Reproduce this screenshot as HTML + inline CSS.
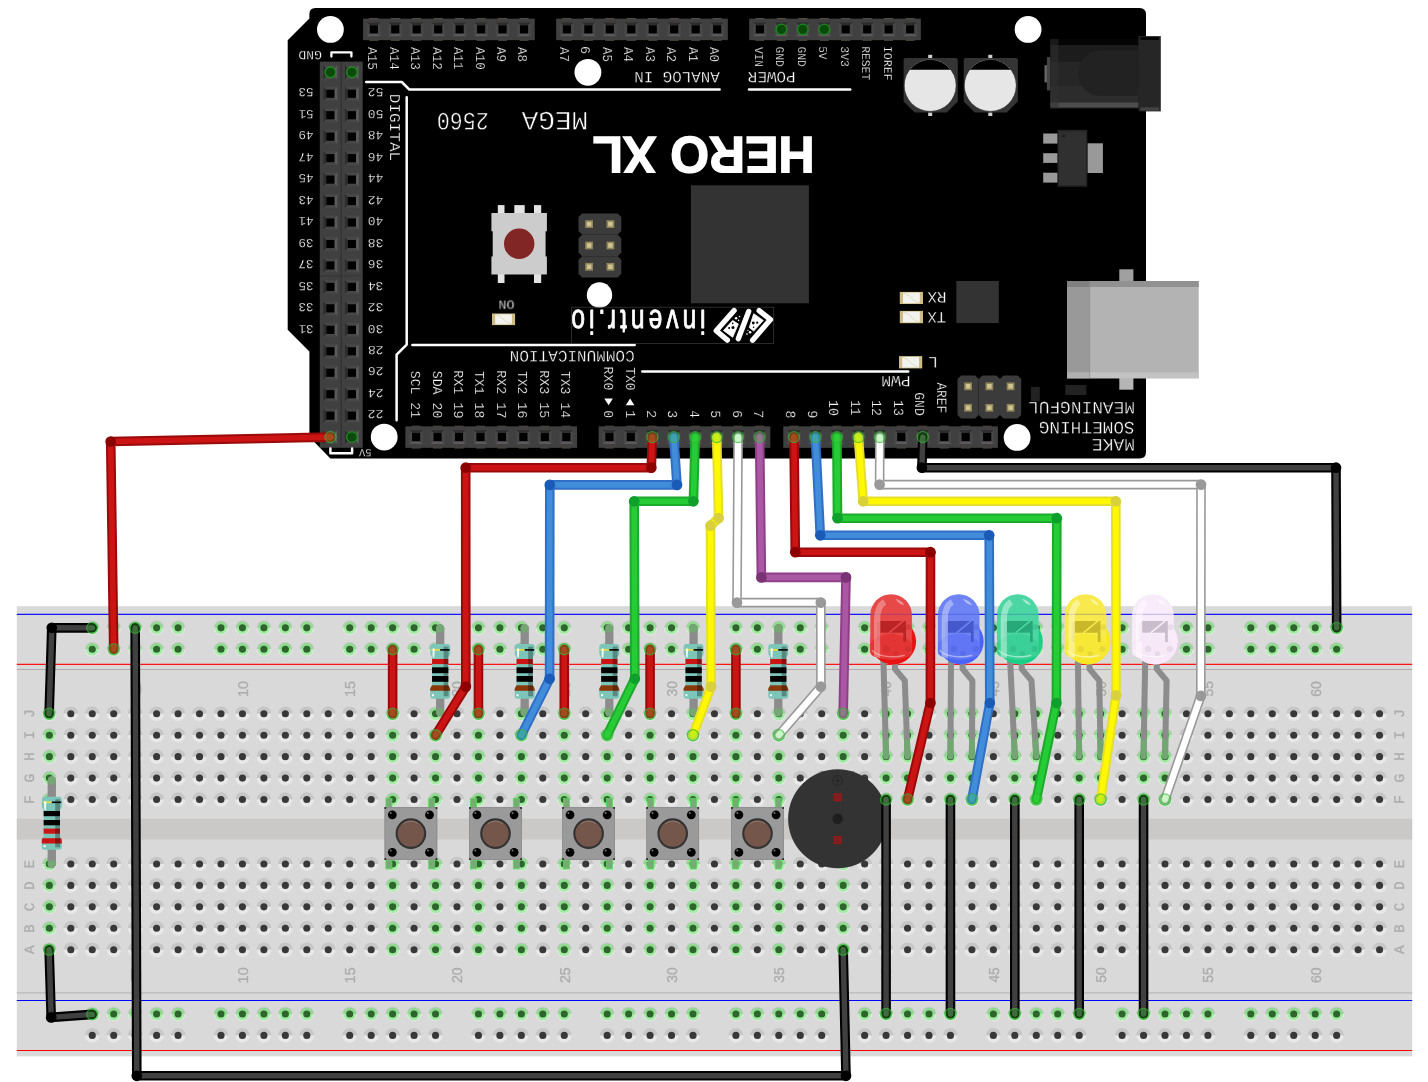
<!DOCTYPE html>
<html><head><meta charset="utf-8"><title>HERO XL breadboard wiring</title>
<style>html,body{margin:0;padding:0;background:#fff}svg{display:block;will-change:transform}text{text-rendering:geometricPrecision}</style></head>
<body><svg width="1428" height="1082" viewBox="0 0 1428 1082">
<rect x="16.8" y="606.2" width="1395.4" height="450.2" fill="#d9d9d9"/>
<rect x="16.8" y="818.7" width="1395.4" height="20.8" fill="#cbc9c7"/>
<line x1="16.8" x2="1412.2" y1="614.35" y2="614.35" stroke="#1414ff" stroke-width="1.3"/>
<line x1="16.8" x2="1412.2" y1="664.3" y2="664.3" stroke="#ff1616" stroke-width="1.3"/>
<line x1="16.8" x2="1412.2" y1="669.45" y2="669.45" stroke="#b0aeac" stroke-width="1.1"/>
<line x1="16.8" x2="1412.2" y1="992.85" y2="992.85" stroke="#bab8b8" stroke-width="1.3"/>
<line x1="16.8" x2="1412.2" y1="1000.5" y2="1000.5" stroke="#0000ff" stroke-width="1"/>
<line x1="16.8" x2="1412.2" y1="1050.5" y2="1050.5" stroke="#ff0000" stroke-width="1"/>
<defs>
<g id="h"><path d="M-7.3,0A7.3,7.3 0 0 1 7.3,0Z" fill="#c6c6c6"/><path d="M-7.3,0A7.3,7.3 0 0 0 7.3,0Z" fill="#e8e8e8"/><circle r="3.55" fill="#383838"/></g>
<g id="g"><path d="M-7.3,0A7.3,7.3 0 0 1 7.3,0Z" fill="#c6c6c6"/><path d="M-7.3,0A7.3,7.3 0 0 0 7.3,0Z" fill="#e8e8e8"/><path d="M-6.3,0A6.3,6.3 0 0 1 6.3,0Z" fill="#8edb8e"/><path d="M-6.3,0A6.3,6.3 0 0 0 6.3,0Z" fill="#a4eca4"/><circle r="3.55" fill="#2d652d"/></g>
</defs>
<use href="#g" x="92.26" y="627.85"/>
<use href="#g" x="92.26" y="649.3"/>
<use href="#g" x="92.26" y="1013.95"/>
<use href="#h" x="92.26" y="1035.4"/>
<use href="#g" x="113.72" y="627.85"/>
<use href="#g" x="113.72" y="649.3"/>
<use href="#g" x="113.72" y="1013.95"/>
<use href="#h" x="113.72" y="1035.4"/>
<use href="#g" x="135.17" y="627.85"/>
<use href="#g" x="135.17" y="649.3"/>
<use href="#g" x="135.17" y="1013.95"/>
<use href="#h" x="135.17" y="1035.4"/>
<use href="#g" x="156.62" y="627.85"/>
<use href="#g" x="156.62" y="649.3"/>
<use href="#g" x="156.62" y="1013.95"/>
<use href="#h" x="156.62" y="1035.4"/>
<use href="#g" x="178.08" y="627.85"/>
<use href="#g" x="178.08" y="649.3"/>
<use href="#g" x="178.08" y="1013.95"/>
<use href="#h" x="178.08" y="1035.4"/>
<use href="#g" x="220.99" y="627.85"/>
<use href="#g" x="220.99" y="649.3"/>
<use href="#g" x="220.99" y="1013.95"/>
<use href="#h" x="220.99" y="1035.4"/>
<use href="#g" x="242.44" y="627.85"/>
<use href="#g" x="242.44" y="649.3"/>
<use href="#g" x="242.44" y="1013.95"/>
<use href="#h" x="242.44" y="1035.4"/>
<use href="#g" x="263.9" y="627.85"/>
<use href="#g" x="263.9" y="649.3"/>
<use href="#g" x="263.9" y="1013.95"/>
<use href="#h" x="263.9" y="1035.4"/>
<use href="#g" x="285.36" y="627.85"/>
<use href="#g" x="285.36" y="649.3"/>
<use href="#g" x="285.36" y="1013.95"/>
<use href="#h" x="285.36" y="1035.4"/>
<use href="#g" x="306.81" y="627.85"/>
<use href="#g" x="306.81" y="649.3"/>
<use href="#g" x="306.81" y="1013.95"/>
<use href="#h" x="306.81" y="1035.4"/>
<use href="#g" x="349.72" y="627.85"/>
<use href="#g" x="349.72" y="649.3"/>
<use href="#g" x="349.72" y="1013.95"/>
<use href="#h" x="349.72" y="1035.4"/>
<use href="#g" x="371.18" y="627.85"/>
<use href="#g" x="371.18" y="649.3"/>
<use href="#g" x="371.18" y="1013.95"/>
<use href="#h" x="371.18" y="1035.4"/>
<use href="#g" x="392.63" y="627.85"/>
<use href="#g" x="392.63" y="649.3"/>
<use href="#g" x="392.63" y="1013.95"/>
<use href="#h" x="392.63" y="1035.4"/>
<use href="#g" x="414.08" y="627.85"/>
<use href="#g" x="414.08" y="649.3"/>
<use href="#g" x="414.08" y="1013.95"/>
<use href="#h" x="414.08" y="1035.4"/>
<use href="#g" x="435.54" y="627.85"/>
<use href="#g" x="435.54" y="649.3"/>
<use href="#g" x="435.54" y="1013.95"/>
<use href="#h" x="435.54" y="1035.4"/>
<use href="#g" x="478.45" y="627.85"/>
<use href="#g" x="478.45" y="649.3"/>
<use href="#g" x="478.45" y="1013.95"/>
<use href="#h" x="478.45" y="1035.4"/>
<use href="#g" x="499.9" y="627.85"/>
<use href="#g" x="499.9" y="649.3"/>
<use href="#g" x="499.9" y="1013.95"/>
<use href="#h" x="499.9" y="1035.4"/>
<use href="#g" x="521.36" y="627.85"/>
<use href="#g" x="521.36" y="649.3"/>
<use href="#g" x="521.36" y="1013.95"/>
<use href="#h" x="521.36" y="1035.4"/>
<use href="#g" x="542.81" y="627.85"/>
<use href="#g" x="542.81" y="649.3"/>
<use href="#g" x="542.81" y="1013.95"/>
<use href="#h" x="542.81" y="1035.4"/>
<use href="#g" x="564.27" y="627.85"/>
<use href="#g" x="564.27" y="649.3"/>
<use href="#g" x="564.27" y="1013.95"/>
<use href="#h" x="564.27" y="1035.4"/>
<use href="#g" x="607.18" y="627.85"/>
<use href="#g" x="607.18" y="649.3"/>
<use href="#g" x="607.18" y="1013.95"/>
<use href="#h" x="607.18" y="1035.4"/>
<use href="#g" x="628.63" y="627.85"/>
<use href="#g" x="628.63" y="649.3"/>
<use href="#g" x="628.63" y="1013.95"/>
<use href="#h" x="628.63" y="1035.4"/>
<use href="#g" x="650.09" y="627.85"/>
<use href="#g" x="650.09" y="649.3"/>
<use href="#g" x="650.09" y="1013.95"/>
<use href="#h" x="650.09" y="1035.4"/>
<use href="#g" x="671.54" y="627.85"/>
<use href="#g" x="671.54" y="649.3"/>
<use href="#g" x="671.54" y="1013.95"/>
<use href="#h" x="671.54" y="1035.4"/>
<use href="#g" x="693" y="627.85"/>
<use href="#g" x="693" y="649.3"/>
<use href="#g" x="693" y="1013.95"/>
<use href="#h" x="693" y="1035.4"/>
<use href="#g" x="735.91" y="627.85"/>
<use href="#g" x="735.91" y="649.3"/>
<use href="#g" x="735.91" y="1013.95"/>
<use href="#h" x="735.91" y="1035.4"/>
<use href="#g" x="757.37" y="627.85"/>
<use href="#g" x="757.37" y="649.3"/>
<use href="#g" x="757.37" y="1013.95"/>
<use href="#h" x="757.37" y="1035.4"/>
<use href="#g" x="778.82" y="627.85"/>
<use href="#g" x="778.82" y="649.3"/>
<use href="#g" x="778.82" y="1013.95"/>
<use href="#h" x="778.82" y="1035.4"/>
<use href="#g" x="800.27" y="627.85"/>
<use href="#g" x="800.27" y="649.3"/>
<use href="#g" x="800.27" y="1013.95"/>
<use href="#h" x="800.27" y="1035.4"/>
<use href="#g" x="821.73" y="627.85"/>
<use href="#g" x="821.73" y="649.3"/>
<use href="#g" x="821.73" y="1013.95"/>
<use href="#h" x="821.73" y="1035.4"/>
<use href="#g" x="864.64" y="627.85"/>
<use href="#g" x="864.64" y="649.3"/>
<use href="#g" x="864.64" y="1013.95"/>
<use href="#h" x="864.64" y="1035.4"/>
<use href="#g" x="886.09" y="627.85"/>
<use href="#g" x="886.09" y="649.3"/>
<use href="#g" x="886.09" y="1013.95"/>
<use href="#h" x="886.09" y="1035.4"/>
<use href="#g" x="907.55" y="627.85"/>
<use href="#g" x="907.55" y="649.3"/>
<use href="#g" x="907.55" y="1013.95"/>
<use href="#h" x="907.55" y="1035.4"/>
<use href="#g" x="929" y="627.85"/>
<use href="#g" x="929" y="649.3"/>
<use href="#g" x="929" y="1013.95"/>
<use href="#h" x="929" y="1035.4"/>
<use href="#g" x="950.46" y="627.85"/>
<use href="#g" x="950.46" y="649.3"/>
<use href="#g" x="950.46" y="1013.95"/>
<use href="#h" x="950.46" y="1035.4"/>
<use href="#g" x="993.37" y="627.85"/>
<use href="#g" x="993.37" y="649.3"/>
<use href="#g" x="993.37" y="1013.95"/>
<use href="#h" x="993.37" y="1035.4"/>
<use href="#g" x="1014.82" y="627.85"/>
<use href="#g" x="1014.82" y="649.3"/>
<use href="#g" x="1014.82" y="1013.95"/>
<use href="#h" x="1014.82" y="1035.4"/>
<use href="#g" x="1036.28" y="627.85"/>
<use href="#g" x="1036.28" y="649.3"/>
<use href="#g" x="1036.28" y="1013.95"/>
<use href="#h" x="1036.28" y="1035.4"/>
<use href="#g" x="1057.73" y="627.85"/>
<use href="#g" x="1057.73" y="649.3"/>
<use href="#g" x="1057.73" y="1013.95"/>
<use href="#h" x="1057.73" y="1035.4"/>
<use href="#g" x="1079.19" y="627.85"/>
<use href="#g" x="1079.19" y="649.3"/>
<use href="#g" x="1079.19" y="1013.95"/>
<use href="#h" x="1079.19" y="1035.4"/>
<use href="#g" x="1122.1" y="627.85"/>
<use href="#g" x="1122.1" y="649.3"/>
<use href="#g" x="1122.1" y="1013.95"/>
<use href="#h" x="1122.1" y="1035.4"/>
<use href="#g" x="1143.55" y="627.85"/>
<use href="#g" x="1143.55" y="649.3"/>
<use href="#g" x="1143.55" y="1013.95"/>
<use href="#h" x="1143.55" y="1035.4"/>
<use href="#g" x="1165.01" y="627.85"/>
<use href="#g" x="1165.01" y="649.3"/>
<use href="#g" x="1165.01" y="1013.95"/>
<use href="#h" x="1165.01" y="1035.4"/>
<use href="#g" x="1186.46" y="627.85"/>
<use href="#g" x="1186.46" y="649.3"/>
<use href="#g" x="1186.46" y="1013.95"/>
<use href="#h" x="1186.46" y="1035.4"/>
<use href="#g" x="1207.92" y="627.85"/>
<use href="#g" x="1207.92" y="649.3"/>
<use href="#g" x="1207.92" y="1013.95"/>
<use href="#h" x="1207.92" y="1035.4"/>
<use href="#g" x="1250.83" y="627.85"/>
<use href="#g" x="1250.83" y="649.3"/>
<use href="#g" x="1250.83" y="1013.95"/>
<use href="#h" x="1250.83" y="1035.4"/>
<use href="#g" x="1272.28" y="627.85"/>
<use href="#g" x="1272.28" y="649.3"/>
<use href="#g" x="1272.28" y="1013.95"/>
<use href="#h" x="1272.28" y="1035.4"/>
<use href="#g" x="1293.74" y="627.85"/>
<use href="#g" x="1293.74" y="649.3"/>
<use href="#g" x="1293.74" y="1013.95"/>
<use href="#h" x="1293.74" y="1035.4"/>
<use href="#g" x="1315.19" y="627.85"/>
<use href="#g" x="1315.19" y="649.3"/>
<use href="#g" x="1315.19" y="1013.95"/>
<use href="#h" x="1315.19" y="1035.4"/>
<use href="#g" x="1336.65" y="627.85"/>
<use href="#g" x="1336.65" y="649.3"/>
<use href="#g" x="1336.65" y="1013.95"/>
<use href="#h" x="1336.65" y="1035.4"/>
<use href="#g" x="49.35" y="713.75"/>
<use href="#g" x="49.35" y="735.2"/>
<use href="#g" x="49.35" y="756.65"/>
<use href="#g" x="49.35" y="778.1"/>
<use href="#g" x="49.35" y="799.55"/>
<use href="#g" x="49.35" y="863.95"/>
<use href="#g" x="49.35" y="885.4"/>
<use href="#g" x="49.35" y="906.85"/>
<use href="#g" x="49.35" y="928.3"/>
<use href="#g" x="49.35" y="949.75"/>
<use href="#h" x="70.81" y="713.75"/>
<use href="#h" x="70.81" y="735.2"/>
<use href="#h" x="70.81" y="756.65"/>
<use href="#h" x="70.81" y="778.1"/>
<use href="#h" x="70.81" y="799.55"/>
<use href="#h" x="70.81" y="863.95"/>
<use href="#h" x="70.81" y="885.4"/>
<use href="#h" x="70.81" y="906.85"/>
<use href="#h" x="70.81" y="928.3"/>
<use href="#h" x="70.81" y="949.75"/>
<use href="#h" x="92.26" y="713.75"/>
<use href="#h" x="92.26" y="735.2"/>
<use href="#h" x="92.26" y="756.65"/>
<use href="#h" x="92.26" y="778.1"/>
<use href="#h" x="92.26" y="799.55"/>
<use href="#h" x="92.26" y="863.95"/>
<use href="#h" x="92.26" y="885.4"/>
<use href="#h" x="92.26" y="906.85"/>
<use href="#h" x="92.26" y="928.3"/>
<use href="#h" x="92.26" y="949.75"/>
<use href="#h" x="113.72" y="713.75"/>
<use href="#h" x="113.72" y="735.2"/>
<use href="#h" x="113.72" y="756.65"/>
<use href="#h" x="113.72" y="778.1"/>
<use href="#h" x="113.72" y="799.55"/>
<use href="#h" x="113.72" y="863.95"/>
<use href="#h" x="113.72" y="885.4"/>
<use href="#h" x="113.72" y="906.85"/>
<use href="#h" x="113.72" y="928.3"/>
<use href="#h" x="113.72" y="949.75"/>
<use href="#h" x="135.17" y="713.75"/>
<use href="#h" x="135.17" y="735.2"/>
<use href="#h" x="135.17" y="756.65"/>
<use href="#h" x="135.17" y="778.1"/>
<use href="#h" x="135.17" y="799.55"/>
<use href="#h" x="135.17" y="863.95"/>
<use href="#h" x="135.17" y="885.4"/>
<use href="#h" x="135.17" y="906.85"/>
<use href="#h" x="135.17" y="928.3"/>
<use href="#h" x="135.17" y="949.75"/>
<use href="#h" x="156.62" y="713.75"/>
<use href="#h" x="156.62" y="735.2"/>
<use href="#h" x="156.62" y="756.65"/>
<use href="#h" x="156.62" y="778.1"/>
<use href="#h" x="156.62" y="799.55"/>
<use href="#h" x="156.62" y="863.95"/>
<use href="#h" x="156.62" y="885.4"/>
<use href="#h" x="156.62" y="906.85"/>
<use href="#h" x="156.62" y="928.3"/>
<use href="#h" x="156.62" y="949.75"/>
<use href="#h" x="178.08" y="713.75"/>
<use href="#h" x="178.08" y="735.2"/>
<use href="#h" x="178.08" y="756.65"/>
<use href="#h" x="178.08" y="778.1"/>
<use href="#h" x="178.08" y="799.55"/>
<use href="#h" x="178.08" y="863.95"/>
<use href="#h" x="178.08" y="885.4"/>
<use href="#h" x="178.08" y="906.85"/>
<use href="#h" x="178.08" y="928.3"/>
<use href="#h" x="178.08" y="949.75"/>
<use href="#h" x="199.53" y="713.75"/>
<use href="#h" x="199.53" y="735.2"/>
<use href="#h" x="199.53" y="756.65"/>
<use href="#h" x="199.53" y="778.1"/>
<use href="#h" x="199.53" y="799.55"/>
<use href="#h" x="199.53" y="863.95"/>
<use href="#h" x="199.53" y="885.4"/>
<use href="#h" x="199.53" y="906.85"/>
<use href="#h" x="199.53" y="928.3"/>
<use href="#h" x="199.53" y="949.75"/>
<use href="#h" x="220.99" y="713.75"/>
<use href="#h" x="220.99" y="735.2"/>
<use href="#h" x="220.99" y="756.65"/>
<use href="#h" x="220.99" y="778.1"/>
<use href="#h" x="220.99" y="799.55"/>
<use href="#h" x="220.99" y="863.95"/>
<use href="#h" x="220.99" y="885.4"/>
<use href="#h" x="220.99" y="906.85"/>
<use href="#h" x="220.99" y="928.3"/>
<use href="#h" x="220.99" y="949.75"/>
<use href="#h" x="242.44" y="713.75"/>
<use href="#h" x="242.44" y="735.2"/>
<use href="#h" x="242.44" y="756.65"/>
<use href="#h" x="242.44" y="778.1"/>
<use href="#h" x="242.44" y="799.55"/>
<use href="#h" x="242.44" y="863.95"/>
<use href="#h" x="242.44" y="885.4"/>
<use href="#h" x="242.44" y="906.85"/>
<use href="#h" x="242.44" y="928.3"/>
<use href="#h" x="242.44" y="949.75"/>
<use href="#h" x="263.9" y="713.75"/>
<use href="#h" x="263.9" y="735.2"/>
<use href="#h" x="263.9" y="756.65"/>
<use href="#h" x="263.9" y="778.1"/>
<use href="#h" x="263.9" y="799.55"/>
<use href="#h" x="263.9" y="863.95"/>
<use href="#h" x="263.9" y="885.4"/>
<use href="#h" x="263.9" y="906.85"/>
<use href="#h" x="263.9" y="928.3"/>
<use href="#h" x="263.9" y="949.75"/>
<use href="#h" x="285.36" y="713.75"/>
<use href="#h" x="285.36" y="735.2"/>
<use href="#h" x="285.36" y="756.65"/>
<use href="#h" x="285.36" y="778.1"/>
<use href="#h" x="285.36" y="799.55"/>
<use href="#h" x="285.36" y="863.95"/>
<use href="#h" x="285.36" y="885.4"/>
<use href="#h" x="285.36" y="906.85"/>
<use href="#h" x="285.36" y="928.3"/>
<use href="#h" x="285.36" y="949.75"/>
<use href="#h" x="306.81" y="713.75"/>
<use href="#h" x="306.81" y="735.2"/>
<use href="#h" x="306.81" y="756.65"/>
<use href="#h" x="306.81" y="778.1"/>
<use href="#h" x="306.81" y="799.55"/>
<use href="#h" x="306.81" y="863.95"/>
<use href="#h" x="306.81" y="885.4"/>
<use href="#h" x="306.81" y="906.85"/>
<use href="#h" x="306.81" y="928.3"/>
<use href="#h" x="306.81" y="949.75"/>
<use href="#h" x="328.26" y="713.75"/>
<use href="#h" x="328.26" y="735.2"/>
<use href="#h" x="328.26" y="756.65"/>
<use href="#h" x="328.26" y="778.1"/>
<use href="#h" x="328.26" y="799.55"/>
<use href="#h" x="328.26" y="863.95"/>
<use href="#h" x="328.26" y="885.4"/>
<use href="#h" x="328.26" y="906.85"/>
<use href="#h" x="328.26" y="928.3"/>
<use href="#h" x="328.26" y="949.75"/>
<use href="#h" x="349.72" y="713.75"/>
<use href="#h" x="349.72" y="735.2"/>
<use href="#h" x="349.72" y="756.65"/>
<use href="#h" x="349.72" y="778.1"/>
<use href="#h" x="349.72" y="799.55"/>
<use href="#h" x="349.72" y="863.95"/>
<use href="#h" x="349.72" y="885.4"/>
<use href="#h" x="349.72" y="906.85"/>
<use href="#h" x="349.72" y="928.3"/>
<use href="#h" x="349.72" y="949.75"/>
<use href="#h" x="371.18" y="713.75"/>
<use href="#h" x="371.18" y="735.2"/>
<use href="#h" x="371.18" y="756.65"/>
<use href="#h" x="371.18" y="778.1"/>
<use href="#h" x="371.18" y="799.55"/>
<use href="#h" x="371.18" y="863.95"/>
<use href="#h" x="371.18" y="885.4"/>
<use href="#h" x="371.18" y="906.85"/>
<use href="#h" x="371.18" y="928.3"/>
<use href="#h" x="371.18" y="949.75"/>
<use href="#g" x="392.63" y="713.75"/>
<use href="#g" x="392.63" y="735.2"/>
<use href="#g" x="392.63" y="756.65"/>
<use href="#g" x="392.63" y="778.1"/>
<use href="#g" x="392.63" y="799.55"/>
<use href="#g" x="392.63" y="863.95"/>
<use href="#g" x="392.63" y="885.4"/>
<use href="#g" x="392.63" y="906.85"/>
<use href="#g" x="392.63" y="928.3"/>
<use href="#g" x="392.63" y="949.75"/>
<use href="#h" x="414.08" y="713.75"/>
<use href="#h" x="414.08" y="735.2"/>
<use href="#h" x="414.08" y="756.65"/>
<use href="#h" x="414.08" y="778.1"/>
<use href="#h" x="414.08" y="799.55"/>
<use href="#h" x="414.08" y="863.95"/>
<use href="#h" x="414.08" y="885.4"/>
<use href="#h" x="414.08" y="906.85"/>
<use href="#h" x="414.08" y="928.3"/>
<use href="#h" x="414.08" y="949.75"/>
<use href="#g" x="435.54" y="713.75"/>
<use href="#g" x="435.54" y="735.2"/>
<use href="#g" x="435.54" y="756.65"/>
<use href="#g" x="435.54" y="778.1"/>
<use href="#g" x="435.54" y="799.55"/>
<use href="#g" x="435.54" y="863.95"/>
<use href="#g" x="435.54" y="885.4"/>
<use href="#g" x="435.54" y="906.85"/>
<use href="#g" x="435.54" y="928.3"/>
<use href="#g" x="435.54" y="949.75"/>
<use href="#h" x="457" y="713.75"/>
<use href="#h" x="457" y="735.2"/>
<use href="#h" x="457" y="756.65"/>
<use href="#h" x="457" y="778.1"/>
<use href="#h" x="457" y="799.55"/>
<use href="#h" x="457" y="863.95"/>
<use href="#h" x="457" y="885.4"/>
<use href="#h" x="457" y="906.85"/>
<use href="#h" x="457" y="928.3"/>
<use href="#h" x="457" y="949.75"/>
<use href="#g" x="478.45" y="713.75"/>
<use href="#g" x="478.45" y="735.2"/>
<use href="#g" x="478.45" y="756.65"/>
<use href="#g" x="478.45" y="778.1"/>
<use href="#g" x="478.45" y="799.55"/>
<use href="#g" x="478.45" y="863.95"/>
<use href="#g" x="478.45" y="885.4"/>
<use href="#g" x="478.45" y="906.85"/>
<use href="#g" x="478.45" y="928.3"/>
<use href="#g" x="478.45" y="949.75"/>
<use href="#h" x="499.9" y="713.75"/>
<use href="#h" x="499.9" y="735.2"/>
<use href="#h" x="499.9" y="756.65"/>
<use href="#h" x="499.9" y="778.1"/>
<use href="#h" x="499.9" y="799.55"/>
<use href="#h" x="499.9" y="863.95"/>
<use href="#h" x="499.9" y="885.4"/>
<use href="#h" x="499.9" y="906.85"/>
<use href="#h" x="499.9" y="928.3"/>
<use href="#h" x="499.9" y="949.75"/>
<use href="#g" x="521.36" y="713.75"/>
<use href="#g" x="521.36" y="735.2"/>
<use href="#g" x="521.36" y="756.65"/>
<use href="#g" x="521.36" y="778.1"/>
<use href="#g" x="521.36" y="799.55"/>
<use href="#g" x="521.36" y="863.95"/>
<use href="#g" x="521.36" y="885.4"/>
<use href="#g" x="521.36" y="906.85"/>
<use href="#g" x="521.36" y="928.3"/>
<use href="#g" x="521.36" y="949.75"/>
<use href="#h" x="542.81" y="713.75"/>
<use href="#h" x="542.81" y="735.2"/>
<use href="#h" x="542.81" y="756.65"/>
<use href="#h" x="542.81" y="778.1"/>
<use href="#h" x="542.81" y="799.55"/>
<use href="#h" x="542.81" y="863.95"/>
<use href="#h" x="542.81" y="885.4"/>
<use href="#h" x="542.81" y="906.85"/>
<use href="#h" x="542.81" y="928.3"/>
<use href="#h" x="542.81" y="949.75"/>
<use href="#g" x="564.27" y="713.75"/>
<use href="#g" x="564.27" y="735.2"/>
<use href="#g" x="564.27" y="756.65"/>
<use href="#g" x="564.27" y="778.1"/>
<use href="#g" x="564.27" y="799.55"/>
<use href="#g" x="564.27" y="863.95"/>
<use href="#g" x="564.27" y="885.4"/>
<use href="#g" x="564.27" y="906.85"/>
<use href="#g" x="564.27" y="928.3"/>
<use href="#g" x="564.27" y="949.75"/>
<use href="#h" x="585.73" y="713.75"/>
<use href="#h" x="585.73" y="735.2"/>
<use href="#h" x="585.73" y="756.65"/>
<use href="#h" x="585.73" y="778.1"/>
<use href="#h" x="585.73" y="799.55"/>
<use href="#h" x="585.73" y="863.95"/>
<use href="#h" x="585.73" y="885.4"/>
<use href="#h" x="585.73" y="906.85"/>
<use href="#h" x="585.73" y="928.3"/>
<use href="#h" x="585.73" y="949.75"/>
<use href="#g" x="607.18" y="713.75"/>
<use href="#g" x="607.18" y="735.2"/>
<use href="#g" x="607.18" y="756.65"/>
<use href="#g" x="607.18" y="778.1"/>
<use href="#g" x="607.18" y="799.55"/>
<use href="#g" x="607.18" y="863.95"/>
<use href="#g" x="607.18" y="885.4"/>
<use href="#g" x="607.18" y="906.85"/>
<use href="#g" x="607.18" y="928.3"/>
<use href="#g" x="607.18" y="949.75"/>
<use href="#h" x="628.63" y="713.75"/>
<use href="#h" x="628.63" y="735.2"/>
<use href="#h" x="628.63" y="756.65"/>
<use href="#h" x="628.63" y="778.1"/>
<use href="#h" x="628.63" y="799.55"/>
<use href="#h" x="628.63" y="863.95"/>
<use href="#h" x="628.63" y="885.4"/>
<use href="#h" x="628.63" y="906.85"/>
<use href="#h" x="628.63" y="928.3"/>
<use href="#h" x="628.63" y="949.75"/>
<use href="#g" x="650.09" y="713.75"/>
<use href="#g" x="650.09" y="735.2"/>
<use href="#g" x="650.09" y="756.65"/>
<use href="#g" x="650.09" y="778.1"/>
<use href="#g" x="650.09" y="799.55"/>
<use href="#g" x="650.09" y="863.95"/>
<use href="#g" x="650.09" y="885.4"/>
<use href="#g" x="650.09" y="906.85"/>
<use href="#g" x="650.09" y="928.3"/>
<use href="#g" x="650.09" y="949.75"/>
<use href="#h" x="671.54" y="713.75"/>
<use href="#h" x="671.54" y="735.2"/>
<use href="#h" x="671.54" y="756.65"/>
<use href="#h" x="671.54" y="778.1"/>
<use href="#h" x="671.54" y="799.55"/>
<use href="#h" x="671.54" y="863.95"/>
<use href="#h" x="671.54" y="885.4"/>
<use href="#h" x="671.54" y="906.85"/>
<use href="#h" x="671.54" y="928.3"/>
<use href="#h" x="671.54" y="949.75"/>
<use href="#g" x="693" y="713.75"/>
<use href="#g" x="693" y="735.2"/>
<use href="#g" x="693" y="756.65"/>
<use href="#g" x="693" y="778.1"/>
<use href="#g" x="693" y="799.55"/>
<use href="#g" x="693" y="863.95"/>
<use href="#g" x="693" y="885.4"/>
<use href="#g" x="693" y="906.85"/>
<use href="#g" x="693" y="928.3"/>
<use href="#g" x="693" y="949.75"/>
<use href="#h" x="714.45" y="713.75"/>
<use href="#h" x="714.45" y="735.2"/>
<use href="#h" x="714.45" y="756.65"/>
<use href="#h" x="714.45" y="778.1"/>
<use href="#h" x="714.45" y="799.55"/>
<use href="#h" x="714.45" y="863.95"/>
<use href="#h" x="714.45" y="885.4"/>
<use href="#h" x="714.45" y="906.85"/>
<use href="#h" x="714.45" y="928.3"/>
<use href="#h" x="714.45" y="949.75"/>
<use href="#g" x="735.91" y="713.75"/>
<use href="#g" x="735.91" y="735.2"/>
<use href="#g" x="735.91" y="756.65"/>
<use href="#g" x="735.91" y="778.1"/>
<use href="#g" x="735.91" y="799.55"/>
<use href="#g" x="735.91" y="863.95"/>
<use href="#g" x="735.91" y="885.4"/>
<use href="#g" x="735.91" y="906.85"/>
<use href="#g" x="735.91" y="928.3"/>
<use href="#g" x="735.91" y="949.75"/>
<use href="#h" x="757.37" y="713.75"/>
<use href="#h" x="757.37" y="735.2"/>
<use href="#h" x="757.37" y="756.65"/>
<use href="#h" x="757.37" y="778.1"/>
<use href="#h" x="757.37" y="799.55"/>
<use href="#h" x="757.37" y="863.95"/>
<use href="#h" x="757.37" y="885.4"/>
<use href="#h" x="757.37" y="906.85"/>
<use href="#h" x="757.37" y="928.3"/>
<use href="#h" x="757.37" y="949.75"/>
<use href="#g" x="778.82" y="713.75"/>
<use href="#g" x="778.82" y="735.2"/>
<use href="#g" x="778.82" y="756.65"/>
<use href="#g" x="778.82" y="778.1"/>
<use href="#g" x="778.82" y="799.55"/>
<use href="#g" x="778.82" y="863.95"/>
<use href="#g" x="778.82" y="885.4"/>
<use href="#g" x="778.82" y="906.85"/>
<use href="#g" x="778.82" y="928.3"/>
<use href="#g" x="778.82" y="949.75"/>
<use href="#h" x="800.27" y="713.75"/>
<use href="#h" x="800.27" y="735.2"/>
<use href="#h" x="800.27" y="756.65"/>
<use href="#h" x="800.27" y="778.1"/>
<use href="#h" x="800.27" y="799.55"/>
<use href="#h" x="800.27" y="863.95"/>
<use href="#h" x="800.27" y="885.4"/>
<use href="#h" x="800.27" y="906.85"/>
<use href="#h" x="800.27" y="928.3"/>
<use href="#h" x="800.27" y="949.75"/>
<use href="#h" x="821.73" y="713.75"/>
<use href="#h" x="821.73" y="735.2"/>
<use href="#h" x="821.73" y="756.65"/>
<use href="#h" x="821.73" y="778.1"/>
<use href="#h" x="821.73" y="799.55"/>
<use href="#h" x="821.73" y="863.95"/>
<use href="#h" x="821.73" y="885.4"/>
<use href="#h" x="821.73" y="906.85"/>
<use href="#h" x="821.73" y="928.3"/>
<use href="#h" x="821.73" y="949.75"/>
<use href="#g" x="843.18" y="713.75"/>
<use href="#g" x="843.18" y="735.2"/>
<use href="#g" x="843.18" y="756.65"/>
<use href="#g" x="843.18" y="778.1"/>
<use href="#g" x="843.18" y="799.55"/>
<use href="#g" x="843.18" y="863.95"/>
<use href="#g" x="843.18" y="885.4"/>
<use href="#g" x="843.18" y="906.85"/>
<use href="#g" x="843.18" y="928.3"/>
<use href="#g" x="843.18" y="949.75"/>
<use href="#h" x="864.64" y="713.75"/>
<use href="#h" x="864.64" y="735.2"/>
<use href="#h" x="864.64" y="756.65"/>
<use href="#h" x="864.64" y="778.1"/>
<use href="#h" x="864.64" y="799.55"/>
<use href="#h" x="864.64" y="863.95"/>
<use href="#h" x="864.64" y="885.4"/>
<use href="#h" x="864.64" y="906.85"/>
<use href="#h" x="864.64" y="928.3"/>
<use href="#h" x="864.64" y="949.75"/>
<use href="#g" x="886.09" y="713.75"/>
<use href="#g" x="886.09" y="735.2"/>
<use href="#g" x="886.09" y="756.65"/>
<use href="#g" x="886.09" y="778.1"/>
<use href="#g" x="886.09" y="799.55"/>
<use href="#h" x="886.09" y="863.95"/>
<use href="#h" x="886.09" y="885.4"/>
<use href="#h" x="886.09" y="906.85"/>
<use href="#h" x="886.09" y="928.3"/>
<use href="#h" x="886.09" y="949.75"/>
<use href="#g" x="907.55" y="713.75"/>
<use href="#g" x="907.55" y="735.2"/>
<use href="#g" x="907.55" y="756.65"/>
<use href="#g" x="907.55" y="778.1"/>
<use href="#g" x="907.55" y="799.55"/>
<use href="#h" x="907.55" y="863.95"/>
<use href="#h" x="907.55" y="885.4"/>
<use href="#h" x="907.55" y="906.85"/>
<use href="#h" x="907.55" y="928.3"/>
<use href="#h" x="907.55" y="949.75"/>
<use href="#h" x="929" y="713.75"/>
<use href="#h" x="929" y="735.2"/>
<use href="#h" x="929" y="756.65"/>
<use href="#h" x="929" y="778.1"/>
<use href="#h" x="929" y="799.55"/>
<use href="#h" x="929" y="863.95"/>
<use href="#h" x="929" y="885.4"/>
<use href="#h" x="929" y="906.85"/>
<use href="#h" x="929" y="928.3"/>
<use href="#h" x="929" y="949.75"/>
<use href="#g" x="950.46" y="713.75"/>
<use href="#g" x="950.46" y="735.2"/>
<use href="#g" x="950.46" y="756.65"/>
<use href="#g" x="950.46" y="778.1"/>
<use href="#g" x="950.46" y="799.55"/>
<use href="#h" x="950.46" y="863.95"/>
<use href="#h" x="950.46" y="885.4"/>
<use href="#h" x="950.46" y="906.85"/>
<use href="#h" x="950.46" y="928.3"/>
<use href="#h" x="950.46" y="949.75"/>
<use href="#g" x="971.91" y="713.75"/>
<use href="#g" x="971.91" y="735.2"/>
<use href="#g" x="971.91" y="756.65"/>
<use href="#g" x="971.91" y="778.1"/>
<use href="#g" x="971.91" y="799.55"/>
<use href="#h" x="971.91" y="863.95"/>
<use href="#h" x="971.91" y="885.4"/>
<use href="#h" x="971.91" y="906.85"/>
<use href="#h" x="971.91" y="928.3"/>
<use href="#h" x="971.91" y="949.75"/>
<use href="#h" x="993.37" y="713.75"/>
<use href="#h" x="993.37" y="735.2"/>
<use href="#h" x="993.37" y="756.65"/>
<use href="#h" x="993.37" y="778.1"/>
<use href="#h" x="993.37" y="799.55"/>
<use href="#h" x="993.37" y="863.95"/>
<use href="#h" x="993.37" y="885.4"/>
<use href="#h" x="993.37" y="906.85"/>
<use href="#h" x="993.37" y="928.3"/>
<use href="#h" x="993.37" y="949.75"/>
<use href="#g" x="1014.82" y="713.75"/>
<use href="#g" x="1014.82" y="735.2"/>
<use href="#g" x="1014.82" y="756.65"/>
<use href="#g" x="1014.82" y="778.1"/>
<use href="#g" x="1014.82" y="799.55"/>
<use href="#h" x="1014.82" y="863.95"/>
<use href="#h" x="1014.82" y="885.4"/>
<use href="#h" x="1014.82" y="906.85"/>
<use href="#h" x="1014.82" y="928.3"/>
<use href="#h" x="1014.82" y="949.75"/>
<use href="#g" x="1036.28" y="713.75"/>
<use href="#g" x="1036.28" y="735.2"/>
<use href="#g" x="1036.28" y="756.65"/>
<use href="#g" x="1036.28" y="778.1"/>
<use href="#g" x="1036.28" y="799.55"/>
<use href="#h" x="1036.28" y="863.95"/>
<use href="#h" x="1036.28" y="885.4"/>
<use href="#h" x="1036.28" y="906.85"/>
<use href="#h" x="1036.28" y="928.3"/>
<use href="#h" x="1036.28" y="949.75"/>
<use href="#h" x="1057.73" y="713.75"/>
<use href="#h" x="1057.73" y="735.2"/>
<use href="#h" x="1057.73" y="756.65"/>
<use href="#h" x="1057.73" y="778.1"/>
<use href="#h" x="1057.73" y="799.55"/>
<use href="#h" x="1057.73" y="863.95"/>
<use href="#h" x="1057.73" y="885.4"/>
<use href="#h" x="1057.73" y="906.85"/>
<use href="#h" x="1057.73" y="928.3"/>
<use href="#h" x="1057.73" y="949.75"/>
<use href="#g" x="1079.19" y="713.75"/>
<use href="#g" x="1079.19" y="735.2"/>
<use href="#g" x="1079.19" y="756.65"/>
<use href="#g" x="1079.19" y="778.1"/>
<use href="#g" x="1079.19" y="799.55"/>
<use href="#h" x="1079.19" y="863.95"/>
<use href="#h" x="1079.19" y="885.4"/>
<use href="#h" x="1079.19" y="906.85"/>
<use href="#h" x="1079.19" y="928.3"/>
<use href="#h" x="1079.19" y="949.75"/>
<use href="#g" x="1100.64" y="713.75"/>
<use href="#g" x="1100.64" y="735.2"/>
<use href="#g" x="1100.64" y="756.65"/>
<use href="#g" x="1100.64" y="778.1"/>
<use href="#g" x="1100.64" y="799.55"/>
<use href="#h" x="1100.64" y="863.95"/>
<use href="#h" x="1100.64" y="885.4"/>
<use href="#h" x="1100.64" y="906.85"/>
<use href="#h" x="1100.64" y="928.3"/>
<use href="#h" x="1100.64" y="949.75"/>
<use href="#h" x="1122.1" y="713.75"/>
<use href="#h" x="1122.1" y="735.2"/>
<use href="#h" x="1122.1" y="756.65"/>
<use href="#h" x="1122.1" y="778.1"/>
<use href="#h" x="1122.1" y="799.55"/>
<use href="#h" x="1122.1" y="863.95"/>
<use href="#h" x="1122.1" y="885.4"/>
<use href="#h" x="1122.1" y="906.85"/>
<use href="#h" x="1122.1" y="928.3"/>
<use href="#h" x="1122.1" y="949.75"/>
<use href="#g" x="1143.55" y="713.75"/>
<use href="#g" x="1143.55" y="735.2"/>
<use href="#g" x="1143.55" y="756.65"/>
<use href="#g" x="1143.55" y="778.1"/>
<use href="#g" x="1143.55" y="799.55"/>
<use href="#h" x="1143.55" y="863.95"/>
<use href="#h" x="1143.55" y="885.4"/>
<use href="#h" x="1143.55" y="906.85"/>
<use href="#h" x="1143.55" y="928.3"/>
<use href="#h" x="1143.55" y="949.75"/>
<use href="#g" x="1165.01" y="713.75"/>
<use href="#g" x="1165.01" y="735.2"/>
<use href="#g" x="1165.01" y="756.65"/>
<use href="#g" x="1165.01" y="778.1"/>
<use href="#g" x="1165.01" y="799.55"/>
<use href="#h" x="1165.01" y="863.95"/>
<use href="#h" x="1165.01" y="885.4"/>
<use href="#h" x="1165.01" y="906.85"/>
<use href="#h" x="1165.01" y="928.3"/>
<use href="#h" x="1165.01" y="949.75"/>
<use href="#h" x="1186.46" y="713.75"/>
<use href="#h" x="1186.46" y="735.2"/>
<use href="#h" x="1186.46" y="756.65"/>
<use href="#h" x="1186.46" y="778.1"/>
<use href="#h" x="1186.46" y="799.55"/>
<use href="#h" x="1186.46" y="863.95"/>
<use href="#h" x="1186.46" y="885.4"/>
<use href="#h" x="1186.46" y="906.85"/>
<use href="#h" x="1186.46" y="928.3"/>
<use href="#h" x="1186.46" y="949.75"/>
<use href="#h" x="1207.92" y="713.75"/>
<use href="#h" x="1207.92" y="735.2"/>
<use href="#h" x="1207.92" y="756.65"/>
<use href="#h" x="1207.92" y="778.1"/>
<use href="#h" x="1207.92" y="799.55"/>
<use href="#h" x="1207.92" y="863.95"/>
<use href="#h" x="1207.92" y="885.4"/>
<use href="#h" x="1207.92" y="906.85"/>
<use href="#h" x="1207.92" y="928.3"/>
<use href="#h" x="1207.92" y="949.75"/>
<use href="#h" x="1229.37" y="713.75"/>
<use href="#h" x="1229.37" y="735.2"/>
<use href="#h" x="1229.37" y="756.65"/>
<use href="#h" x="1229.37" y="778.1"/>
<use href="#h" x="1229.37" y="799.55"/>
<use href="#h" x="1229.37" y="863.95"/>
<use href="#h" x="1229.37" y="885.4"/>
<use href="#h" x="1229.37" y="906.85"/>
<use href="#h" x="1229.37" y="928.3"/>
<use href="#h" x="1229.37" y="949.75"/>
<use href="#h" x="1250.83" y="713.75"/>
<use href="#h" x="1250.83" y="735.2"/>
<use href="#h" x="1250.83" y="756.65"/>
<use href="#h" x="1250.83" y="778.1"/>
<use href="#h" x="1250.83" y="799.55"/>
<use href="#h" x="1250.83" y="863.95"/>
<use href="#h" x="1250.83" y="885.4"/>
<use href="#h" x="1250.83" y="906.85"/>
<use href="#h" x="1250.83" y="928.3"/>
<use href="#h" x="1250.83" y="949.75"/>
<use href="#h" x="1272.28" y="713.75"/>
<use href="#h" x="1272.28" y="735.2"/>
<use href="#h" x="1272.28" y="756.65"/>
<use href="#h" x="1272.28" y="778.1"/>
<use href="#h" x="1272.28" y="799.55"/>
<use href="#h" x="1272.28" y="863.95"/>
<use href="#h" x="1272.28" y="885.4"/>
<use href="#h" x="1272.28" y="906.85"/>
<use href="#h" x="1272.28" y="928.3"/>
<use href="#h" x="1272.28" y="949.75"/>
<use href="#h" x="1293.74" y="713.75"/>
<use href="#h" x="1293.74" y="735.2"/>
<use href="#h" x="1293.74" y="756.65"/>
<use href="#h" x="1293.74" y="778.1"/>
<use href="#h" x="1293.74" y="799.55"/>
<use href="#h" x="1293.74" y="863.95"/>
<use href="#h" x="1293.74" y="885.4"/>
<use href="#h" x="1293.74" y="906.85"/>
<use href="#h" x="1293.74" y="928.3"/>
<use href="#h" x="1293.74" y="949.75"/>
<use href="#h" x="1315.19" y="713.75"/>
<use href="#h" x="1315.19" y="735.2"/>
<use href="#h" x="1315.19" y="756.65"/>
<use href="#h" x="1315.19" y="778.1"/>
<use href="#h" x="1315.19" y="799.55"/>
<use href="#h" x="1315.19" y="863.95"/>
<use href="#h" x="1315.19" y="885.4"/>
<use href="#h" x="1315.19" y="906.85"/>
<use href="#h" x="1315.19" y="928.3"/>
<use href="#h" x="1315.19" y="949.75"/>
<use href="#h" x="1336.65" y="713.75"/>
<use href="#h" x="1336.65" y="735.2"/>
<use href="#h" x="1336.65" y="756.65"/>
<use href="#h" x="1336.65" y="778.1"/>
<use href="#h" x="1336.65" y="799.55"/>
<use href="#h" x="1336.65" y="863.95"/>
<use href="#h" x="1336.65" y="885.4"/>
<use href="#h" x="1336.65" y="906.85"/>
<use href="#h" x="1336.65" y="928.3"/>
<use href="#h" x="1336.65" y="949.75"/>
<use href="#h" x="1358.1" y="713.75"/>
<use href="#h" x="1358.1" y="735.2"/>
<use href="#h" x="1358.1" y="756.65"/>
<use href="#h" x="1358.1" y="778.1"/>
<use href="#h" x="1358.1" y="799.55"/>
<use href="#h" x="1358.1" y="863.95"/>
<use href="#h" x="1358.1" y="885.4"/>
<use href="#h" x="1358.1" y="906.85"/>
<use href="#h" x="1358.1" y="928.3"/>
<use href="#h" x="1358.1" y="949.75"/>
<use href="#h" x="1379.56" y="713.75"/>
<use href="#h" x="1379.56" y="735.2"/>
<use href="#h" x="1379.56" y="756.65"/>
<use href="#h" x="1379.56" y="778.1"/>
<use href="#h" x="1379.56" y="799.55"/>
<use href="#h" x="1379.56" y="863.95"/>
<use href="#h" x="1379.56" y="885.4"/>
<use href="#h" x="1379.56" y="906.85"/>
<use href="#h" x="1379.56" y="928.3"/>
<use href="#h" x="1379.56" y="949.75"/>
<text transform="translate(140.57,697.21) rotate(-90) scale(2.0918,1)" font-family='"Liberation Sans", sans-serif' font-size="14.49" fill="#adadad" stroke="#adadad" stroke-width="0.35">5</text>
<text transform="translate(140.57,983.51) rotate(-90) scale(2.0918,1)" font-family='"Liberation Sans", sans-serif' font-size="14.49" fill="#adadad" stroke="#adadad" stroke-width="0.35">5</text>
<text transform="translate(247.84,697.08) rotate(-90) scale(1.0080,1)" font-family='"Liberation Sans", sans-serif' font-size="14.29" fill="#adadad" stroke="#adadad" stroke-width="0.35">10</text>
<text transform="translate(247.84,983.38) rotate(-90) scale(1.0080,1)" font-family='"Liberation Sans", sans-serif' font-size="14.29" fill="#adadad" stroke="#adadad" stroke-width="0.35">10</text>
<text transform="translate(355.12,697.09) rotate(-90) scale(0.9986,1)" font-family='"Liberation Sans", sans-serif' font-size="14.49" fill="#adadad" stroke="#adadad" stroke-width="0.35">15</text>
<text transform="translate(355.12,983.39) rotate(-90) scale(0.9986,1)" font-family='"Liberation Sans", sans-serif' font-size="14.49" fill="#adadad" stroke="#adadad" stroke-width="0.35">15</text>
<text transform="translate(462.39,696.7) rotate(-90) scale(0.9834,1)" font-family='"Liberation Sans", sans-serif' font-size="14.29" fill="#adadad" stroke="#adadad" stroke-width="0.35">20</text>
<text transform="translate(462.39,983) rotate(-90) scale(0.9834,1)" font-family='"Liberation Sans", sans-serif' font-size="14.29" fill="#adadad" stroke="#adadad" stroke-width="0.35">20</text>
<text transform="translate(569.67,696.71) rotate(-90) scale(0.9882,1)" font-family='"Liberation Sans", sans-serif' font-size="14.29" fill="#adadad" stroke="#adadad" stroke-width="0.35">25</text>
<text transform="translate(569.67,983.01) rotate(-90) scale(0.9882,1)" font-family='"Liberation Sans", sans-serif' font-size="14.29" fill="#adadad" stroke="#adadad" stroke-width="0.35">25</text>
<text transform="translate(676.94,696.48) rotate(-90) scale(0.9692,1)" font-family='"Liberation Sans", sans-serif' font-size="14.29" fill="#adadad" stroke="#adadad" stroke-width="0.35">30</text>
<text transform="translate(676.94,982.78) rotate(-90) scale(0.9692,1)" font-family='"Liberation Sans", sans-serif' font-size="14.29" fill="#adadad" stroke="#adadad" stroke-width="0.35">30</text>
<text transform="translate(784.22,696.49) rotate(-90) scale(0.9739,1)" font-family='"Liberation Sans", sans-serif' font-size="14.29" fill="#adadad" stroke="#adadad" stroke-width="0.35">35</text>
<text transform="translate(784.22,982.79) rotate(-90) scale(0.9739,1)" font-family='"Liberation Sans", sans-serif' font-size="14.29" fill="#adadad" stroke="#adadad" stroke-width="0.35">35</text>
<text transform="translate(891.49,696.27) rotate(-90) scale(0.9555,1)" font-family='"Liberation Sans", sans-serif' font-size="14.29" fill="#adadad" stroke="#adadad" stroke-width="0.35">40</text>
<text transform="translate(891.49,982.57) rotate(-90) scale(0.9555,1)" font-family='"Liberation Sans", sans-serif' font-size="14.29" fill="#adadad" stroke="#adadad" stroke-width="0.35">40</text>
<text transform="translate(998.77,696.27) rotate(-90) scale(0.9463,1)" font-family='"Liberation Sans", sans-serif' font-size="14.49" fill="#adadad" stroke="#adadad" stroke-width="0.35">45</text>
<text transform="translate(998.77,982.57) rotate(-90) scale(0.9463,1)" font-family='"Liberation Sans", sans-serif' font-size="14.49" fill="#adadad" stroke="#adadad" stroke-width="0.35">45</text>
<text transform="translate(1106.04,696.56) rotate(-90) scale(0.9739,1)" font-family='"Liberation Sans", sans-serif' font-size="14.29" fill="#adadad" stroke="#adadad" stroke-width="0.35">50</text>
<text transform="translate(1106.04,982.86) rotate(-90) scale(0.9739,1)" font-family='"Liberation Sans", sans-serif' font-size="14.29" fill="#adadad" stroke="#adadad" stroke-width="0.35">50</text>
<text transform="translate(1213.32,696.56) rotate(-90) scale(0.9647,1)" font-family='"Liberation Sans", sans-serif' font-size="14.49" fill="#adadad" stroke="#adadad" stroke-width="0.35">55</text>
<text transform="translate(1213.32,982.86) rotate(-90) scale(0.9647,1)" font-family='"Liberation Sans", sans-serif' font-size="14.49" fill="#adadad" stroke="#adadad" stroke-width="0.35">55</text>
<text transform="translate(1320.59,696.7) rotate(-90) scale(0.9834,1)" font-family='"Liberation Sans", sans-serif' font-size="14.29" fill="#adadad" stroke="#adadad" stroke-width="0.35">60</text>
<text transform="translate(1320.59,983) rotate(-90) scale(0.9834,1)" font-family='"Liberation Sans", sans-serif' font-size="14.29" fill="#adadad" stroke="#adadad" stroke-width="0.35">60</text>
<text transform="translate(33.5,717.85) rotate(-90) scale(1.0004,1)" font-family='"Liberation Mono", monospace' font-size="14.39" fill="#adadad" stroke="#adadad" stroke-width="0.35">J</text>
<text transform="translate(1404.2,717.85) rotate(-90) scale(0.9900,1)" font-family='"Liberation Mono", monospace' font-size="14.55" fill="#adadad" stroke="#adadad" stroke-width="0.35">J</text>
<text transform="translate(33.5,739.52) rotate(-90) scale(1.0004,1)" font-family='"Liberation Mono", monospace' font-size="14.39" fill="#adadad" stroke="#adadad" stroke-width="0.35">I</text>
<text transform="translate(1404.2,739.52) rotate(-90) scale(0.9900,1)" font-family='"Liberation Mono", monospace' font-size="14.55" fill="#adadad" stroke="#adadad" stroke-width="0.35">I</text>
<text transform="translate(33.5,760.97) rotate(-90) scale(1.0004,1)" font-family='"Liberation Mono", monospace' font-size="14.39" fill="#adadad" stroke="#adadad" stroke-width="0.35">H</text>
<text transform="translate(1404.2,760.97) rotate(-90) scale(0.9900,1)" font-family='"Liberation Mono", monospace' font-size="14.55" fill="#adadad" stroke="#adadad" stroke-width="0.35">H</text>
<text transform="translate(33.5,782.38) rotate(-90) scale(1.0156,1)" font-family='"Liberation Mono", monospace' font-size="14.18" fill="#adadad" stroke="#adadad" stroke-width="0.35">G</text>
<text transform="translate(1404.2,782.38) rotate(-90) scale(1.0050,1)" font-family='"Liberation Mono", monospace' font-size="14.33" fill="#adadad" stroke="#adadad" stroke-width="0.35">G</text>
<text transform="translate(33.5,804.01) rotate(-90) scale(1.0004,1)" font-family='"Liberation Mono", monospace' font-size="14.39" fill="#adadad" stroke="#adadad" stroke-width="0.35">F</text>
<text transform="translate(1404.2,804.01) rotate(-90) scale(0.9900,1)" font-family='"Liberation Mono", monospace' font-size="14.55" fill="#adadad" stroke="#adadad" stroke-width="0.35">F</text>
<text transform="translate(33.5,868.45) rotate(-90) scale(1.0004,1)" font-family='"Liberation Mono", monospace' font-size="14.39" fill="#adadad" stroke="#adadad" stroke-width="0.35">E</text>
<text transform="translate(1404.2,868.45) rotate(-90) scale(0.9900,1)" font-family='"Liberation Mono", monospace' font-size="14.55" fill="#adadad" stroke="#adadad" stroke-width="0.35">E</text>
<text transform="translate(33.5,889.9) rotate(-90) scale(1.0004,1)" font-family='"Liberation Mono", monospace' font-size="14.39" fill="#adadad" stroke="#adadad" stroke-width="0.35">D</text>
<text transform="translate(1404.2,889.9) rotate(-90) scale(0.9900,1)" font-family='"Liberation Mono", monospace' font-size="14.55" fill="#adadad" stroke="#adadad" stroke-width="0.35">D</text>
<text transform="translate(33.5,911.28) rotate(-90) scale(1.0156,1)" font-family='"Liberation Mono", monospace' font-size="14.18" fill="#adadad" stroke="#adadad" stroke-width="0.35">C</text>
<text transform="translate(1404.2,911.28) rotate(-90) scale(1.0050,1)" font-family='"Liberation Mono", monospace' font-size="14.33" fill="#adadad" stroke="#adadad" stroke-width="0.35">C</text>
<text transform="translate(33.5,932.91) rotate(-90) scale(1.0004,1)" font-family='"Liberation Mono", monospace' font-size="14.39" fill="#adadad" stroke="#adadad" stroke-width="0.35">B</text>
<text transform="translate(1404.2,932.91) rotate(-90) scale(0.9900,1)" font-family='"Liberation Mono", monospace' font-size="14.55" fill="#adadad" stroke="#adadad" stroke-width="0.35">B</text>
<text transform="translate(33.5,954.07) rotate(-90) scale(1.0004,1)" font-family='"Liberation Mono", monospace' font-size="14.39" fill="#adadad" stroke="#adadad" stroke-width="0.35">A</text>
<text transform="translate(1404.2,954.07) rotate(-90) scale(0.9900,1)" font-family='"Liberation Mono", monospace' font-size="14.55" fill="#adadad" stroke="#adadad" stroke-width="0.35">A</text>
<path d="M315.4,8 L1139.5,8 Q1146,8 1146,14.5 L1146,451.9 Q1146,458.4 1139.5,458.4 L330.4,458.4 L309.4,437 L309.4,351.6 L287.7,329.7 L287.7,40.3 L309.4,18.6 L309.4,14 Q309.4,8 315.4,8 Z" fill="#000"/>
<circle cx="330.4" cy="29.4" r="13.4" fill="#fff"/>
<circle cx="587.9" cy="72.3" r="13.4" fill="#fff"/>
<circle cx="1028.1" cy="29.4" r="13.4" fill="#fff"/>
<circle cx="384.2" cy="437.1" r="13.4" fill="#fff"/>
<circle cx="599.5" cy="295" r="12.7" fill="#fff"/>
<circle cx="1017.1" cy="437.4" r="13.4" fill="#fff"/>
<rect x="363.07" y="18.65" width="171.68" height="21.5" fill="#404040"/>
<path d="M369.3,18.5 h9 M369.3,40.3 h9" stroke="#5a5546" stroke-width="0.9"/>
<path d="M366.85,22.45 h13.9 l-2.9,2.9 h-8.1 z" fill="#2d2d2d"/>
<path d="M366.85,36.35 h13.9 l-2.9,-2.9 h-8.1 z" fill="#5a5a5a"/>
<path d="M366.85,22.45 v13.9 l2.9,-2.9 v-8.1 z" fill="#474747"/>
<path d="M380.75,22.45 v13.9 l-2.9,-2.9 v-8.1 z" fill="#474747"/>
<rect x="369.75" y="25.35" width="8.1" height="8.1" fill="#000"/>
<path d="M390.76,18.5 h9 M390.76,40.3 h9" stroke="#5a5546" stroke-width="0.9"/>
<path d="M388.31,22.45 h13.9 l-2.9,2.9 h-8.1 z" fill="#2d2d2d"/>
<path d="M388.31,36.35 h13.9 l-2.9,-2.9 h-8.1 z" fill="#5a5a5a"/>
<path d="M388.31,22.45 v13.9 l2.9,-2.9 v-8.1 z" fill="#474747"/>
<path d="M402.21,22.45 v13.9 l-2.9,-2.9 v-8.1 z" fill="#474747"/>
<rect x="391.21" y="25.35" width="8.1" height="8.1" fill="#000"/>
<path d="M412.22,18.5 h9 M412.22,40.3 h9" stroke="#5a5546" stroke-width="0.9"/>
<path d="M409.77,22.45 h13.9 l-2.9,2.9 h-8.1 z" fill="#2d2d2d"/>
<path d="M409.77,36.35 h13.9 l-2.9,-2.9 h-8.1 z" fill="#5a5a5a"/>
<path d="M409.77,22.45 v13.9 l2.9,-2.9 v-8.1 z" fill="#474747"/>
<path d="M423.67,22.45 v13.9 l-2.9,-2.9 v-8.1 z" fill="#474747"/>
<rect x="412.67" y="25.35" width="8.1" height="8.1" fill="#000"/>
<path d="M433.68,18.5 h9 M433.68,40.3 h9" stroke="#5a5546" stroke-width="0.9"/>
<path d="M431.23,22.45 h13.9 l-2.9,2.9 h-8.1 z" fill="#2d2d2d"/>
<path d="M431.23,36.35 h13.9 l-2.9,-2.9 h-8.1 z" fill="#5a5a5a"/>
<path d="M431.23,22.45 v13.9 l2.9,-2.9 v-8.1 z" fill="#474747"/>
<path d="M445.13,22.45 v13.9 l-2.9,-2.9 v-8.1 z" fill="#474747"/>
<rect x="434.13" y="25.35" width="8.1" height="8.1" fill="#000"/>
<path d="M455.14,18.5 h9 M455.14,40.3 h9" stroke="#5a5546" stroke-width="0.9"/>
<path d="M452.69,22.45 h13.9 l-2.9,2.9 h-8.1 z" fill="#2d2d2d"/>
<path d="M452.69,36.35 h13.9 l-2.9,-2.9 h-8.1 z" fill="#5a5a5a"/>
<path d="M452.69,22.45 v13.9 l2.9,-2.9 v-8.1 z" fill="#474747"/>
<path d="M466.59,22.45 v13.9 l-2.9,-2.9 v-8.1 z" fill="#474747"/>
<rect x="455.59" y="25.35" width="8.1" height="8.1" fill="#000"/>
<path d="M476.6,18.5 h9 M476.6,40.3 h9" stroke="#5a5546" stroke-width="0.9"/>
<path d="M474.15,22.45 h13.9 l-2.9,2.9 h-8.1 z" fill="#2d2d2d"/>
<path d="M474.15,36.35 h13.9 l-2.9,-2.9 h-8.1 z" fill="#5a5a5a"/>
<path d="M474.15,22.45 v13.9 l2.9,-2.9 v-8.1 z" fill="#474747"/>
<path d="M488.05,22.45 v13.9 l-2.9,-2.9 v-8.1 z" fill="#474747"/>
<rect x="477.05" y="25.35" width="8.1" height="8.1" fill="#000"/>
<path d="M498.06,18.5 h9 M498.06,40.3 h9" stroke="#5a5546" stroke-width="0.9"/>
<path d="M495.61,22.45 h13.9 l-2.9,2.9 h-8.1 z" fill="#2d2d2d"/>
<path d="M495.61,36.35 h13.9 l-2.9,-2.9 h-8.1 z" fill="#5a5a5a"/>
<path d="M495.61,22.45 v13.9 l2.9,-2.9 v-8.1 z" fill="#474747"/>
<path d="M509.51,22.45 v13.9 l-2.9,-2.9 v-8.1 z" fill="#474747"/>
<rect x="498.51" y="25.35" width="8.1" height="8.1" fill="#000"/>
<path d="M519.52,18.5 h9 M519.52,40.3 h9" stroke="#5a5546" stroke-width="0.9"/>
<path d="M517.07,22.45 h13.9 l-2.9,2.9 h-8.1 z" fill="#2d2d2d"/>
<path d="M517.07,36.35 h13.9 l-2.9,-2.9 h-8.1 z" fill="#5a5a5a"/>
<path d="M517.07,22.45 v13.9 l2.9,-2.9 v-8.1 z" fill="#474747"/>
<path d="M530.97,22.45 v13.9 l-2.9,-2.9 v-8.1 z" fill="#474747"/>
<rect x="519.97" y="25.35" width="8.1" height="8.1" fill="#000"/>
<rect x="556.17" y="18.65" width="171.68" height="21.5" fill="#404040"/>
<path d="M562.4,18.5 h9 M562.4,40.3 h9" stroke="#5a5546" stroke-width="0.9"/>
<path d="M559.95,22.45 h13.9 l-2.9,2.9 h-8.1 z" fill="#2d2d2d"/>
<path d="M559.95,36.35 h13.9 l-2.9,-2.9 h-8.1 z" fill="#5a5a5a"/>
<path d="M559.95,22.45 v13.9 l2.9,-2.9 v-8.1 z" fill="#474747"/>
<path d="M573.85,22.45 v13.9 l-2.9,-2.9 v-8.1 z" fill="#474747"/>
<rect x="562.85" y="25.35" width="8.1" height="8.1" fill="#000"/>
<path d="M583.86,18.5 h9 M583.86,40.3 h9" stroke="#5a5546" stroke-width="0.9"/>
<path d="M581.41,22.45 h13.9 l-2.9,2.9 h-8.1 z" fill="#2d2d2d"/>
<path d="M581.41,36.35 h13.9 l-2.9,-2.9 h-8.1 z" fill="#5a5a5a"/>
<path d="M581.41,22.45 v13.9 l2.9,-2.9 v-8.1 z" fill="#474747"/>
<path d="M595.31,22.45 v13.9 l-2.9,-2.9 v-8.1 z" fill="#474747"/>
<rect x="584.31" y="25.35" width="8.1" height="8.1" fill="#000"/>
<path d="M605.32,18.5 h9 M605.32,40.3 h9" stroke="#5a5546" stroke-width="0.9"/>
<path d="M602.87,22.45 h13.9 l-2.9,2.9 h-8.1 z" fill="#2d2d2d"/>
<path d="M602.87,36.35 h13.9 l-2.9,-2.9 h-8.1 z" fill="#5a5a5a"/>
<path d="M602.87,22.45 v13.9 l2.9,-2.9 v-8.1 z" fill="#474747"/>
<path d="M616.77,22.45 v13.9 l-2.9,-2.9 v-8.1 z" fill="#474747"/>
<rect x="605.77" y="25.35" width="8.1" height="8.1" fill="#000"/>
<path d="M626.78,18.5 h9 M626.78,40.3 h9" stroke="#5a5546" stroke-width="0.9"/>
<path d="M624.33,22.45 h13.9 l-2.9,2.9 h-8.1 z" fill="#2d2d2d"/>
<path d="M624.33,36.35 h13.9 l-2.9,-2.9 h-8.1 z" fill="#5a5a5a"/>
<path d="M624.33,22.45 v13.9 l2.9,-2.9 v-8.1 z" fill="#474747"/>
<path d="M638.23,22.45 v13.9 l-2.9,-2.9 v-8.1 z" fill="#474747"/>
<rect x="627.23" y="25.35" width="8.1" height="8.1" fill="#000"/>
<path d="M648.24,18.5 h9 M648.24,40.3 h9" stroke="#5a5546" stroke-width="0.9"/>
<path d="M645.79,22.45 h13.9 l-2.9,2.9 h-8.1 z" fill="#2d2d2d"/>
<path d="M645.79,36.35 h13.9 l-2.9,-2.9 h-8.1 z" fill="#5a5a5a"/>
<path d="M645.79,22.45 v13.9 l2.9,-2.9 v-8.1 z" fill="#474747"/>
<path d="M659.69,22.45 v13.9 l-2.9,-2.9 v-8.1 z" fill="#474747"/>
<rect x="648.69" y="25.35" width="8.1" height="8.1" fill="#000"/>
<path d="M669.7,18.5 h9 M669.7,40.3 h9" stroke="#5a5546" stroke-width="0.9"/>
<path d="M667.25,22.45 h13.9 l-2.9,2.9 h-8.1 z" fill="#2d2d2d"/>
<path d="M667.25,36.35 h13.9 l-2.9,-2.9 h-8.1 z" fill="#5a5a5a"/>
<path d="M667.25,22.45 v13.9 l2.9,-2.9 v-8.1 z" fill="#474747"/>
<path d="M681.15,22.45 v13.9 l-2.9,-2.9 v-8.1 z" fill="#474747"/>
<rect x="670.15" y="25.35" width="8.1" height="8.1" fill="#000"/>
<path d="M691.16,18.5 h9 M691.16,40.3 h9" stroke="#5a5546" stroke-width="0.9"/>
<path d="M688.71,22.45 h13.9 l-2.9,2.9 h-8.1 z" fill="#2d2d2d"/>
<path d="M688.71,36.35 h13.9 l-2.9,-2.9 h-8.1 z" fill="#5a5a5a"/>
<path d="M688.71,22.45 v13.9 l2.9,-2.9 v-8.1 z" fill="#474747"/>
<path d="M702.61,22.45 v13.9 l-2.9,-2.9 v-8.1 z" fill="#474747"/>
<rect x="691.61" y="25.35" width="8.1" height="8.1" fill="#000"/>
<path d="M712.62,18.5 h9 M712.62,40.3 h9" stroke="#5a5546" stroke-width="0.9"/>
<path d="M710.17,22.45 h13.9 l-2.9,2.9 h-8.1 z" fill="#2d2d2d"/>
<path d="M710.17,36.35 h13.9 l-2.9,-2.9 h-8.1 z" fill="#5a5a5a"/>
<path d="M710.17,22.45 v13.9 l2.9,-2.9 v-8.1 z" fill="#474747"/>
<path d="M724.07,22.45 v13.9 l-2.9,-2.9 v-8.1 z" fill="#474747"/>
<rect x="713.07" y="25.35" width="8.1" height="8.1" fill="#000"/>
<rect x="749.17" y="18.65" width="171.68" height="21.5" fill="#404040"/>
<path d="M755.4,18.5 h9 M755.4,40.3 h9" stroke="#5a5546" stroke-width="0.9"/>
<path d="M752.95,22.45 h13.9 l-2.9,2.9 h-8.1 z" fill="#2d2d2d"/>
<path d="M752.95,36.35 h13.9 l-2.9,-2.9 h-8.1 z" fill="#5a5a5a"/>
<path d="M752.95,22.45 v13.9 l2.9,-2.9 v-8.1 z" fill="#474747"/>
<path d="M766.85,22.45 v13.9 l-2.9,-2.9 v-8.1 z" fill="#474747"/>
<rect x="755.85" y="25.35" width="8.1" height="8.1" fill="#000"/>
<path d="M776.86,18.5 h9 M776.86,40.3 h9" stroke="#5a5546" stroke-width="0.9"/>
<path d="M774.41,22.45 h13.9 l-2.9,2.9 h-8.1 z" fill="#2d2d2d"/>
<path d="M774.41,36.35 h13.9 l-2.9,-2.9 h-8.1 z" fill="#5a5a5a"/>
<path d="M774.41,22.45 v13.9 l2.9,-2.9 v-8.1 z" fill="#474747"/>
<path d="M788.31,22.45 v13.9 l-2.9,-2.9 v-8.1 z" fill="#474747"/>
<rect x="777.31" y="25.35" width="8.1" height="8.1" fill="#000"/>
<path d="M798.32,18.5 h9 M798.32,40.3 h9" stroke="#5a5546" stroke-width="0.9"/>
<path d="M795.87,22.45 h13.9 l-2.9,2.9 h-8.1 z" fill="#2d2d2d"/>
<path d="M795.87,36.35 h13.9 l-2.9,-2.9 h-8.1 z" fill="#5a5a5a"/>
<path d="M795.87,22.45 v13.9 l2.9,-2.9 v-8.1 z" fill="#474747"/>
<path d="M809.77,22.45 v13.9 l-2.9,-2.9 v-8.1 z" fill="#474747"/>
<rect x="798.77" y="25.35" width="8.1" height="8.1" fill="#000"/>
<path d="M819.78,18.5 h9 M819.78,40.3 h9" stroke="#5a5546" stroke-width="0.9"/>
<path d="M817.33,22.45 h13.9 l-2.9,2.9 h-8.1 z" fill="#2d2d2d"/>
<path d="M817.33,36.35 h13.9 l-2.9,-2.9 h-8.1 z" fill="#5a5a5a"/>
<path d="M817.33,22.45 v13.9 l2.9,-2.9 v-8.1 z" fill="#474747"/>
<path d="M831.23,22.45 v13.9 l-2.9,-2.9 v-8.1 z" fill="#474747"/>
<rect x="820.23" y="25.35" width="8.1" height="8.1" fill="#000"/>
<path d="M841.24,18.5 h9 M841.24,40.3 h9" stroke="#5a5546" stroke-width="0.9"/>
<path d="M838.79,22.45 h13.9 l-2.9,2.9 h-8.1 z" fill="#2d2d2d"/>
<path d="M838.79,36.35 h13.9 l-2.9,-2.9 h-8.1 z" fill="#5a5a5a"/>
<path d="M838.79,22.45 v13.9 l2.9,-2.9 v-8.1 z" fill="#474747"/>
<path d="M852.69,22.45 v13.9 l-2.9,-2.9 v-8.1 z" fill="#474747"/>
<rect x="841.69" y="25.35" width="8.1" height="8.1" fill="#000"/>
<path d="M862.7,18.5 h9 M862.7,40.3 h9" stroke="#5a5546" stroke-width="0.9"/>
<path d="M860.25,22.45 h13.9 l-2.9,2.9 h-8.1 z" fill="#2d2d2d"/>
<path d="M860.25,36.35 h13.9 l-2.9,-2.9 h-8.1 z" fill="#5a5a5a"/>
<path d="M860.25,22.45 v13.9 l2.9,-2.9 v-8.1 z" fill="#474747"/>
<path d="M874.15,22.45 v13.9 l-2.9,-2.9 v-8.1 z" fill="#474747"/>
<rect x="863.15" y="25.35" width="8.1" height="8.1" fill="#000"/>
<path d="M884.16,18.5 h9 M884.16,40.3 h9" stroke="#5a5546" stroke-width="0.9"/>
<path d="M881.71,22.45 h13.9 l-2.9,2.9 h-8.1 z" fill="#2d2d2d"/>
<path d="M881.71,36.35 h13.9 l-2.9,-2.9 h-8.1 z" fill="#5a5a5a"/>
<path d="M881.71,22.45 v13.9 l2.9,-2.9 v-8.1 z" fill="#474747"/>
<path d="M895.61,22.45 v13.9 l-2.9,-2.9 v-8.1 z" fill="#474747"/>
<rect x="884.61" y="25.35" width="8.1" height="8.1" fill="#000"/>
<path d="M905.62,18.5 h9 M905.62,40.3 h9" stroke="#5a5546" stroke-width="0.9"/>
<path d="M903.17,22.45 h13.9 l-2.9,2.9 h-8.1 z" fill="#2d2d2d"/>
<path d="M903.17,36.35 h13.9 l-2.9,-2.9 h-8.1 z" fill="#5a5a5a"/>
<path d="M903.17,22.45 v13.9 l2.9,-2.9 v-8.1 z" fill="#474747"/>
<path d="M917.07,22.45 v13.9 l-2.9,-2.9 v-8.1 z" fill="#474747"/>
<rect x="906.07" y="25.35" width="8.1" height="8.1" fill="#000"/>
<rect x="405.37" y="426.35" width="171.68" height="21.5" fill="#404040"/>
<path d="M411.6,426.2 h9 M411.6,448 h9" stroke="#5a5546" stroke-width="0.9"/>
<path d="M409.15,430.15 h13.9 l-2.9,2.9 h-8.1 z" fill="#2d2d2d"/>
<path d="M409.15,444.05 h13.9 l-2.9,-2.9 h-8.1 z" fill="#5a5a5a"/>
<path d="M409.15,430.15 v13.9 l2.9,-2.9 v-8.1 z" fill="#474747"/>
<path d="M423.05,430.15 v13.9 l-2.9,-2.9 v-8.1 z" fill="#474747"/>
<rect x="412.05" y="433.05" width="8.1" height="8.1" fill="#000"/>
<path d="M433.06,426.2 h9 M433.06,448 h9" stroke="#5a5546" stroke-width="0.9"/>
<path d="M430.61,430.15 h13.9 l-2.9,2.9 h-8.1 z" fill="#2d2d2d"/>
<path d="M430.61,444.05 h13.9 l-2.9,-2.9 h-8.1 z" fill="#5a5a5a"/>
<path d="M430.61,430.15 v13.9 l2.9,-2.9 v-8.1 z" fill="#474747"/>
<path d="M444.51,430.15 v13.9 l-2.9,-2.9 v-8.1 z" fill="#474747"/>
<rect x="433.51" y="433.05" width="8.1" height="8.1" fill="#000"/>
<path d="M454.52,426.2 h9 M454.52,448 h9" stroke="#5a5546" stroke-width="0.9"/>
<path d="M452.07,430.15 h13.9 l-2.9,2.9 h-8.1 z" fill="#2d2d2d"/>
<path d="M452.07,444.05 h13.9 l-2.9,-2.9 h-8.1 z" fill="#5a5a5a"/>
<path d="M452.07,430.15 v13.9 l2.9,-2.9 v-8.1 z" fill="#474747"/>
<path d="M465.97,430.15 v13.9 l-2.9,-2.9 v-8.1 z" fill="#474747"/>
<rect x="454.97" y="433.05" width="8.1" height="8.1" fill="#000"/>
<path d="M475.98,426.2 h9 M475.98,448 h9" stroke="#5a5546" stroke-width="0.9"/>
<path d="M473.53,430.15 h13.9 l-2.9,2.9 h-8.1 z" fill="#2d2d2d"/>
<path d="M473.53,444.05 h13.9 l-2.9,-2.9 h-8.1 z" fill="#5a5a5a"/>
<path d="M473.53,430.15 v13.9 l2.9,-2.9 v-8.1 z" fill="#474747"/>
<path d="M487.43,430.15 v13.9 l-2.9,-2.9 v-8.1 z" fill="#474747"/>
<rect x="476.43" y="433.05" width="8.1" height="8.1" fill="#000"/>
<path d="M497.44,426.2 h9 M497.44,448 h9" stroke="#5a5546" stroke-width="0.9"/>
<path d="M494.99,430.15 h13.9 l-2.9,2.9 h-8.1 z" fill="#2d2d2d"/>
<path d="M494.99,444.05 h13.9 l-2.9,-2.9 h-8.1 z" fill="#5a5a5a"/>
<path d="M494.99,430.15 v13.9 l2.9,-2.9 v-8.1 z" fill="#474747"/>
<path d="M508.89,430.15 v13.9 l-2.9,-2.9 v-8.1 z" fill="#474747"/>
<rect x="497.89" y="433.05" width="8.1" height="8.1" fill="#000"/>
<path d="M518.9,426.2 h9 M518.9,448 h9" stroke="#5a5546" stroke-width="0.9"/>
<path d="M516.45,430.15 h13.9 l-2.9,2.9 h-8.1 z" fill="#2d2d2d"/>
<path d="M516.45,444.05 h13.9 l-2.9,-2.9 h-8.1 z" fill="#5a5a5a"/>
<path d="M516.45,430.15 v13.9 l2.9,-2.9 v-8.1 z" fill="#474747"/>
<path d="M530.35,430.15 v13.9 l-2.9,-2.9 v-8.1 z" fill="#474747"/>
<rect x="519.35" y="433.05" width="8.1" height="8.1" fill="#000"/>
<path d="M540.36,426.2 h9 M540.36,448 h9" stroke="#5a5546" stroke-width="0.9"/>
<path d="M537.91,430.15 h13.9 l-2.9,2.9 h-8.1 z" fill="#2d2d2d"/>
<path d="M537.91,444.05 h13.9 l-2.9,-2.9 h-8.1 z" fill="#5a5a5a"/>
<path d="M537.91,430.15 v13.9 l2.9,-2.9 v-8.1 z" fill="#474747"/>
<path d="M551.81,430.15 v13.9 l-2.9,-2.9 v-8.1 z" fill="#474747"/>
<rect x="540.81" y="433.05" width="8.1" height="8.1" fill="#000"/>
<path d="M561.82,426.2 h9 M561.82,448 h9" stroke="#5a5546" stroke-width="0.9"/>
<path d="M559.37,430.15 h13.9 l-2.9,2.9 h-8.1 z" fill="#2d2d2d"/>
<path d="M559.37,444.05 h13.9 l-2.9,-2.9 h-8.1 z" fill="#5a5a5a"/>
<path d="M559.37,430.15 v13.9 l2.9,-2.9 v-8.1 z" fill="#474747"/>
<path d="M573.27,430.15 v13.9 l-2.9,-2.9 v-8.1 z" fill="#474747"/>
<rect x="562.27" y="433.05" width="8.1" height="8.1" fill="#000"/>
<rect x="598.67" y="426.35" width="171.68" height="21.5" fill="#404040"/>
<path d="M604.9,426.2 h9 M604.9,448 h9" stroke="#5a5546" stroke-width="0.9"/>
<path d="M602.45,430.15 h13.9 l-2.9,2.9 h-8.1 z" fill="#2d2d2d"/>
<path d="M602.45,444.05 h13.9 l-2.9,-2.9 h-8.1 z" fill="#5a5a5a"/>
<path d="M602.45,430.15 v13.9 l2.9,-2.9 v-8.1 z" fill="#474747"/>
<path d="M616.35,430.15 v13.9 l-2.9,-2.9 v-8.1 z" fill="#474747"/>
<rect x="605.35" y="433.05" width="8.1" height="8.1" fill="#000"/>
<path d="M626.36,426.2 h9 M626.36,448 h9" stroke="#5a5546" stroke-width="0.9"/>
<path d="M623.91,430.15 h13.9 l-2.9,2.9 h-8.1 z" fill="#2d2d2d"/>
<path d="M623.91,444.05 h13.9 l-2.9,-2.9 h-8.1 z" fill="#5a5a5a"/>
<path d="M623.91,430.15 v13.9 l2.9,-2.9 v-8.1 z" fill="#474747"/>
<path d="M637.81,430.15 v13.9 l-2.9,-2.9 v-8.1 z" fill="#474747"/>
<rect x="626.81" y="433.05" width="8.1" height="8.1" fill="#000"/>
<path d="M647.82,426.2 h9 M647.82,448 h9" stroke="#5a5546" stroke-width="0.9"/>
<path d="M645.37,430.15 h13.9 l-2.9,2.9 h-8.1 z" fill="#2d2d2d"/>
<path d="M645.37,444.05 h13.9 l-2.9,-2.9 h-8.1 z" fill="#5a5a5a"/>
<path d="M645.37,430.15 v13.9 l2.9,-2.9 v-8.1 z" fill="#474747"/>
<path d="M659.27,430.15 v13.9 l-2.9,-2.9 v-8.1 z" fill="#474747"/>
<rect x="648.27" y="433.05" width="8.1" height="8.1" fill="#000"/>
<path d="M669.28,426.2 h9 M669.28,448 h9" stroke="#5a5546" stroke-width="0.9"/>
<path d="M666.83,430.15 h13.9 l-2.9,2.9 h-8.1 z" fill="#2d2d2d"/>
<path d="M666.83,444.05 h13.9 l-2.9,-2.9 h-8.1 z" fill="#5a5a5a"/>
<path d="M666.83,430.15 v13.9 l2.9,-2.9 v-8.1 z" fill="#474747"/>
<path d="M680.73,430.15 v13.9 l-2.9,-2.9 v-8.1 z" fill="#474747"/>
<rect x="669.73" y="433.05" width="8.1" height="8.1" fill="#000"/>
<path d="M690.74,426.2 h9 M690.74,448 h9" stroke="#5a5546" stroke-width="0.9"/>
<path d="M688.29,430.15 h13.9 l-2.9,2.9 h-8.1 z" fill="#2d2d2d"/>
<path d="M688.29,444.05 h13.9 l-2.9,-2.9 h-8.1 z" fill="#5a5a5a"/>
<path d="M688.29,430.15 v13.9 l2.9,-2.9 v-8.1 z" fill="#474747"/>
<path d="M702.19,430.15 v13.9 l-2.9,-2.9 v-8.1 z" fill="#474747"/>
<rect x="691.19" y="433.05" width="8.1" height="8.1" fill="#000"/>
<path d="M712.2,426.2 h9 M712.2,448 h9" stroke="#5a5546" stroke-width="0.9"/>
<path d="M709.75,430.15 h13.9 l-2.9,2.9 h-8.1 z" fill="#2d2d2d"/>
<path d="M709.75,444.05 h13.9 l-2.9,-2.9 h-8.1 z" fill="#5a5a5a"/>
<path d="M709.75,430.15 v13.9 l2.9,-2.9 v-8.1 z" fill="#474747"/>
<path d="M723.65,430.15 v13.9 l-2.9,-2.9 v-8.1 z" fill="#474747"/>
<rect x="712.65" y="433.05" width="8.1" height="8.1" fill="#000"/>
<path d="M733.66,426.2 h9 M733.66,448 h9" stroke="#5a5546" stroke-width="0.9"/>
<path d="M731.21,430.15 h13.9 l-2.9,2.9 h-8.1 z" fill="#2d2d2d"/>
<path d="M731.21,444.05 h13.9 l-2.9,-2.9 h-8.1 z" fill="#5a5a5a"/>
<path d="M731.21,430.15 v13.9 l2.9,-2.9 v-8.1 z" fill="#474747"/>
<path d="M745.11,430.15 v13.9 l-2.9,-2.9 v-8.1 z" fill="#474747"/>
<rect x="734.11" y="433.05" width="8.1" height="8.1" fill="#000"/>
<path d="M755.12,426.2 h9 M755.12,448 h9" stroke="#5a5546" stroke-width="0.9"/>
<path d="M752.67,430.15 h13.9 l-2.9,2.9 h-8.1 z" fill="#2d2d2d"/>
<path d="M752.67,444.05 h13.9 l-2.9,-2.9 h-8.1 z" fill="#5a5a5a"/>
<path d="M752.67,430.15 v13.9 l2.9,-2.9 v-8.1 z" fill="#474747"/>
<path d="M766.57,430.15 v13.9 l-2.9,-2.9 v-8.1 z" fill="#474747"/>
<rect x="755.57" y="433.05" width="8.1" height="8.1" fill="#000"/>
<rect x="783.27" y="426.35" width="214.6" height="21.5" fill="#404040"/>
<path d="M789.5,426.2 h9 M789.5,448 h9" stroke="#5a5546" stroke-width="0.9"/>
<path d="M787.05,430.15 h13.9 l-2.9,2.9 h-8.1 z" fill="#2d2d2d"/>
<path d="M787.05,444.05 h13.9 l-2.9,-2.9 h-8.1 z" fill="#5a5a5a"/>
<path d="M787.05,430.15 v13.9 l2.9,-2.9 v-8.1 z" fill="#474747"/>
<path d="M800.95,430.15 v13.9 l-2.9,-2.9 v-8.1 z" fill="#474747"/>
<rect x="789.95" y="433.05" width="8.1" height="8.1" fill="#000"/>
<path d="M810.96,426.2 h9 M810.96,448 h9" stroke="#5a5546" stroke-width="0.9"/>
<path d="M808.51,430.15 h13.9 l-2.9,2.9 h-8.1 z" fill="#2d2d2d"/>
<path d="M808.51,444.05 h13.9 l-2.9,-2.9 h-8.1 z" fill="#5a5a5a"/>
<path d="M808.51,430.15 v13.9 l2.9,-2.9 v-8.1 z" fill="#474747"/>
<path d="M822.41,430.15 v13.9 l-2.9,-2.9 v-8.1 z" fill="#474747"/>
<rect x="811.41" y="433.05" width="8.1" height="8.1" fill="#000"/>
<path d="M832.42,426.2 h9 M832.42,448 h9" stroke="#5a5546" stroke-width="0.9"/>
<path d="M829.97,430.15 h13.9 l-2.9,2.9 h-8.1 z" fill="#2d2d2d"/>
<path d="M829.97,444.05 h13.9 l-2.9,-2.9 h-8.1 z" fill="#5a5a5a"/>
<path d="M829.97,430.15 v13.9 l2.9,-2.9 v-8.1 z" fill="#474747"/>
<path d="M843.87,430.15 v13.9 l-2.9,-2.9 v-8.1 z" fill="#474747"/>
<rect x="832.87" y="433.05" width="8.1" height="8.1" fill="#000"/>
<path d="M853.88,426.2 h9 M853.88,448 h9" stroke="#5a5546" stroke-width="0.9"/>
<path d="M851.43,430.15 h13.9 l-2.9,2.9 h-8.1 z" fill="#2d2d2d"/>
<path d="M851.43,444.05 h13.9 l-2.9,-2.9 h-8.1 z" fill="#5a5a5a"/>
<path d="M851.43,430.15 v13.9 l2.9,-2.9 v-8.1 z" fill="#474747"/>
<path d="M865.33,430.15 v13.9 l-2.9,-2.9 v-8.1 z" fill="#474747"/>
<rect x="854.33" y="433.05" width="8.1" height="8.1" fill="#000"/>
<path d="M875.34,426.2 h9 M875.34,448 h9" stroke="#5a5546" stroke-width="0.9"/>
<path d="M872.89,430.15 h13.9 l-2.9,2.9 h-8.1 z" fill="#2d2d2d"/>
<path d="M872.89,444.05 h13.9 l-2.9,-2.9 h-8.1 z" fill="#5a5a5a"/>
<path d="M872.89,430.15 v13.9 l2.9,-2.9 v-8.1 z" fill="#474747"/>
<path d="M886.79,430.15 v13.9 l-2.9,-2.9 v-8.1 z" fill="#474747"/>
<rect x="875.79" y="433.05" width="8.1" height="8.1" fill="#000"/>
<path d="M896.8,426.2 h9 M896.8,448 h9" stroke="#5a5546" stroke-width="0.9"/>
<path d="M894.35,430.15 h13.9 l-2.9,2.9 h-8.1 z" fill="#2d2d2d"/>
<path d="M894.35,444.05 h13.9 l-2.9,-2.9 h-8.1 z" fill="#5a5a5a"/>
<path d="M894.35,430.15 v13.9 l2.9,-2.9 v-8.1 z" fill="#474747"/>
<path d="M908.25,430.15 v13.9 l-2.9,-2.9 v-8.1 z" fill="#474747"/>
<rect x="897.25" y="433.05" width="8.1" height="8.1" fill="#000"/>
<path d="M918.26,426.2 h9 M918.26,448 h9" stroke="#5a5546" stroke-width="0.9"/>
<path d="M915.81,430.15 h13.9 l-2.9,2.9 h-8.1 z" fill="#2d2d2d"/>
<path d="M915.81,444.05 h13.9 l-2.9,-2.9 h-8.1 z" fill="#5a5a5a"/>
<path d="M915.81,430.15 v13.9 l2.9,-2.9 v-8.1 z" fill="#474747"/>
<path d="M929.71,430.15 v13.9 l-2.9,-2.9 v-8.1 z" fill="#474747"/>
<rect x="918.71" y="433.05" width="8.1" height="8.1" fill="#000"/>
<path d="M939.72,426.2 h9 M939.72,448 h9" stroke="#5a5546" stroke-width="0.9"/>
<path d="M937.27,430.15 h13.9 l-2.9,2.9 h-8.1 z" fill="#2d2d2d"/>
<path d="M937.27,444.05 h13.9 l-2.9,-2.9 h-8.1 z" fill="#5a5a5a"/>
<path d="M937.27,430.15 v13.9 l2.9,-2.9 v-8.1 z" fill="#474747"/>
<path d="M951.17,430.15 v13.9 l-2.9,-2.9 v-8.1 z" fill="#474747"/>
<rect x="940.17" y="433.05" width="8.1" height="8.1" fill="#000"/>
<path d="M961.18,426.2 h9 M961.18,448 h9" stroke="#5a5546" stroke-width="0.9"/>
<path d="M958.73,430.15 h13.9 l-2.9,2.9 h-8.1 z" fill="#2d2d2d"/>
<path d="M958.73,444.05 h13.9 l-2.9,-2.9 h-8.1 z" fill="#5a5a5a"/>
<path d="M958.73,430.15 v13.9 l2.9,-2.9 v-8.1 z" fill="#474747"/>
<path d="M972.63,430.15 v13.9 l-2.9,-2.9 v-8.1 z" fill="#474747"/>
<rect x="961.63" y="433.05" width="8.1" height="8.1" fill="#000"/>
<path d="M982.64,426.2 h9 M982.64,448 h9" stroke="#5a5546" stroke-width="0.9"/>
<path d="M980.19,430.15 h13.9 l-2.9,2.9 h-8.1 z" fill="#2d2d2d"/>
<path d="M980.19,444.05 h13.9 l-2.9,-2.9 h-8.1 z" fill="#5a5a5a"/>
<path d="M980.19,430.15 v13.9 l2.9,-2.9 v-8.1 z" fill="#474747"/>
<path d="M994.09,430.15 v13.9 l-2.9,-2.9 v-8.1 z" fill="#474747"/>
<rect x="983.09" y="433.05" width="8.1" height="8.1" fill="#000"/>
<rect x="319.8" y="61.6" width="42.9" height="386.2" fill="#404040"/>
<line x1="341.2" x2="341.2" y1="61.6" y2="447.8" stroke="#2e2e2e" stroke-width="1"/>
<line x1="319.8" x2="362.7" y1="276" y2="276" stroke="#353535" stroke-width="1"/>
<path d="M323.45,65.35 h13.9 l-2.9,2.9 h-8.1 z" fill="#474747"/>
<path d="M323.45,79.25 h13.9 l-2.9,-2.9 h-8.1 z" fill="#474747"/>
<path d="M323.45,65.35 v13.9 l2.9,-2.9 v-8.1 z" fill="#2d2d2d"/>
<path d="M337.35,65.35 v13.9 l-2.9,-2.9 v-8.1 z" fill="#5a5a5a"/>
<rect x="326.35" y="68.25" width="8.1" height="8.1" fill="#000"/>
<path d="M344.95,65.35 h13.9 l-2.9,2.9 h-8.1 z" fill="#474747"/>
<path d="M344.95,79.25 h13.9 l-2.9,-2.9 h-8.1 z" fill="#474747"/>
<path d="M344.95,65.35 v13.9 l2.9,-2.9 v-8.1 z" fill="#2d2d2d"/>
<path d="M358.85,65.35 v13.9 l-2.9,-2.9 v-8.1 z" fill="#5a5a5a"/>
<rect x="347.85" y="68.25" width="8.1" height="8.1" fill="#000"/>
<path d="M323.45,86.81 h13.9 l-2.9,2.9 h-8.1 z" fill="#474747"/>
<path d="M323.45,100.71 h13.9 l-2.9,-2.9 h-8.1 z" fill="#474747"/>
<path d="M323.45,86.81 v13.9 l2.9,-2.9 v-8.1 z" fill="#2d2d2d"/>
<path d="M337.35,86.81 v13.9 l-2.9,-2.9 v-8.1 z" fill="#5a5a5a"/>
<rect x="326.35" y="89.71" width="8.1" height="8.1" fill="#000"/>
<path d="M344.95,86.81 h13.9 l-2.9,2.9 h-8.1 z" fill="#474747"/>
<path d="M344.95,100.71 h13.9 l-2.9,-2.9 h-8.1 z" fill="#474747"/>
<path d="M344.95,86.81 v13.9 l2.9,-2.9 v-8.1 z" fill="#2d2d2d"/>
<path d="M358.85,86.81 v13.9 l-2.9,-2.9 v-8.1 z" fill="#5a5a5a"/>
<rect x="347.85" y="89.71" width="8.1" height="8.1" fill="#000"/>
<path d="M323.45,108.27 h13.9 l-2.9,2.9 h-8.1 z" fill="#474747"/>
<path d="M323.45,122.17 h13.9 l-2.9,-2.9 h-8.1 z" fill="#474747"/>
<path d="M323.45,108.27 v13.9 l2.9,-2.9 v-8.1 z" fill="#2d2d2d"/>
<path d="M337.35,108.27 v13.9 l-2.9,-2.9 v-8.1 z" fill="#5a5a5a"/>
<rect x="326.35" y="111.17" width="8.1" height="8.1" fill="#000"/>
<path d="M344.95,108.27 h13.9 l-2.9,2.9 h-8.1 z" fill="#474747"/>
<path d="M344.95,122.17 h13.9 l-2.9,-2.9 h-8.1 z" fill="#474747"/>
<path d="M344.95,108.27 v13.9 l2.9,-2.9 v-8.1 z" fill="#2d2d2d"/>
<path d="M358.85,108.27 v13.9 l-2.9,-2.9 v-8.1 z" fill="#5a5a5a"/>
<rect x="347.85" y="111.17" width="8.1" height="8.1" fill="#000"/>
<path d="M323.45,129.73 h13.9 l-2.9,2.9 h-8.1 z" fill="#474747"/>
<path d="M323.45,143.63 h13.9 l-2.9,-2.9 h-8.1 z" fill="#474747"/>
<path d="M323.45,129.73 v13.9 l2.9,-2.9 v-8.1 z" fill="#2d2d2d"/>
<path d="M337.35,129.73 v13.9 l-2.9,-2.9 v-8.1 z" fill="#5a5a5a"/>
<rect x="326.35" y="132.63" width="8.1" height="8.1" fill="#000"/>
<path d="M344.95,129.73 h13.9 l-2.9,2.9 h-8.1 z" fill="#474747"/>
<path d="M344.95,143.63 h13.9 l-2.9,-2.9 h-8.1 z" fill="#474747"/>
<path d="M344.95,129.73 v13.9 l2.9,-2.9 v-8.1 z" fill="#2d2d2d"/>
<path d="M358.85,129.73 v13.9 l-2.9,-2.9 v-8.1 z" fill="#5a5a5a"/>
<rect x="347.85" y="132.63" width="8.1" height="8.1" fill="#000"/>
<path d="M323.45,151.19 h13.9 l-2.9,2.9 h-8.1 z" fill="#474747"/>
<path d="M323.45,165.09 h13.9 l-2.9,-2.9 h-8.1 z" fill="#474747"/>
<path d="M323.45,151.19 v13.9 l2.9,-2.9 v-8.1 z" fill="#2d2d2d"/>
<path d="M337.35,151.19 v13.9 l-2.9,-2.9 v-8.1 z" fill="#5a5a5a"/>
<rect x="326.35" y="154.09" width="8.1" height="8.1" fill="#000"/>
<path d="M344.95,151.19 h13.9 l-2.9,2.9 h-8.1 z" fill="#474747"/>
<path d="M344.95,165.09 h13.9 l-2.9,-2.9 h-8.1 z" fill="#474747"/>
<path d="M344.95,151.19 v13.9 l2.9,-2.9 v-8.1 z" fill="#2d2d2d"/>
<path d="M358.85,151.19 v13.9 l-2.9,-2.9 v-8.1 z" fill="#5a5a5a"/>
<rect x="347.85" y="154.09" width="8.1" height="8.1" fill="#000"/>
<path d="M323.45,172.65 h13.9 l-2.9,2.9 h-8.1 z" fill="#474747"/>
<path d="M323.45,186.55 h13.9 l-2.9,-2.9 h-8.1 z" fill="#474747"/>
<path d="M323.45,172.65 v13.9 l2.9,-2.9 v-8.1 z" fill="#2d2d2d"/>
<path d="M337.35,172.65 v13.9 l-2.9,-2.9 v-8.1 z" fill="#5a5a5a"/>
<rect x="326.35" y="175.55" width="8.1" height="8.1" fill="#000"/>
<path d="M344.95,172.65 h13.9 l-2.9,2.9 h-8.1 z" fill="#474747"/>
<path d="M344.95,186.55 h13.9 l-2.9,-2.9 h-8.1 z" fill="#474747"/>
<path d="M344.95,172.65 v13.9 l2.9,-2.9 v-8.1 z" fill="#2d2d2d"/>
<path d="M358.85,172.65 v13.9 l-2.9,-2.9 v-8.1 z" fill="#5a5a5a"/>
<rect x="347.85" y="175.55" width="8.1" height="8.1" fill="#000"/>
<path d="M323.45,194.11 h13.9 l-2.9,2.9 h-8.1 z" fill="#474747"/>
<path d="M323.45,208.01 h13.9 l-2.9,-2.9 h-8.1 z" fill="#474747"/>
<path d="M323.45,194.11 v13.9 l2.9,-2.9 v-8.1 z" fill="#2d2d2d"/>
<path d="M337.35,194.11 v13.9 l-2.9,-2.9 v-8.1 z" fill="#5a5a5a"/>
<rect x="326.35" y="197.01" width="8.1" height="8.1" fill="#000"/>
<path d="M344.95,194.11 h13.9 l-2.9,2.9 h-8.1 z" fill="#474747"/>
<path d="M344.95,208.01 h13.9 l-2.9,-2.9 h-8.1 z" fill="#474747"/>
<path d="M344.95,194.11 v13.9 l2.9,-2.9 v-8.1 z" fill="#2d2d2d"/>
<path d="M358.85,194.11 v13.9 l-2.9,-2.9 v-8.1 z" fill="#5a5a5a"/>
<rect x="347.85" y="197.01" width="8.1" height="8.1" fill="#000"/>
<path d="M323.45,215.57 h13.9 l-2.9,2.9 h-8.1 z" fill="#474747"/>
<path d="M323.45,229.47 h13.9 l-2.9,-2.9 h-8.1 z" fill="#474747"/>
<path d="M323.45,215.57 v13.9 l2.9,-2.9 v-8.1 z" fill="#2d2d2d"/>
<path d="M337.35,215.57 v13.9 l-2.9,-2.9 v-8.1 z" fill="#5a5a5a"/>
<rect x="326.35" y="218.47" width="8.1" height="8.1" fill="#000"/>
<path d="M344.95,215.57 h13.9 l-2.9,2.9 h-8.1 z" fill="#474747"/>
<path d="M344.95,229.47 h13.9 l-2.9,-2.9 h-8.1 z" fill="#474747"/>
<path d="M344.95,215.57 v13.9 l2.9,-2.9 v-8.1 z" fill="#2d2d2d"/>
<path d="M358.85,215.57 v13.9 l-2.9,-2.9 v-8.1 z" fill="#5a5a5a"/>
<rect x="347.85" y="218.47" width="8.1" height="8.1" fill="#000"/>
<path d="M323.45,237.03 h13.9 l-2.9,2.9 h-8.1 z" fill="#474747"/>
<path d="M323.45,250.93 h13.9 l-2.9,-2.9 h-8.1 z" fill="#474747"/>
<path d="M323.45,237.03 v13.9 l2.9,-2.9 v-8.1 z" fill="#2d2d2d"/>
<path d="M337.35,237.03 v13.9 l-2.9,-2.9 v-8.1 z" fill="#5a5a5a"/>
<rect x="326.35" y="239.93" width="8.1" height="8.1" fill="#000"/>
<path d="M344.95,237.03 h13.9 l-2.9,2.9 h-8.1 z" fill="#474747"/>
<path d="M344.95,250.93 h13.9 l-2.9,-2.9 h-8.1 z" fill="#474747"/>
<path d="M344.95,237.03 v13.9 l2.9,-2.9 v-8.1 z" fill="#2d2d2d"/>
<path d="M358.85,237.03 v13.9 l-2.9,-2.9 v-8.1 z" fill="#5a5a5a"/>
<rect x="347.85" y="239.93" width="8.1" height="8.1" fill="#000"/>
<path d="M323.45,258.49 h13.9 l-2.9,2.9 h-8.1 z" fill="#474747"/>
<path d="M323.45,272.39 h13.9 l-2.9,-2.9 h-8.1 z" fill="#474747"/>
<path d="M323.45,258.49 v13.9 l2.9,-2.9 v-8.1 z" fill="#2d2d2d"/>
<path d="M337.35,258.49 v13.9 l-2.9,-2.9 v-8.1 z" fill="#5a5a5a"/>
<rect x="326.35" y="261.39" width="8.1" height="8.1" fill="#000"/>
<path d="M344.95,258.49 h13.9 l-2.9,2.9 h-8.1 z" fill="#474747"/>
<path d="M344.95,272.39 h13.9 l-2.9,-2.9 h-8.1 z" fill="#474747"/>
<path d="M344.95,258.49 v13.9 l2.9,-2.9 v-8.1 z" fill="#2d2d2d"/>
<path d="M358.85,258.49 v13.9 l-2.9,-2.9 v-8.1 z" fill="#5a5a5a"/>
<rect x="347.85" y="261.39" width="8.1" height="8.1" fill="#000"/>
<path d="M323.45,279.95 h13.9 l-2.9,2.9 h-8.1 z" fill="#474747"/>
<path d="M323.45,293.85 h13.9 l-2.9,-2.9 h-8.1 z" fill="#474747"/>
<path d="M323.45,279.95 v13.9 l2.9,-2.9 v-8.1 z" fill="#2d2d2d"/>
<path d="M337.35,279.95 v13.9 l-2.9,-2.9 v-8.1 z" fill="#5a5a5a"/>
<rect x="326.35" y="282.85" width="8.1" height="8.1" fill="#000"/>
<path d="M344.95,279.95 h13.9 l-2.9,2.9 h-8.1 z" fill="#474747"/>
<path d="M344.95,293.85 h13.9 l-2.9,-2.9 h-8.1 z" fill="#474747"/>
<path d="M344.95,279.95 v13.9 l2.9,-2.9 v-8.1 z" fill="#2d2d2d"/>
<path d="M358.85,279.95 v13.9 l-2.9,-2.9 v-8.1 z" fill="#5a5a5a"/>
<rect x="347.85" y="282.85" width="8.1" height="8.1" fill="#000"/>
<path d="M323.45,301.41 h13.9 l-2.9,2.9 h-8.1 z" fill="#474747"/>
<path d="M323.45,315.31 h13.9 l-2.9,-2.9 h-8.1 z" fill="#474747"/>
<path d="M323.45,301.41 v13.9 l2.9,-2.9 v-8.1 z" fill="#2d2d2d"/>
<path d="M337.35,301.41 v13.9 l-2.9,-2.9 v-8.1 z" fill="#5a5a5a"/>
<rect x="326.35" y="304.31" width="8.1" height="8.1" fill="#000"/>
<path d="M344.95,301.41 h13.9 l-2.9,2.9 h-8.1 z" fill="#474747"/>
<path d="M344.95,315.31 h13.9 l-2.9,-2.9 h-8.1 z" fill="#474747"/>
<path d="M344.95,301.41 v13.9 l2.9,-2.9 v-8.1 z" fill="#2d2d2d"/>
<path d="M358.85,301.41 v13.9 l-2.9,-2.9 v-8.1 z" fill="#5a5a5a"/>
<rect x="347.85" y="304.31" width="8.1" height="8.1" fill="#000"/>
<path d="M323.45,322.87 h13.9 l-2.9,2.9 h-8.1 z" fill="#474747"/>
<path d="M323.45,336.77 h13.9 l-2.9,-2.9 h-8.1 z" fill="#474747"/>
<path d="M323.45,322.87 v13.9 l2.9,-2.9 v-8.1 z" fill="#2d2d2d"/>
<path d="M337.35,322.87 v13.9 l-2.9,-2.9 v-8.1 z" fill="#5a5a5a"/>
<rect x="326.35" y="325.77" width="8.1" height="8.1" fill="#000"/>
<path d="M344.95,322.87 h13.9 l-2.9,2.9 h-8.1 z" fill="#474747"/>
<path d="M344.95,336.77 h13.9 l-2.9,-2.9 h-8.1 z" fill="#474747"/>
<path d="M344.95,322.87 v13.9 l2.9,-2.9 v-8.1 z" fill="#2d2d2d"/>
<path d="M358.85,322.87 v13.9 l-2.9,-2.9 v-8.1 z" fill="#5a5a5a"/>
<rect x="347.85" y="325.77" width="8.1" height="8.1" fill="#000"/>
<path d="M323.45,344.33 h13.9 l-2.9,2.9 h-8.1 z" fill="#474747"/>
<path d="M323.45,358.23 h13.9 l-2.9,-2.9 h-8.1 z" fill="#474747"/>
<path d="M323.45,344.33 v13.9 l2.9,-2.9 v-8.1 z" fill="#2d2d2d"/>
<path d="M337.35,344.33 v13.9 l-2.9,-2.9 v-8.1 z" fill="#5a5a5a"/>
<rect x="326.35" y="347.23" width="8.1" height="8.1" fill="#000"/>
<path d="M344.95,344.33 h13.9 l-2.9,2.9 h-8.1 z" fill="#474747"/>
<path d="M344.95,358.23 h13.9 l-2.9,-2.9 h-8.1 z" fill="#474747"/>
<path d="M344.95,344.33 v13.9 l2.9,-2.9 v-8.1 z" fill="#2d2d2d"/>
<path d="M358.85,344.33 v13.9 l-2.9,-2.9 v-8.1 z" fill="#5a5a5a"/>
<rect x="347.85" y="347.23" width="8.1" height="8.1" fill="#000"/>
<path d="M323.45,365.79 h13.9 l-2.9,2.9 h-8.1 z" fill="#474747"/>
<path d="M323.45,379.69 h13.9 l-2.9,-2.9 h-8.1 z" fill="#474747"/>
<path d="M323.45,365.79 v13.9 l2.9,-2.9 v-8.1 z" fill="#2d2d2d"/>
<path d="M337.35,365.79 v13.9 l-2.9,-2.9 v-8.1 z" fill="#5a5a5a"/>
<rect x="326.35" y="368.69" width="8.1" height="8.1" fill="#000"/>
<path d="M344.95,365.79 h13.9 l-2.9,2.9 h-8.1 z" fill="#474747"/>
<path d="M344.95,379.69 h13.9 l-2.9,-2.9 h-8.1 z" fill="#474747"/>
<path d="M344.95,365.79 v13.9 l2.9,-2.9 v-8.1 z" fill="#2d2d2d"/>
<path d="M358.85,365.79 v13.9 l-2.9,-2.9 v-8.1 z" fill="#5a5a5a"/>
<rect x="347.85" y="368.69" width="8.1" height="8.1" fill="#000"/>
<path d="M323.45,387.25 h13.9 l-2.9,2.9 h-8.1 z" fill="#474747"/>
<path d="M323.45,401.15 h13.9 l-2.9,-2.9 h-8.1 z" fill="#474747"/>
<path d="M323.45,387.25 v13.9 l2.9,-2.9 v-8.1 z" fill="#2d2d2d"/>
<path d="M337.35,387.25 v13.9 l-2.9,-2.9 v-8.1 z" fill="#5a5a5a"/>
<rect x="326.35" y="390.15" width="8.1" height="8.1" fill="#000"/>
<path d="M344.95,387.25 h13.9 l-2.9,2.9 h-8.1 z" fill="#474747"/>
<path d="M344.95,401.15 h13.9 l-2.9,-2.9 h-8.1 z" fill="#474747"/>
<path d="M344.95,387.25 v13.9 l2.9,-2.9 v-8.1 z" fill="#2d2d2d"/>
<path d="M358.85,387.25 v13.9 l-2.9,-2.9 v-8.1 z" fill="#5a5a5a"/>
<rect x="347.85" y="390.15" width="8.1" height="8.1" fill="#000"/>
<path d="M323.45,408.71 h13.9 l-2.9,2.9 h-8.1 z" fill="#474747"/>
<path d="M323.45,422.61 h13.9 l-2.9,-2.9 h-8.1 z" fill="#474747"/>
<path d="M323.45,408.71 v13.9 l2.9,-2.9 v-8.1 z" fill="#2d2d2d"/>
<path d="M337.35,408.71 v13.9 l-2.9,-2.9 v-8.1 z" fill="#5a5a5a"/>
<rect x="326.35" y="411.61" width="8.1" height="8.1" fill="#000"/>
<path d="M344.95,408.71 h13.9 l-2.9,2.9 h-8.1 z" fill="#474747"/>
<path d="M344.95,422.61 h13.9 l-2.9,-2.9 h-8.1 z" fill="#474747"/>
<path d="M344.95,408.71 v13.9 l2.9,-2.9 v-8.1 z" fill="#2d2d2d"/>
<path d="M358.85,408.71 v13.9 l-2.9,-2.9 v-8.1 z" fill="#5a5a5a"/>
<rect x="347.85" y="411.61" width="8.1" height="8.1" fill="#000"/>
<path d="M323.45,430.17 h13.9 l-2.9,2.9 h-8.1 z" fill="#474747"/>
<path d="M323.45,444.07 h13.9 l-2.9,-2.9 h-8.1 z" fill="#474747"/>
<path d="M323.45,430.17 v13.9 l2.9,-2.9 v-8.1 z" fill="#2d2d2d"/>
<path d="M337.35,430.17 v13.9 l-2.9,-2.9 v-8.1 z" fill="#5a5a5a"/>
<rect x="326.35" y="433.07" width="8.1" height="8.1" fill="#000"/>
<path d="M344.95,430.17 h13.9 l-2.9,2.9 h-8.1 z" fill="#474747"/>
<path d="M344.95,444.07 h13.9 l-2.9,-2.9 h-8.1 z" fill="#474747"/>
<path d="M344.95,430.17 v13.9 l2.9,-2.9 v-8.1 z" fill="#2d2d2d"/>
<path d="M358.85,430.17 v13.9 l-2.9,-2.9 v-8.1 z" fill="#5a5a5a"/>
<rect x="347.85" y="433.07" width="8.1" height="8.1" fill="#000"/>
<path d="M366.2,82 H401.8 L409.4,89.55 H719.6" stroke="#fff" fill="none" stroke-width="2.5" stroke-linecap="round" stroke-linejoin="round"/>
<path d="M406.7,97.2 V344.6 L396.6,354.7 V420.2" stroke="#fff" fill="none" stroke-width="2.5" stroke-linecap="round" stroke-linejoin="round"/>
<path d="M412.4,344.9 H634.6" stroke="#fff" fill="none" stroke-width="2.5" stroke-linecap="round" stroke-linejoin="round"/>
<path d="M642.3,371.4 H908.2" stroke="#fff" fill="none" stroke-width="2.5" stroke-linecap="round" stroke-linejoin="round"/>
<path d="M749,89.55 H850.2" stroke="#fff" fill="none" stroke-width="2.5" stroke-linecap="round" stroke-linejoin="round"/>
<path d="M331.4,56.6 V52.3 H351.4 V56.6" stroke="#fff" fill="none" stroke-width="2.3" stroke-linecap="round" stroke-linejoin="round"/>
<path d="M330.4,448.6 V453.3 H352.1 V448.6" stroke="#fff" fill="none" stroke-width="2.5" stroke-linecap="round" stroke-linejoin="round"/>
<text transform="translate(368.2,47) rotate(90) scale(0.9323,1)" font-family='"Liberation Mono", monospace' font-size="13.64" fill="#fff" stroke="#000" stroke-width="0.27">A15</text>
<text transform="translate(389.66,47) rotate(90) scale(0.9269,1)" font-family='"Liberation Mono", monospace' font-size="13.64" fill="#fff" stroke="#000" stroke-width="0.27">A14</text>
<text transform="translate(411.12,47) rotate(90) scale(0.9464,1)" font-family='"Liberation Mono", monospace' font-size="13.43" fill="#fff" stroke="#000" stroke-width="0.27">A13</text>
<text transform="translate(432.58,47) rotate(90) scale(0.9519,1)" font-family='"Liberation Mono", monospace' font-size="13.43" fill="#fff" stroke="#000" stroke-width="0.27">A12</text>
<text transform="translate(454.04,47) rotate(90) scale(0.9243,1)" font-family='"Liberation Mono", monospace' font-size="13.64" fill="#fff" stroke="#000" stroke-width="0.27">A11</text>
<text transform="translate(475.5,47) rotate(90) scale(0.9464,1)" font-family='"Liberation Mono", monospace' font-size="13.43" fill="#fff" stroke="#000" stroke-width="0.27">A10</text>
<text transform="translate(496.96,47) rotate(90) scale(0.9327,1)" font-family='"Liberation Mono", monospace' font-size="13.43" fill="#fff" stroke="#000" stroke-width="0.27">A9</text>
<text transform="translate(518.42,47) rotate(90) scale(0.9327,1)" font-family='"Liberation Mono", monospace' font-size="13.43" fill="#fff" stroke="#000" stroke-width="0.27">A8</text>
<text transform="translate(560,47) rotate(90) scale(0.9269,1)" font-family='"Liberation Mono", monospace' font-size="13.64" fill="#fff" stroke="#000" stroke-width="0.27">A7</text>
<text transform="translate(581.46,46.06) rotate(90) scale(1.0010,1)" font-family='"Liberation Mono", monospace' font-size="13.43" fill="#fff" stroke="#000" stroke-width="0.27">6</text>
<text transform="translate(602.92,47) rotate(90) scale(0.9147,1)" font-family='"Liberation Mono", monospace' font-size="13.64" fill="#fff" stroke="#000" stroke-width="0.27">A5</text>
<text transform="translate(624.38,47) rotate(90) scale(0.9068,1)" font-family='"Liberation Mono", monospace' font-size="13.64" fill="#fff" stroke="#000" stroke-width="0.27">A4</text>
<text transform="translate(645.84,47) rotate(90) scale(0.9286,1)" font-family='"Liberation Mono", monospace' font-size="13.43" fill="#fff" stroke="#000" stroke-width="0.27">A3</text>
<text transform="translate(667.3,47) rotate(90) scale(0.9368,1)" font-family='"Liberation Mono", monospace' font-size="13.43" fill="#fff" stroke="#000" stroke-width="0.27">A2</text>
<text transform="translate(688.76,47) rotate(90) scale(0.9029,1)" font-family='"Liberation Mono", monospace' font-size="13.64" fill="#fff" stroke="#000" stroke-width="0.27">A1</text>
<text transform="translate(710.22,47) rotate(90) scale(0.9286,1)" font-family='"Liberation Mono", monospace' font-size="13.43" fill="#fff" stroke="#000" stroke-width="0.27">A0</text>
<text transform="translate(754.9,46.94) rotate(90) scale(0.9316,1)" font-family='"Liberation Mono", monospace' font-size="11.97" fill="#fff" stroke="#000" stroke-width="0.24">VIN</text>
<text transform="translate(776.36,46.38) rotate(90) scale(0.9597,1)" font-family='"Liberation Mono", monospace' font-size="11.79" fill="#fff" stroke="#000" stroke-width="0.24">GND</text>
<text transform="translate(797.82,46.38) rotate(90) scale(0.9597,1)" font-family='"Liberation Mono", monospace' font-size="11.79" fill="#fff" stroke="#000" stroke-width="0.24">GND</text>
<text transform="translate(819.28,46.35) rotate(90) scale(0.9076,1)" font-family='"Liberation Mono", monospace' font-size="11.97" fill="#fff" stroke="#000" stroke-width="0.24">5V</text>
<text transform="translate(840.74,46.31) rotate(90) scale(0.9682,1)" font-family='"Liberation Mono", monospace' font-size="11.79" fill="#fff" stroke="#000" stroke-width="0.24">3V3</text>
<text transform="translate(862.2,46.15) rotate(90) scale(0.9649,1)" font-family='"Liberation Mono", monospace' font-size="11.79" fill="#fff" stroke="#000" stroke-width="0.24">RESET</text>
<text transform="translate(883.66,45.9) rotate(90) scale(0.9836,1)" font-family='"Liberation Mono", monospace' font-size="11.79" fill="#fff" stroke="#000" stroke-width="0.24">IOREF</text>
<text transform="translate(411.1,370.74) rotate(90) scale(0.9600,1)" font-family='"Liberation Mono", monospace' font-size="13.73" fill="#fff" stroke="#000" stroke-width="0.27">SCL 21</text>
<text transform="translate(432.56,370.74) rotate(90) scale(0.9641,1)" font-family='"Liberation Mono", monospace' font-size="13.73" fill="#fff" stroke="#000" stroke-width="0.27">SDA 20</text>
<text transform="translate(454.02,370.19) rotate(90) scale(0.9766,1)" font-family='"Liberation Mono", monospace' font-size="13.73" fill="#fff" stroke="#000" stroke-width="0.27">RX1 19</text>
<text transform="translate(475.48,370.74) rotate(90) scale(0.9655,1)" font-family='"Liberation Mono", monospace' font-size="13.73" fill="#fff" stroke="#000" stroke-width="0.27">TX1 18</text>
<text transform="translate(496.94,370.19) rotate(90) scale(0.9795,1)" font-family='"Liberation Mono", monospace' font-size="13.73" fill="#fff" stroke="#000" stroke-width="0.27">RX2 17</text>
<text transform="translate(518.4,370.74) rotate(90) scale(0.9641,1)" font-family='"Liberation Mono", monospace' font-size="13.73" fill="#fff" stroke="#000" stroke-width="0.27">TX2 16</text>
<text transform="translate(539.86,370.2) rotate(90) scale(0.9752,1)" font-family='"Liberation Mono", monospace' font-size="13.73" fill="#fff" stroke="#000" stroke-width="0.27">RX3 15</text>
<text transform="translate(561.32,370.74) rotate(90) scale(0.9613,1)" font-family='"Liberation Mono", monospace' font-size="13.73" fill="#fff" stroke="#000" stroke-width="0.27">TX3 14</text>
<text transform="translate(604.1,366.6) rotate(90) scale(0.9675,1)" font-family='"Liberation Mono", monospace' font-size="13.73" fill="#fff" stroke="#000" stroke-width="0.27">RX0</text>
<text transform="translate(604.1,410.29) rotate(90) scale(0.9589,1)" font-family='"Liberation Mono", monospace' font-size="13.73" fill="#fff" stroke="#000" stroke-width="0.27">0</text>
<text transform="translate(625.6,367.15) rotate(90) scale(0.9448,1)" font-family='"Liberation Mono", monospace' font-size="13.73" fill="#fff" stroke="#000" stroke-width="0.27">TX0</text>
<text transform="translate(625.6,410.17) rotate(90) scale(0.9348,1)" font-family='"Liberation Mono", monospace' font-size="13.94" fill="#fff" stroke="#000" stroke-width="0.28">1</text>
<path d="M604.3,398.6 h8.6 l-4.3,6.6z" fill="#fff"/>
<path d="M625.8,405.2 h8.6 l-4.3,-6.6z" fill="#fff"/>
<text transform="translate(647.02,410.02) rotate(90) scale(1.0006,1)" font-family='"Liberation Mono", monospace' font-size="13.73" fill="#fff" stroke="#000" stroke-width="0.27">2</text>
<text transform="translate(668.48,410.19) rotate(90) scale(0.9589,1)" font-family='"Liberation Mono", monospace' font-size="13.73" fill="#fff" stroke="#000" stroke-width="0.27">3</text>
<text transform="translate(689.94,410.35) rotate(90) scale(0.9068,1)" font-family='"Liberation Mono", monospace' font-size="13.94" fill="#fff" stroke="#000" stroke-width="0.28">4</text>
<text transform="translate(711.4,410.19) rotate(90) scale(0.9446,1)" font-family='"Liberation Mono", monospace' font-size="13.94" fill="#fff" stroke="#000" stroke-width="0.28">5</text>
<text transform="translate(732.86,410.04) rotate(90) scale(0.9793,1)" font-family='"Liberation Mono", monospace' font-size="13.73" fill="#fff" stroke="#000" stroke-width="0.27">6</text>
<text transform="translate(754.32,409.93) rotate(90) scale(1.0075,1)" font-family='"Liberation Mono", monospace' font-size="13.94" fill="#fff" stroke="#000" stroke-width="0.28">7</text>
<text transform="translate(786.4,410.38) rotate(90) scale(0.9484,1)" font-family='"Liberation Mono", monospace' font-size="14.03" fill="#fff" stroke="#000" stroke-width="0.28">8</text>
<text transform="translate(807.86,410.31) rotate(90) scale(0.9584,1)" font-family='"Liberation Mono", monospace' font-size="14.03" fill="#fff" stroke="#000" stroke-width="0.28">9</text>
<text transform="translate(829.32,399.95) rotate(90) scale(0.9472,1)" font-family='"Liberation Mono", monospace' font-size="14.03" fill="#fff" stroke="#000" stroke-width="0.28">10</text>
<text transform="translate(850.78,399.96) rotate(90) scale(0.9202,1)" font-family='"Liberation Mono", monospace' font-size="14.24" fill="#fff" stroke="#000" stroke-width="0.28">11</text>
<text transform="translate(872.24,399.94) rotate(90) scale(0.9562,1)" font-family='"Liberation Mono", monospace' font-size="14.03" fill="#fff" stroke="#000" stroke-width="0.28">12</text>
<text transform="translate(893.7,399.95) rotate(90) scale(0.9472,1)" font-family='"Liberation Mono", monospace' font-size="14.03" fill="#fff" stroke="#000" stroke-width="0.28">13</text>
<text transform="translate(915.16,392.26) rotate(90) scale(0.9302,1)" font-family='"Liberation Mono", monospace' font-size="14.03" fill="#fff" stroke="#000" stroke-width="0.28">GND</text>
<text transform="translate(936.62,382.38) rotate(90) scale(0.9046,1)" font-family='"Liberation Mono", monospace' font-size="14.24" fill="#fff" stroke="#000" stroke-width="0.28">AREF</text>
<text transform="translate(313.55,88.46) rotate(180) scale(1.0090,1)" font-family='"Liberation Mono", monospace' font-size="12.39" fill="#fff" stroke="#000" stroke-width="0.25">53</text>
<text transform="translate(383.39,88.46) rotate(180) scale(1.0562,1)" font-family='"Liberation Mono", monospace' font-size="12.39" fill="#fff" stroke="#000" stroke-width="0.25">52</text>
<text transform="translate(313.54,109.92) rotate(180) scale(0.9804,1)" font-family='"Liberation Mono", monospace' font-size="12.58" fill="#fff" stroke="#000" stroke-width="0.25">51</text>
<text transform="translate(383.38,109.92) rotate(180) scale(1.0464,1)" font-family='"Liberation Mono", monospace' font-size="12.39" fill="#fff" stroke="#000" stroke-width="0.25">50</text>
<text transform="translate(313.42,131.38) rotate(180) scale(1.0044,1)" font-family='"Liberation Mono", monospace' font-size="12.39" fill="#fff" stroke="#000" stroke-width="0.25">49</text>
<text transform="translate(383.25,131.38) rotate(180) scale(1.0416,1)" font-family='"Liberation Mono", monospace' font-size="12.39" fill="#fff" stroke="#000" stroke-width="0.25">48</text>
<text transform="translate(313.43,152.84) rotate(180) scale(0.9986,1)" font-family='"Liberation Mono", monospace' font-size="12.58" fill="#fff" stroke="#000" stroke-width="0.25">47</text>
<text transform="translate(383.24,152.84) rotate(180) scale(1.0368,1)" font-family='"Liberation Mono", monospace' font-size="12.39" fill="#fff" stroke="#000" stroke-width="0.25">46</text>
<text transform="translate(313.42,174.3) rotate(180) scale(0.9849,1)" font-family='"Liberation Mono", monospace' font-size="12.58" fill="#fff" stroke="#000" stroke-width="0.25">45</text>
<text transform="translate(383.24,174.3) rotate(180) scale(1.0120,1)" font-family='"Liberation Mono", monospace' font-size="12.58" fill="#fff" stroke="#000" stroke-width="0.25">44</text>
<text transform="translate(313.42,195.76) rotate(180) scale(0.9998,1)" font-family='"Liberation Mono", monospace' font-size="12.39" fill="#fff" stroke="#000" stroke-width="0.25">43</text>
<text transform="translate(383.25,195.76) rotate(180) scale(1.0464,1)" font-family='"Liberation Mono", monospace' font-size="12.39" fill="#fff" stroke="#000" stroke-width="0.25">42</text>
<text transform="translate(313.41,217.22) rotate(180) scale(0.9715,1)" font-family='"Liberation Mono", monospace' font-size="12.58" fill="#fff" stroke="#000" stroke-width="0.25">41</text>
<text transform="translate(383.24,217.22) rotate(180) scale(1.0368,1)" font-family='"Liberation Mono", monospace' font-size="12.39" fill="#fff" stroke="#000" stroke-width="0.25">40</text>
<text transform="translate(313.55,238.68) rotate(180) scale(1.0137,1)" font-family='"Liberation Mono", monospace' font-size="12.39" fill="#fff" stroke="#000" stroke-width="0.25">39</text>
<text transform="translate(383.38,238.68) rotate(180) scale(1.0513,1)" font-family='"Liberation Mono", monospace' font-size="12.39" fill="#fff" stroke="#000" stroke-width="0.25">38</text>
<text transform="translate(313.56,260.14) rotate(180) scale(1.0232,1)" font-family='"Liberation Mono", monospace' font-size="12.39" fill="#fff" stroke="#000" stroke-width="0.25">37</text>
<text transform="translate(383.38,260.14) rotate(180) scale(1.0464,1)" font-family='"Liberation Mono", monospace' font-size="12.39" fill="#fff" stroke="#000" stroke-width="0.25">36</text>
<text transform="translate(313.55,281.6) rotate(180) scale(1.0090,1)" font-family='"Liberation Mono", monospace' font-size="12.39" fill="#fff" stroke="#000" stroke-width="0.25">35</text>
<text transform="translate(383.37,281.6) rotate(180) scale(1.0368,1)" font-family='"Liberation Mono", monospace' font-size="12.39" fill="#fff" stroke="#000" stroke-width="0.25">34</text>
<text transform="translate(313.55,303.06) rotate(180) scale(1.0090,1)" font-family='"Liberation Mono", monospace' font-size="12.39" fill="#fff" stroke="#000" stroke-width="0.25">33</text>
<text transform="translate(383.39,303.06) rotate(180) scale(1.0562,1)" font-family='"Liberation Mono", monospace' font-size="12.39" fill="#fff" stroke="#000" stroke-width="0.25">32</text>
<text transform="translate(313.54,324.52) rotate(180) scale(0.9952,1)" font-family='"Liberation Mono", monospace' font-size="12.39" fill="#fff" stroke="#000" stroke-width="0.25">31</text>
<text transform="translate(383.38,324.52) rotate(180) scale(1.0464,1)" font-family='"Liberation Mono", monospace' font-size="12.39" fill="#fff" stroke="#000" stroke-width="0.25">30</text>
<text transform="translate(383.52,345.98) rotate(180) scale(1.0611,1)" font-family='"Liberation Mono", monospace' font-size="12.39" fill="#fff" stroke="#000" stroke-width="0.25">28</text>
<text transform="translate(383.52,367.44) rotate(180) scale(1.0562,1)" font-family='"Liberation Mono", monospace' font-size="12.39" fill="#fff" stroke="#000" stroke-width="0.25">26</text>
<text transform="translate(383.51,388.9) rotate(180) scale(1.0464,1)" font-family='"Liberation Mono", monospace' font-size="12.39" fill="#fff" stroke="#000" stroke-width="0.25">24</text>
<text transform="translate(383.52,410.36) rotate(180) scale(1.0662,1)" font-family='"Liberation Mono", monospace' font-size="12.39" fill="#fff" stroke="#000" stroke-width="0.25">22</text>
<text transform="translate(321.92,51.3) rotate(180) scale(1.0447,1)" font-family='"Liberation Mono", monospace' font-size="12.54" fill="#fff" stroke="#000" stroke-width="0.25">GND</text>
<text transform="translate(371.42,448.6) rotate(180) scale(0.9530,1)" font-family='"Liberation Mono", monospace' font-size="10.91" fill="#fff" stroke="#000" stroke-width="0.22">5V</text>
<text transform="translate(390.1,93.8) rotate(90) scale(1.0656,1)" font-family='"Liberation Mono", monospace' font-size="15.07" fill="#fff" stroke="#000" stroke-width="0.3">DIGITAL</text>
<text transform="translate(719.8,72.3) rotate(180) scale(1.0223,1)" font-family='"Liberation Mono", monospace' font-size="15.52" fill="#fff" stroke="#000" stroke-width="0.31">ANALOG IN</text>
<text transform="translate(795.59,72.3) rotate(180) scale(1.0263,1)" font-family='"Liberation Mono", monospace' font-size="15.52" fill="#fff" stroke="#000" stroke-width="0.31">POWER</text>
<text transform="translate(634.68,351.3) rotate(180) scale(1.0033,1)" font-family='"Liberation Mono", monospace' font-size="15.97" fill="#fff" stroke="#000" stroke-width="0.32">COMMUNICATION</text>
<text transform="translate(910.41,376.3) rotate(180) scale(1.0352,1)" font-family='"Liberation Mono", monospace' font-size="15.61" fill="#fff" stroke="#000" stroke-width="0.31">PWM</text>
<text transform="translate(946.6,292.3) rotate(180) scale(0.9985,1)" font-family='"Liberation Mono", monospace' font-size="16.06" fill="#fff" stroke="#000" stroke-width="0.32">RX</text>
<text transform="translate(945.94,312.1) rotate(180) scale(0.9823,1)" font-family='"Liberation Mono", monospace' font-size="15.76" fill="#fff" stroke="#000" stroke-width="0.32">TX</text>
<text transform="translate(937.92,356.6) rotate(180) scale(1.0402,1)" font-family='"Liberation Mono", monospace' font-size="16.06" fill="#fff" stroke="#000" stroke-width="0.32">L</text>
<text transform="translate(514.4,300.6) rotate(180) scale(1.0561,1)" font-family='"Liberation Mono", monospace' font-size="12.54" fill="#fff" stroke="#000" stroke-width="0.25">ON</text>
<text transform="translate(1134.97,402) rotate(180) scale(1.0216,1)" font-family='"Liberation Mono", monospace' font-size="17.46" fill="#fff" stroke="#000" stroke-width="0.35">MEANINGFUL</text>
<text transform="translate(1134.52,422.2) rotate(180) scale(1.0158,1)" font-family='"Liberation Mono", monospace' font-size="17.46" fill="#fff" stroke="#000" stroke-width="0.35">SOMETHING</text>
<text transform="translate(1134.98,439.2) rotate(180) scale(1.0416,1)" font-family='"Liberation Mono", monospace' font-size="17.27" fill="#fff" stroke="#000" stroke-width="0.35">MAKE</text>
<text transform="translate(588.06,111.8) rotate(180) scale(1.0466,1)" font-family='"Liberation Mono", monospace' font-size="26.42" fill="#fff" stroke="#000" stroke-width="0.53">MEGA</text>
<text transform="translate(488.71,112.7) rotate(180) scale(0.8609,1)" font-family='"Liberation Mono", monospace' font-size="25.07" fill="#fff" stroke="#000" stroke-width="0.5">2560</text>
<text transform="translate(814.44,136.7) rotate(180) scale(0.9707,1)" font-family='"Liberation Sans", sans-serif' font-size="51.43" fill="#fff" font-weight="bold" stroke="#fff" stroke-width="1.4" stroke-linejoin="miter">HERO XL</text>
<rect x="690.9" y="185.3" width="118" height="118" fill="#333"/>
<rect x="956.3" y="281" width="42.5" height="42" fill="#333"/>
<rect x="1031" y="386.9" width="8.8" height="14.5" fill="#222"/>
<rect x="1065.3" y="384.9" width="21" height="10.1" fill="#222"/>
<rect x="497.8" y="205.1" width="6.7" height="9" fill="#e3e3e3"/>
<rect x="514.3" y="205.1" width="10.4" height="9" fill="#e3e3e3"/>
<rect x="534" y="205.1" width="7.2" height="9" fill="#e3e3e3"/>
<rect x="497.8" y="273.5" width="6.7" height="9.5" fill="#e3e3e3"/>
<rect x="534" y="273.5" width="7.2" height="9.5" fill="#e3e3e3"/>
<path d="M491.4,213 H546.9 V231.2 H545.6 V256.4 H546.9 V274.5 H491.4 V256.4 H492.7 V231.2 H491.4 Z" fill="#cccccc"/>
<circle cx="519.2" cy="243.8" r="15.2" fill="#822525"/>
<path d="M582.1,213.5 H617.7 L621.3,217.1 V231.1 L617.7,234.7 H582.1 L578.5,231.1 V217.1 Z" fill="#3b3b3b"/>
<rect x="585.2" y="220.2" width="7.8" height="7.8" fill="#8f8458"/>
<rect x="586.8" y="221.8" width="4.6" height="4.6" fill="#cfc48f"/>
<rect x="606.5" y="220.2" width="7.8" height="7.8" fill="#8f8458"/>
<rect x="608.1" y="221.8" width="4.6" height="4.6" fill="#cfc48f"/>
<path d="M582.1,234.7 H617.7 L621.3,238.3 V252.6 L617.7,256.2 H582.1 L578.5,252.6 V238.3 Z" fill="#3b3b3b"/>
<rect x="585.2" y="241.55" width="7.8" height="7.8" fill="#8f8458"/>
<rect x="586.8" y="243.15" width="4.6" height="4.6" fill="#cfc48f"/>
<rect x="606.5" y="241.55" width="7.8" height="7.8" fill="#8f8458"/>
<rect x="608.1" y="243.15" width="4.6" height="4.6" fill="#cfc48f"/>
<path d="M582.1,256.2 H617.7 L621.3,259.8 V273.8 L617.7,277.4 H582.1 L578.5,273.8 V259.8 Z" fill="#3b3b3b"/>
<rect x="585.2" y="262.9" width="7.8" height="7.8" fill="#8f8458"/>
<rect x="586.8" y="264.5" width="4.6" height="4.6" fill="#cfc48f"/>
<rect x="606.5" y="262.9" width="7.8" height="7.8" fill="#8f8458"/>
<rect x="608.1" y="264.5" width="4.6" height="4.6" fill="#cfc48f"/>
<path d="M961.1,375.5 H975.1 L978.7,379.1 V415 L975.1,418.6 H961.1 L957.5,415 V379.1 Z" fill="#3b3b3b"/>
<rect x="964.2" y="382.4" width="7.8" height="7.8" fill="#8f8458"/>
<rect x="965.8" y="384" width="4.6" height="4.6" fill="#cfc48f"/>
<rect x="964.2" y="403.9" width="7.8" height="7.8" fill="#8f8458"/>
<rect x="965.8" y="405.5" width="4.6" height="4.6" fill="#cfc48f"/>
<path d="M982.3,375.5 H996.4 L1000,379.1 V415 L996.4,418.6 H982.3 L978.7,415 V379.1 Z" fill="#3b3b3b"/>
<rect x="985.45" y="382.4" width="7.8" height="7.8" fill="#8f8458"/>
<rect x="987.05" y="384" width="4.6" height="4.6" fill="#cfc48f"/>
<rect x="985.45" y="403.9" width="7.8" height="7.8" fill="#8f8458"/>
<rect x="987.05" y="405.5" width="4.6" height="4.6" fill="#cfc48f"/>
<path d="M1003.6,375.5 H1017.6 L1021.2,379.1 V415 L1017.6,418.6 H1003.6 L1000,415 V379.1 Z" fill="#3b3b3b"/>
<rect x="1006.7" y="382.4" width="7.8" height="7.8" fill="#8f8458"/>
<rect x="1008.3" y="384" width="4.6" height="4.6" fill="#cfc48f"/>
<rect x="1006.7" y="403.9" width="7.8" height="7.8" fill="#8f8458"/>
<rect x="1008.3" y="405.5" width="4.6" height="4.6" fill="#cfc48f"/>
<rect x="899.8" y="291.9" width="23.2" height="12.1" fill="#cdbd83"/>
<rect x="903" y="292.7" width="16.8" height="10.5" fill="#f2f2f0"/>
<path d="M903.3,293.4 C910.8,293.9 911.8,302 919.5,302.8" stroke="#dccf9f" stroke-width="0.7" fill="none"/>
<rect x="899.8" y="310.9" width="23.2" height="12.3" fill="#cdbd83"/>
<rect x="903" y="311.7" width="16.8" height="10.7" fill="#f2f2f0"/>
<path d="M903.3,312.4 C910.8,312.9 911.8,321.2 919.5,322" stroke="#dccf9f" stroke-width="0.7" fill="none"/>
<rect x="899" y="356.1" width="23.2" height="12.3" fill="#cdbd83"/>
<rect x="902.2" y="356.9" width="16.8" height="10.7" fill="#f2f2f0"/>
<path d="M902.5,357.6 C910,358.1 911,366.4 918.7,367.2" stroke="#dccf9f" stroke-width="0.7" fill="none"/>
<rect x="492" y="313.5" width="23.1" height="11.6" fill="#cdbd83"/>
<rect x="495.2" y="314.3" width="16.7" height="10" fill="#f2f2f0"/>
<path d="M495.5,315 C503,315.5 504,323.1 511.6,323.9" stroke="#dccf9f" stroke-width="0.7" fill="none"/>
<rect x="928.2" y="54.8" width="4" height="3.6" fill="#d0d0d0"/><rect x="928.2" y="112.4" width="4" height="3.6" fill="#d0d0d0"/>
<path d="M905.7,58 H955.7 Q957.8,58 957.8,60 V101.5 L946.7,112.6 H914.7 L903.6,101.5 V60 Q903.6,58 905.7,58Z" fill="#343434"/>
<circle cx="930.2" cy="85.4" r="26.2" fill="#111"/>
<circle cx="930.2" cy="85.4" r="25.8" fill="#e6e6e6"/>
<path d="M909.65,69.8 A25.8,25.8 0 0 1 950.75,69.8 Z" fill="#000"/>
<circle cx="930.2" cy="85.4" r="26" fill="none" stroke="#555" stroke-width="0.6"/>
<rect x="988.3" y="54.8" width="4" height="3.6" fill="#d0d0d0"/><rect x="988.3" y="112.4" width="4" height="3.6" fill="#d0d0d0"/>
<path d="M965.8,58 H1015.8 Q1017.9,58 1017.9,60 V101.5 L1006.8,112.6 H974.8 L963.7,101.5 V60 Q963.7,58 965.8,58Z" fill="#343434"/>
<circle cx="990.3" cy="85.4" r="26.2" fill="#111"/>
<circle cx="990.3" cy="85.4" r="25.8" fill="#e6e6e6"/>
<path d="M969.75,69.8 A25.8,25.8 0 0 1 1010.85,69.8 Z" fill="#000"/>
<circle cx="990.3" cy="85.4" r="26" fill="none" stroke="#555" stroke-width="0.6"/>
<rect x="1044.5" y="65.2" width="3" height="17.2" fill="#666"/>
<rect x="1046.9" y="57.1" width="3.6" height="33.3" fill="#444"/>
<rect x="1050.4" y="39" width="88.2" height="69.4" fill="#262626"/>
<rect x="1050.4" y="39" width="88.2" height="6" fill="#050505"/>
<rect x="1050.4" y="45" width="88.2" height="17" fill="#1c1c1c"/>
<rect x="1050.4" y="86" width="88.2" height="16.5" fill="#2c2c2c"/>
<rect x="1050.4" y="102.5" width="88.2" height="5" fill="#4d4d4d"/>
<rect x="1050.4" y="39" width="8" height="69.4" fill="#303030" opacity="0.5"/>
<path d="M1138.6,50.4 H1101 A22.85,22.85 0 0 0 1101,96.1 H1138.6Z" fill="#222"/>
<rect x="1138.5" y="36.1" width="22.3" height="75.3" fill="#262626"/>
<rect x="1140.5" y="37" width="18.5" height="3" fill="#050505"/>
<rect x="1140.5" y="107.4" width="18.5" height="3.2" fill="#444"/>
<rect x="1043.2" y="133.5" width="14.5" height="10.1" fill="#999"/>
<rect x="1043.2" y="153.2" width="14.5" height="9.7" fill="#999"/>
<rect x="1043.2" y="172.7" width="14.5" height="9.9" fill="#999"/>
<rect x="1087.5" y="143.3" width="15.4" height="29.7" fill="#999"/>
<rect x="1057.5" y="129.8" width="29.8" height="57" fill="#242424"/>
<rect x="1059" y="131.6" width="26.8" height="53.4" fill="#303030"/>
<circle cx="1063.9" cy="136" r="2" fill="#222"/>
<rect x="1119.3" y="269.3" width="14.1" height="12" fill="#a0a0a0"/>
<rect x="1119.3" y="378" width="14.1" height="11.7" fill="#b5b5b5"/>
<rect x="1067" y="281" width="131.7" height="97.3" fill="#b3b3b3"/>
<rect x="1067" y="281" width="22.7" height="97.3" fill="#999"/>
<rect x="1067" y="281" width="22.7" height="6" fill="#808080"/>
<rect x="1089.7" y="281" width="109" height="6" fill="#919191"/>
<rect x="1067" y="372.3" width="22.7" height="6" fill="#b0b0b0"/>
<rect x="1089.7" y="372.3" width="109" height="6" fill="#c2c2c2"/>
<line x1="1089.7" x2="1089.7" y1="281" y2="378.3" stroke="#8c8c8c" stroke-width="0.6"/>
<rect x="571.4" y="307.2" width="202.3" height="36.2" fill="none" stroke="#3c3c3c" stroke-width="0.7"/>
<text transform="translate(705.6,309.7) rotate(180) scale(0.72,1)" font-family='"Liberation Sans", sans-serif' font-size="34" letter-spacing="5.6" fill="#fff" stroke="#fff" stroke-width="0.9" vector-effect="non-scaling-stroke" stroke-linejoin="round">inventr.io</text>
<path d="M734.1,310.6 L716.2,330.8 L727.4,340.1" stroke="#fff" stroke-width="5.3" stroke-linecap="round" stroke-linejoin="round" fill="none"/>
<path d="M748.7,311.5 L738.3,338.7" stroke="#fff" stroke-width="5.3" stroke-linecap="round" stroke-linejoin="round" fill="none"/>
<path d="M759.1,310.6 L770.5,319.6 L752.6,340.3" stroke="#fff" stroke-width="5.3" stroke-linecap="round" stroke-linejoin="round" fill="none"/>
<path d="M723.5,330.5 L732.7,320.4 L738.3,324.1 L732.7,337.3Z" fill="#fff" stroke="#fff" stroke-width="0.8" stroke-linejoin="round"/>
<path d="M753.7,313.7 L763.3,320.4 L753.7,331.1 L749.3,327.5Z" fill="#fff" stroke="#fff" stroke-width="0.8" stroke-linejoin="round"/>
<circle cx="733" cy="327.5" r="1.5" fill="#000"/>
<circle cx="729.1" cy="328" r="1" fill="#000"/>
<circle cx="732.7" cy="323.4" r="0.8" fill="#000"/>
<circle cx="736.1" cy="318.2" r="1.3" fill="#fff"/>
<circle cx="739.5" cy="316.5" r="0.8" fill="#fff"/>
<circle cx="738.6" cy="320.4" r="0.8" fill="#fff"/>
<circle cx="753.3" cy="323" r="1.4" fill="#000"/>
<circle cx="757.2" cy="322.7" r="1.1" fill="#000"/>
<circle cx="753.6" cy="327.2" r="0.8" fill="#000"/>
<circle cx="750.1" cy="332.2" r="1.3" fill="#fff"/>
<circle cx="747" cy="333.9" r="1" fill="#aaa"/>
<circle cx="747.9" cy="330.5" r="0.7" fill="#ccc"/>
<line x1="440.2" x2="440.2" y1="628.4" y2="712.3" stroke="#8c8c8c" stroke-width="8.3" stroke-linecap="round"/>
<circle cx="440.2" cy="628.4" r="4.15" fill="#74a774"/><circle cx="440.2" cy="712.3" r="4.15" fill="#74a774"/>
<clipPath id="rc1"><path d="M433.2,644.1 H447.2 Q450.2,644.1 450.2,647.1 V653.1 C450.2,656.1 448.35,655.6 448.35,659.1 V683.8 C448.35,687.3 450.2,686.8 450.2,689.8 V695.8 Q450.2,698.8 447.2,698.8 H433.2 Q430.2,698.8 430.2,695.8 V689.8 C430.2,686.8 432.05,687.3 432.05,683.8 V659.1 C432.05,655.6 430.2,656.1 430.2,653.1 V647.1 Q430.2,644.1 433.2,644.1 Z"/></clipPath>
<path d="M433.2,644.1 H447.2 Q450.2,644.1 450.2,647.1 V653.1 C450.2,656.1 448.35,655.6 448.35,659.1 V683.8 C448.35,687.3 450.2,686.8 450.2,689.8 V695.8 Q450.2,698.8 447.2,698.8 H433.2 Q430.2,698.8 430.2,695.8 V689.8 C430.2,686.8 432.05,687.3 432.05,683.8 V659.1 C432.05,655.6 430.2,656.1 430.2,653.1 V647.1 Q430.2,644.1 433.2,644.1 Z" fill="#7cc6b9"/>
<g clip-path="url(#rc1)">
<rect x="429.2" y="659" width="22" height="5.1" fill="#cc1414"/>
<rect x="429.2" y="667.3" width="22" height="5.9" fill="#000"/>
<rect x="429.2" y="676" width="22" height="5.8" fill="#000"/>
<rect x="429.2" y="685.3" width="22" height="5.5" fill="#8a3a0a"/>
<rect x="431.2" y="649.1" width="9" height="1.6" fill="#f2dc30"/>
<rect x="440.2" y="649.1" width="9.5" height="1.6" fill="#000"/>
<rect x="443.6" y="646.6" width="4.9" height="49.7" fill="#000" opacity="0.3"/>
<path d="M432.6,648.5 h2.2 l-0.6,9.5 l-1.6,-1.5z" fill="#fff" opacity="0.9"/>
<rect x="432" y="694.2" width="2" height="2" fill="#fff"/>
</g>
<line x1="524.7" x2="524.7" y1="628.4" y2="712.3" stroke="#8c8c8c" stroke-width="8.3" stroke-linecap="round"/>
<circle cx="524.7" cy="628.4" r="4.15" fill="#74a774"/><circle cx="524.7" cy="712.3" r="4.15" fill="#74a774"/>
<clipPath id="rc2"><path d="M517.7,644.1 H531.7 Q534.7,644.1 534.7,647.1 V653.1 C534.7,656.1 532.85,655.6 532.85,659.1 V683.8 C532.85,687.3 534.7,686.8 534.7,689.8 V695.8 Q534.7,698.8 531.7,698.8 H517.7 Q514.7,698.8 514.7,695.8 V689.8 C514.7,686.8 516.55,687.3 516.55,683.8 V659.1 C516.55,655.6 514.7,656.1 514.7,653.1 V647.1 Q514.7,644.1 517.7,644.1 Z"/></clipPath>
<path d="M517.7,644.1 H531.7 Q534.7,644.1 534.7,647.1 V653.1 C534.7,656.1 532.85,655.6 532.85,659.1 V683.8 C532.85,687.3 534.7,686.8 534.7,689.8 V695.8 Q534.7,698.8 531.7,698.8 H517.7 Q514.7,698.8 514.7,695.8 V689.8 C514.7,686.8 516.55,687.3 516.55,683.8 V659.1 C516.55,655.6 514.7,656.1 514.7,653.1 V647.1 Q514.7,644.1 517.7,644.1 Z" fill="#7cc6b9"/>
<g clip-path="url(#rc2)">
<rect x="513.7" y="659" width="22" height="5.1" fill="#cc1414"/>
<rect x="513.7" y="667.3" width="22" height="5.9" fill="#000"/>
<rect x="513.7" y="676" width="22" height="5.8" fill="#000"/>
<rect x="513.7" y="685.3" width="22" height="5.5" fill="#8a3a0a"/>
<rect x="515.7" y="649.1" width="9" height="1.6" fill="#f2dc30"/>
<rect x="524.7" y="649.1" width="9.5" height="1.6" fill="#000"/>
<rect x="528.1" y="646.6" width="4.9" height="49.7" fill="#000" opacity="0.3"/>
<path d="M517.1,648.5 h2.2 l-0.6,9.5 l-1.6,-1.5z" fill="#fff" opacity="0.9"/>
<rect x="516.5" y="694.2" width="2" height="2" fill="#fff"/>
</g>
<line x1="609.3" x2="609.3" y1="628.4" y2="712.3" stroke="#8c8c8c" stroke-width="8.3" stroke-linecap="round"/>
<circle cx="609.3" cy="628.4" r="4.15" fill="#74a774"/><circle cx="609.3" cy="712.3" r="4.15" fill="#74a774"/>
<clipPath id="rc3"><path d="M602.3,644.1 H616.3 Q619.3,644.1 619.3,647.1 V653.1 C619.3,656.1 617.45,655.6 617.45,659.1 V683.8 C617.45,687.3 619.3,686.8 619.3,689.8 V695.8 Q619.3,698.8 616.3,698.8 H602.3 Q599.3,698.8 599.3,695.8 V689.8 C599.3,686.8 601.15,687.3 601.15,683.8 V659.1 C601.15,655.6 599.3,656.1 599.3,653.1 V647.1 Q599.3,644.1 602.3,644.1 Z"/></clipPath>
<path d="M602.3,644.1 H616.3 Q619.3,644.1 619.3,647.1 V653.1 C619.3,656.1 617.45,655.6 617.45,659.1 V683.8 C617.45,687.3 619.3,686.8 619.3,689.8 V695.8 Q619.3,698.8 616.3,698.8 H602.3 Q599.3,698.8 599.3,695.8 V689.8 C599.3,686.8 601.15,687.3 601.15,683.8 V659.1 C601.15,655.6 599.3,656.1 599.3,653.1 V647.1 Q599.3,644.1 602.3,644.1 Z" fill="#7cc6b9"/>
<g clip-path="url(#rc3)">
<rect x="598.3" y="659" width="22" height="5.1" fill="#cc1414"/>
<rect x="598.3" y="667.3" width="22" height="5.9" fill="#000"/>
<rect x="598.3" y="676" width="22" height="5.8" fill="#000"/>
<rect x="598.3" y="685.3" width="22" height="5.5" fill="#8a3a0a"/>
<rect x="600.3" y="649.1" width="9" height="1.6" fill="#f2dc30"/>
<rect x="609.3" y="649.1" width="9.5" height="1.6" fill="#000"/>
<rect x="612.7" y="646.6" width="4.9" height="49.7" fill="#000" opacity="0.3"/>
<path d="M601.7,648.5 h2.2 l-0.6,9.5 l-1.6,-1.5z" fill="#fff" opacity="0.9"/>
<rect x="601.1" y="694.2" width="2" height="2" fill="#fff"/>
</g>
<line x1="693.6" x2="693.6" y1="628.4" y2="712.3" stroke="#8c8c8c" stroke-width="8.3" stroke-linecap="round"/>
<circle cx="693.6" cy="628.4" r="4.15" fill="#74a774"/><circle cx="693.6" cy="712.3" r="4.15" fill="#74a774"/>
<clipPath id="rc4"><path d="M686.6,644.1 H700.6 Q703.6,644.1 703.6,647.1 V653.1 C703.6,656.1 701.75,655.6 701.75,659.1 V683.8 C701.75,687.3 703.6,686.8 703.6,689.8 V695.8 Q703.6,698.8 700.6,698.8 H686.6 Q683.6,698.8 683.6,695.8 V689.8 C683.6,686.8 685.45,687.3 685.45,683.8 V659.1 C685.45,655.6 683.6,656.1 683.6,653.1 V647.1 Q683.6,644.1 686.6,644.1 Z"/></clipPath>
<path d="M686.6,644.1 H700.6 Q703.6,644.1 703.6,647.1 V653.1 C703.6,656.1 701.75,655.6 701.75,659.1 V683.8 C701.75,687.3 703.6,686.8 703.6,689.8 V695.8 Q703.6,698.8 700.6,698.8 H686.6 Q683.6,698.8 683.6,695.8 V689.8 C683.6,686.8 685.45,687.3 685.45,683.8 V659.1 C685.45,655.6 683.6,656.1 683.6,653.1 V647.1 Q683.6,644.1 686.6,644.1 Z" fill="#7cc6b9"/>
<g clip-path="url(#rc4)">
<rect x="682.6" y="659" width="22" height="5.1" fill="#cc1414"/>
<rect x="682.6" y="667.3" width="22" height="5.9" fill="#000"/>
<rect x="682.6" y="676" width="22" height="5.8" fill="#000"/>
<rect x="682.6" y="685.3" width="22" height="5.5" fill="#8a3a0a"/>
<rect x="684.6" y="649.1" width="9" height="1.6" fill="#f2dc30"/>
<rect x="693.6" y="649.1" width="9.5" height="1.6" fill="#000"/>
<rect x="697" y="646.6" width="4.9" height="49.7" fill="#000" opacity="0.3"/>
<path d="M686,648.5 h2.2 l-0.6,9.5 l-1.6,-1.5z" fill="#fff" opacity="0.9"/>
<rect x="685.4" y="694.2" width="2" height="2" fill="#fff"/>
</g>
<line x1="778.3" x2="778.3" y1="628.4" y2="712.3" stroke="#8c8c8c" stroke-width="8.3" stroke-linecap="round"/>
<circle cx="778.3" cy="628.4" r="4.15" fill="#74a774"/><circle cx="778.3" cy="712.3" r="4.15" fill="#74a774"/>
<clipPath id="rc5"><path d="M771.3,644.1 H785.3 Q788.3,644.1 788.3,647.1 V653.1 C788.3,656.1 786.45,655.6 786.45,659.1 V683.8 C786.45,687.3 788.3,686.8 788.3,689.8 V695.8 Q788.3,698.8 785.3,698.8 H771.3 Q768.3,698.8 768.3,695.8 V689.8 C768.3,686.8 770.15,687.3 770.15,683.8 V659.1 C770.15,655.6 768.3,656.1 768.3,653.1 V647.1 Q768.3,644.1 771.3,644.1 Z"/></clipPath>
<path d="M771.3,644.1 H785.3 Q788.3,644.1 788.3,647.1 V653.1 C788.3,656.1 786.45,655.6 786.45,659.1 V683.8 C786.45,687.3 788.3,686.8 788.3,689.8 V695.8 Q788.3,698.8 785.3,698.8 H771.3 Q768.3,698.8 768.3,695.8 V689.8 C768.3,686.8 770.15,687.3 770.15,683.8 V659.1 C770.15,655.6 768.3,656.1 768.3,653.1 V647.1 Q768.3,644.1 771.3,644.1 Z" fill="#7cc6b9"/>
<g clip-path="url(#rc5)">
<rect x="767.3" y="659" width="22" height="5.1" fill="#cc1414"/>
<rect x="767.3" y="667.3" width="22" height="5.9" fill="#000"/>
<rect x="767.3" y="676" width="22" height="5.8" fill="#000"/>
<rect x="767.3" y="685.3" width="22" height="5.5" fill="#8a3a0a"/>
<rect x="769.3" y="649.1" width="9" height="1.6" fill="#f2dc30"/>
<rect x="778.3" y="649.1" width="9.5" height="1.6" fill="#000"/>
<rect x="781.7" y="646.6" width="4.9" height="49.7" fill="#000" opacity="0.3"/>
<path d="M770.7,648.5 h2.2 l-0.6,9.5 l-1.6,-1.5z" fill="#fff" opacity="0.9"/>
<rect x="770.1" y="694.2" width="2" height="2" fill="#fff"/>
</g>
<line x1="51.8" x2="51.8" y1="780.5" y2="864" stroke="#8c8c8c" stroke-width="8.3" stroke-linecap="round"/>
<circle cx="51.8" cy="780.5" r="4.15" fill="#74a774"/><circle cx="51.8" cy="864" r="4.15" fill="#74a774"/>
<clipPath id="rc6"><path d="M44.8,796.8 H58.8 Q61.8,796.8 61.8,799.8 V805.8 C61.8,808.8 59.95,808.3 59.95,811.8 V834.8 C59.95,838.3 61.8,837.8 61.8,840.8 V846.8 Q61.8,849.8 58.8,849.8 H44.8 Q41.8,849.8 41.8,846.8 V840.8 C41.8,837.8 43.65,838.3 43.65,834.8 V811.8 C43.65,808.3 41.8,808.8 41.8,805.8 V799.8 Q41.8,796.8 44.8,796.8 Z"/></clipPath>
<path d="M44.8,796.8 H58.8 Q61.8,796.8 61.8,799.8 V805.8 C61.8,808.8 59.95,808.3 59.95,811.8 V834.8 C59.95,838.3 61.8,837.8 61.8,840.8 V846.8 Q61.8,849.8 58.8,849.8 H44.8 Q41.8,849.8 41.8,846.8 V840.8 C41.8,837.8 43.65,838.3 43.65,834.8 V811.8 C43.65,808.3 41.8,808.8 41.8,805.8 V799.8 Q41.8,796.8 44.8,796.8 Z" fill="#7cc6b9"/>
<g clip-path="url(#rc6)">
<rect x="40.8" y="811" width="22" height="5.2" fill="#000"/>
<rect x="40.8" y="820" width="22" height="5.3" fill="#000"/>
<rect x="40.8" y="828.6" width="22" height="5.1" fill="#cc1414"/>
<rect x="40.8" y="838.2" width="22" height="5.3" fill="#cc1414"/>
<rect x="42.8" y="801.5" width="9" height="1.6" fill="#f2dc30"/>
<rect x="51.8" y="801.5" width="9.5" height="1.6" fill="#000"/>
<rect x="55.2" y="799.3" width="4.9" height="48" fill="#000" opacity="0.3"/>
<path d="M44.2,801.2 h2.2 l-0.6,9.5 l-1.6,-1.5z" fill="#fff" opacity="0.9"/>
<rect x="43.6" y="845.2" width="2" height="2" fill="#fff"/>
</g>
<rect x="385.9" y="798.3" width="6" height="9" fill="#78aa78" stroke="#55dd55" stroke-width="0.8"/>
<rect x="385.9" y="859.9" width="6" height="9" fill="#78aa78" stroke="#55dd55" stroke-width="0.8"/>
<rect x="428.7" y="798.3" width="6" height="9" fill="#78aa78" stroke="#55dd55" stroke-width="0.8"/>
<rect x="428.7" y="859.9" width="6" height="9" fill="#78aa78" stroke="#55dd55" stroke-width="0.8"/>
<rect x="384.55" y="807.2" width="52.7" height="52.7" fill="#9a9a9a"/>
<rect x="384.95" y="807.6" width="51.900000000000006" height="51.900000000000006" fill="none" stroke="#8a8a8a" stroke-width="0.8"/>
<rect x="384.55" y="807.2" width="1.6" height="1.6" fill="#111"/>
<rect x="435.65" y="807.2" width="1.6" height="1.6" fill="#111"/>
<rect x="384.55" y="858.3" width="1.6" height="1.6" fill="#111"/>
<rect x="435.65" y="858.3" width="1.6" height="1.6" fill="#111"/>
<circle cx="392.3" cy="814.8" r="4.4" fill="#000"/>
<circle cx="390.7" cy="813" r="1" fill="#777"/>
<circle cx="429.5" cy="814.8" r="4.4" fill="#000"/>
<circle cx="427.9" cy="813" r="1" fill="#777"/>
<circle cx="392.3" cy="852.3" r="4.4" fill="#000"/>
<circle cx="390.7" cy="850.5" r="1" fill="#777"/>
<circle cx="429.5" cy="852.3" r="4.4" fill="#000"/>
<circle cx="427.9" cy="850.5" r="1" fill="#777"/>
<circle cx="410.9" cy="833.6" r="15.3" fill="#333"/>
<circle cx="410.9" cy="833.6" r="13.2" fill="#75564a"/>
<path d="M403.4,823.6 A12.6,12.6 0 0 1 418.4,823.6" stroke="#a08a80" stroke-width="0.7" fill="none"/>
<rect x="470.5" y="798.3" width="6" height="9" fill="#78aa78" stroke="#55dd55" stroke-width="0.8"/>
<rect x="470.5" y="859.9" width="6" height="9" fill="#78aa78" stroke="#55dd55" stroke-width="0.8"/>
<rect x="513.3" y="798.3" width="6" height="9" fill="#78aa78" stroke="#55dd55" stroke-width="0.8"/>
<rect x="513.3" y="859.9" width="6" height="9" fill="#78aa78" stroke="#55dd55" stroke-width="0.8"/>
<rect x="469.15" y="807.2" width="52.7" height="52.7" fill="#9a9a9a"/>
<rect x="469.55" y="807.6" width="51.900000000000006" height="51.900000000000006" fill="none" stroke="#8a8a8a" stroke-width="0.8"/>
<rect x="469.15" y="807.2" width="1.6" height="1.6" fill="#111"/>
<rect x="520.25" y="807.2" width="1.6" height="1.6" fill="#111"/>
<rect x="469.15" y="858.3" width="1.6" height="1.6" fill="#111"/>
<rect x="520.25" y="858.3" width="1.6" height="1.6" fill="#111"/>
<circle cx="476.9" cy="814.8" r="4.4" fill="#000"/>
<circle cx="475.3" cy="813" r="1" fill="#777"/>
<circle cx="514.1" cy="814.8" r="4.4" fill="#000"/>
<circle cx="512.5" cy="813" r="1" fill="#777"/>
<circle cx="476.9" cy="852.3" r="4.4" fill="#000"/>
<circle cx="475.3" cy="850.5" r="1" fill="#777"/>
<circle cx="514.1" cy="852.3" r="4.4" fill="#000"/>
<circle cx="512.5" cy="850.5" r="1" fill="#777"/>
<circle cx="495.5" cy="833.6" r="15.3" fill="#333"/>
<circle cx="495.5" cy="833.6" r="13.2" fill="#75564a"/>
<path d="M488,823.6 A12.6,12.6 0 0 1 503,823.6" stroke="#a08a80" stroke-width="0.7" fill="none"/>
<rect x="563.6" y="798.3" width="6" height="9" fill="#78aa78" stroke="#55dd55" stroke-width="0.8"/>
<rect x="563.6" y="859.9" width="6" height="9" fill="#78aa78" stroke="#55dd55" stroke-width="0.8"/>
<rect x="606.4" y="798.3" width="6" height="9" fill="#78aa78" stroke="#55dd55" stroke-width="0.8"/>
<rect x="606.4" y="859.9" width="6" height="9" fill="#78aa78" stroke="#55dd55" stroke-width="0.8"/>
<rect x="562.25" y="807.2" width="52.7" height="52.7" fill="#9a9a9a"/>
<rect x="562.65" y="807.6" width="51.900000000000006" height="51.900000000000006" fill="none" stroke="#8a8a8a" stroke-width="0.8"/>
<rect x="562.25" y="807.2" width="1.6" height="1.6" fill="#111"/>
<rect x="613.35" y="807.2" width="1.6" height="1.6" fill="#111"/>
<rect x="562.25" y="858.3" width="1.6" height="1.6" fill="#111"/>
<rect x="613.35" y="858.3" width="1.6" height="1.6" fill="#111"/>
<circle cx="570" cy="814.8" r="4.4" fill="#000"/>
<circle cx="568.4" cy="813" r="1" fill="#777"/>
<circle cx="607.2" cy="814.8" r="4.4" fill="#000"/>
<circle cx="605.6" cy="813" r="1" fill="#777"/>
<circle cx="570" cy="852.3" r="4.4" fill="#000"/>
<circle cx="568.4" cy="850.5" r="1" fill="#777"/>
<circle cx="607.2" cy="852.3" r="4.4" fill="#000"/>
<circle cx="605.6" cy="850.5" r="1" fill="#777"/>
<circle cx="588.6" cy="833.6" r="15.3" fill="#333"/>
<circle cx="588.6" cy="833.6" r="13.2" fill="#75564a"/>
<path d="M581.1,823.6 A12.6,12.6 0 0 1 596.1,823.6" stroke="#a08a80" stroke-width="0.7" fill="none"/>
<rect x="647.7" y="798.3" width="6" height="9" fill="#78aa78" stroke="#55dd55" stroke-width="0.8"/>
<rect x="647.7" y="859.9" width="6" height="9" fill="#78aa78" stroke="#55dd55" stroke-width="0.8"/>
<rect x="690.5" y="798.3" width="6" height="9" fill="#78aa78" stroke="#55dd55" stroke-width="0.8"/>
<rect x="690.5" y="859.9" width="6" height="9" fill="#78aa78" stroke="#55dd55" stroke-width="0.8"/>
<rect x="646.35" y="807.2" width="52.7" height="52.7" fill="#9a9a9a"/>
<rect x="646.75" y="807.6" width="51.900000000000006" height="51.900000000000006" fill="none" stroke="#8a8a8a" stroke-width="0.8"/>
<rect x="646.35" y="807.2" width="1.6" height="1.6" fill="#111"/>
<rect x="697.45" y="807.2" width="1.6" height="1.6" fill="#111"/>
<rect x="646.35" y="858.3" width="1.6" height="1.6" fill="#111"/>
<rect x="697.45" y="858.3" width="1.6" height="1.6" fill="#111"/>
<circle cx="654.1" cy="814.8" r="4.4" fill="#000"/>
<circle cx="652.5" cy="813" r="1" fill="#777"/>
<circle cx="691.3" cy="814.8" r="4.4" fill="#000"/>
<circle cx="689.7" cy="813" r="1" fill="#777"/>
<circle cx="654.1" cy="852.3" r="4.4" fill="#000"/>
<circle cx="652.5" cy="850.5" r="1" fill="#777"/>
<circle cx="691.3" cy="852.3" r="4.4" fill="#000"/>
<circle cx="689.7" cy="850.5" r="1" fill="#777"/>
<circle cx="672.7" cy="833.6" r="15.3" fill="#333"/>
<circle cx="672.7" cy="833.6" r="13.2" fill="#75564a"/>
<path d="M665.2,823.6 A12.6,12.6 0 0 1 680.2,823.6" stroke="#a08a80" stroke-width="0.7" fill="none"/>
<rect x="732.5" y="798.3" width="6" height="9" fill="#78aa78" stroke="#55dd55" stroke-width="0.8"/>
<rect x="732.5" y="859.9" width="6" height="9" fill="#78aa78" stroke="#55dd55" stroke-width="0.8"/>
<rect x="775.3" y="798.3" width="6" height="9" fill="#78aa78" stroke="#55dd55" stroke-width="0.8"/>
<rect x="775.3" y="859.9" width="6" height="9" fill="#78aa78" stroke="#55dd55" stroke-width="0.8"/>
<rect x="731.15" y="807.2" width="52.7" height="52.7" fill="#9a9a9a"/>
<rect x="731.55" y="807.6" width="51.900000000000006" height="51.900000000000006" fill="none" stroke="#8a8a8a" stroke-width="0.8"/>
<rect x="731.15" y="807.2" width="1.6" height="1.6" fill="#111"/>
<rect x="782.25" y="807.2" width="1.6" height="1.6" fill="#111"/>
<rect x="731.15" y="858.3" width="1.6" height="1.6" fill="#111"/>
<rect x="782.25" y="858.3" width="1.6" height="1.6" fill="#111"/>
<circle cx="738.9" cy="814.8" r="4.4" fill="#000"/>
<circle cx="737.3" cy="813" r="1" fill="#777"/>
<circle cx="776.1" cy="814.8" r="4.4" fill="#000"/>
<circle cx="774.5" cy="813" r="1" fill="#777"/>
<circle cx="738.9" cy="852.3" r="4.4" fill="#000"/>
<circle cx="737.3" cy="850.5" r="1" fill="#777"/>
<circle cx="776.1" cy="852.3" r="4.4" fill="#000"/>
<circle cx="774.5" cy="850.5" r="1" fill="#777"/>
<circle cx="757.5" cy="833.6" r="15.3" fill="#333"/>
<circle cx="757.5" cy="833.6" r="13.2" fill="#75564a"/>
<path d="M750,823.6 A12.6,12.6 0 0 1 765,823.6" stroke="#a08a80" stroke-width="0.7" fill="none"/>
<circle cx="837.6" cy="818.7" r="49.5" fill="#333"/>
<circle cx="837.6" cy="780.5" r="5" fill="none" stroke="#222" stroke-width="0.8"/>
<path d="M834.6,780.5 h6 M837.6,777.5 v6" stroke="#222" stroke-width="0.8"/>
<rect x="833.5" y="793.2" width="8.2" height="8.2" fill="#8e1b1b"/>
<rect x="835.6" y="795.3" width="4" height="4" fill="#7a2222"/>
<rect x="833.5" y="836" width="8.2" height="8.2" fill="#8e1b1b"/>
<rect x="835.6" y="838.1" width="4" height="4" fill="#7a2222"/>
<circle cx="837.6" cy="818.7" r="5.2" fill="#1f1f1f"/>
<path d="M883.4,660 L886.09,756.4" stroke="#8c8c8c" stroke-width="6" fill="none" stroke-linejoin="round"/>
<path d="M895,660 V668.8 L904.8,680.7 L907.55,756.4" stroke="#8c8c8c" stroke-width="6" fill="none" stroke-linejoin="round"/>
<path d="M885.63,739.7 L886.09,756.4" stroke="#72a672" stroke-width="6"/><circle cx="886.09" cy="756.4" r="3" fill="#72a672"/>
<path d="M906.94,739.7 L907.55,756.4" stroke="#72a672" stroke-width="6"/><circle cx="907.55" cy="756.4" r="3" fill="#72a672"/>
<clipPath id="lc7"><rect x="870.3" y="600" width="60" height="80"/></clipPath>
<clipPath id="ld7"><path d="M870.3,652 V615.1 A20.8,20.9 0 0 1 911.9,615.1 V652 A20.8,7.5 0 0 1 870.3,652Z"/></clipPath>
<circle cx="893.1" cy="641.5" r="23" fill="#e81313" clip-path="url(#lc7)"/>
<path d="M870.3,652 V615.1 A20.8,20.9 0 0 1 911.9,615.1 V652 A20.8,7.5 0 0 1 870.3,652Z" fill="#e74848"/>
<g clip-path="url(#ld7)">
<ellipse cx="891.1" cy="653" rx="24" ry="19.3" fill="#e43535"/>
<line x1="870.3" x2="912.3" y1="614.35" y2="614.35" stroke="#2020c0" stroke-opacity="0.22" stroke-width="1.1"/>
<rect x="880.4" y="621" width="25.6" height="11.7" fill="#bb2424"/>
<rect x="903.3" y="632" width="2.7" height="10" fill="#bb2424"/>
<rect x="877.2" y="622" width="3.2" height="19.6" fill="#bb2424" opacity="0.3"/>
<path d="M888.9,632.9 L903.5,620.8" stroke="#e74848" stroke-width="1.5"/>
<circle cx="886.3" cy="649" r="3.2" fill="#bb2424" opacity="0.32"/>
<circle cx="908" cy="649" r="3" fill="#bb2424" opacity="0.32"/>
<circle cx="908.7" cy="627.2" r="3" fill="#bb2424" opacity="0.32"/>
<circle cx="895.6" cy="653.5" r="2.6" fill="#bb2424" opacity="0.32"/>
<path d="M877.1,659 V620 C877.1,610 879.3,605 884.6,601.8" stroke="#fff" stroke-opacity="0.3" stroke-width="6.2" fill="none"/>
<path d="M872.2,650 A20.8,8.3 0 0 0 904.6,655.2" stroke="#fff" stroke-opacity="0.4" stroke-width="1.5" fill="none"/>
<path d="M895.5,598.7 Q901.3,600 904.5,604.9 Q898.3,604.5 895.5,598.7Z" fill="#fff" fill-opacity="0.4"/>
</g>
<path d="M951,660 L950.46,756.4" stroke="#8c8c8c" stroke-width="6" fill="none" stroke-linejoin="round"/>
<path d="M962.6,660 V668.8 L972.4,680.7 L971.91,756.4" stroke="#8c8c8c" stroke-width="6" fill="none" stroke-linejoin="round"/>
<path d="M950.55,739.7 L950.46,756.4" stroke="#72a672" stroke-width="6"/><circle cx="950.46" cy="756.4" r="3" fill="#72a672"/>
<path d="M972.02,739.7 L971.91,756.4" stroke="#72a672" stroke-width="6"/><circle cx="971.91" cy="756.4" r="3" fill="#72a672"/>
<clipPath id="lc8"><rect x="937.9" y="600" width="60" height="80"/></clipPath>
<clipPath id="ld8"><path d="M937.9,652 V615.1 A20.8,20.9 0 0 1 979.5,615.1 V652 A20.8,7.5 0 0 1 937.9,652Z"/></clipPath>
<circle cx="960.7" cy="641.5" r="23" fill="#4a63f8" clip-path="url(#lc8)"/>
<path d="M937.9,652 V615.1 A20.8,20.9 0 0 1 979.5,615.1 V652 A20.8,7.5 0 0 1 937.9,652Z" fill="#6e84f5"/>
<g clip-path="url(#ld8)">
<ellipse cx="958.7" cy="653" rx="24" ry="19.3" fill="#6076f5"/>
<line x1="937.9" x2="979.9" y1="614.35" y2="614.35" stroke="#2020c0" stroke-opacity="0.22" stroke-width="1.1"/>
<rect x="948" y="621" width="25.6" height="11.7" fill="#4559cc"/>
<rect x="970.9" y="632" width="2.7" height="10" fill="#4559cc"/>
<rect x="944.8" y="622" width="3.2" height="19.6" fill="#4559cc" opacity="0.3"/>
<path d="M956.5,632.9 L971.1,620.8" stroke="#6e84f5" stroke-width="1.5"/>
<circle cx="953.9" cy="649" r="3.2" fill="#4559cc" opacity="0.32"/>
<circle cx="975.6" cy="649" r="3" fill="#4559cc" opacity="0.32"/>
<circle cx="976.3" cy="627.2" r="3" fill="#4559cc" opacity="0.32"/>
<circle cx="963.2" cy="653.5" r="2.6" fill="#4559cc" opacity="0.32"/>
<path d="M944.7,659 V620 C944.7,610 946.9,605 952.2,601.8" stroke="#fff" stroke-opacity="0.35" stroke-width="6.2" fill="none"/>
<path d="M939.8,650 A20.8,8.3 0 0 0 972.2,655.2" stroke="#fff" stroke-opacity="0.44999999999999996" stroke-width="1.5" fill="none"/>
<path d="M963.1,598.7 Q968.9,600 972.1,604.9 Q965.9,604.5 963.1,598.7Z" fill="#fff" fill-opacity="0.44999999999999996"/>
</g>
<path d="M1010.1,660 L1014.82,756.4" stroke="#8c8c8c" stroke-width="6" fill="none" stroke-linejoin="round"/>
<path d="M1021.7,660 V668.8 L1031.5,680.7 L1036.28,756.4" stroke="#8c8c8c" stroke-width="6" fill="none" stroke-linejoin="round"/>
<path d="M1014.01,739.7 L1014.82,756.4" stroke="#72a672" stroke-width="6"/><circle cx="1014.82" cy="756.4" r="3" fill="#72a672"/>
<path d="M1035.23,739.7 L1036.28,756.4" stroke="#72a672" stroke-width="6"/><circle cx="1036.28" cy="756.4" r="3" fill="#72a672"/>
<clipPath id="lc9"><rect x="997" y="600" width="60" height="80"/></clipPath>
<clipPath id="ld9"><path d="M997,652 V615.1 A20.8,20.9 0 0 1 1038.6,615.1 V652 A20.8,7.5 0 0 1 997,652Z"/></clipPath>
<circle cx="1019.8" cy="641.5" r="23" fill="#1acf86" clip-path="url(#lc9)"/>
<path d="M997,652 V615.1 A20.8,20.9 0 0 1 1038.6,615.1 V652 A20.8,7.5 0 0 1 997,652Z" fill="#4bd6a3"/>
<g clip-path="url(#ld9)">
<ellipse cx="1017.8" cy="653" rx="24" ry="19.3" fill="#3ad097"/>
<line x1="997" x2="1039" y1="614.35" y2="614.35" stroke="#2020c0" stroke-opacity="0.22" stroke-width="1.1"/>
<rect x="1007.1" y="621" width="25.6" height="11.7" fill="#27a878"/>
<rect x="1030" y="632" width="2.7" height="10" fill="#27a878"/>
<rect x="1003.9" y="622" width="3.2" height="19.6" fill="#27a878" opacity="0.3"/>
<path d="M1015.6,632.9 L1030.2,620.8" stroke="#4bd6a3" stroke-width="1.5"/>
<circle cx="1013" cy="649" r="3.2" fill="#27a878" opacity="0.32"/>
<circle cx="1034.7" cy="649" r="3" fill="#27a878" opacity="0.32"/>
<circle cx="1035.4" cy="627.2" r="3" fill="#27a878" opacity="0.32"/>
<circle cx="1022.3" cy="653.5" r="2.6" fill="#27a878" opacity="0.32"/>
<path d="M1003.8,659 V620 C1003.8,610 1006,605 1011.3,601.8" stroke="#fff" stroke-opacity="0.4" stroke-width="6.2" fill="none"/>
<path d="M998.9,650 A20.8,8.3 0 0 0 1031.3,655.2" stroke="#fff" stroke-opacity="0.5" stroke-width="1.5" fill="none"/>
<path d="M1022.2,598.7 Q1028,600 1031.2,604.9 Q1025,604.5 1022.2,598.7Z" fill="#fff" fill-opacity="0.5"/>
</g>
<path d="M1077.9,660 L1079.19,756.4" stroke="#8c8c8c" stroke-width="6" fill="none" stroke-linejoin="round"/>
<path d="M1089.5,660 V668.8 L1099.3,680.7 L1100.64,756.4" stroke="#8c8c8c" stroke-width="6" fill="none" stroke-linejoin="round"/>
<path d="M1078.97,739.7 L1079.19,756.4" stroke="#72a672" stroke-width="6"/><circle cx="1079.19" cy="756.4" r="3" fill="#72a672"/>
<path d="M1100.35,739.7 L1100.64,756.4" stroke="#72a672" stroke-width="6"/><circle cx="1100.64" cy="756.4" r="3" fill="#72a672"/>
<clipPath id="lc10"><rect x="1064.8" y="600" width="60" height="80"/></clipPath>
<clipPath id="ld10"><path d="M1064.8,652 V615.1 A20.8,20.9 0 0 1 1106.4,615.1 V652 A20.8,7.5 0 0 1 1064.8,652Z"/></clipPath>
<circle cx="1087.6" cy="641.5" r="23" fill="#f8e622" clip-path="url(#lc10)"/>
<path d="M1064.8,652 V615.1 A20.8,20.9 0 0 1 1106.4,615.1 V652 A20.8,7.5 0 0 1 1064.8,652Z" fill="#f8ea4c"/>
<g clip-path="url(#ld10)">
<ellipse cx="1085.6" cy="653" rx="24" ry="19.3" fill="#f7e838"/>
<line x1="1064.8" x2="1106.8" y1="614.35" y2="614.35" stroke="#2020c0" stroke-opacity="0.22" stroke-width="1.1"/>
<rect x="1074.9" y="621" width="25.6" height="11.7" fill="#c9b92a"/>
<rect x="1097.8" y="632" width="2.7" height="10" fill="#c9b92a"/>
<rect x="1071.7" y="622" width="3.2" height="19.6" fill="#c9b92a" opacity="0.3"/>
<path d="M1083.4,632.9 L1098,620.8" stroke="#f8ea4c" stroke-width="1.5"/>
<circle cx="1080.8" cy="649" r="3.2" fill="#c9b92a" opacity="0.32"/>
<circle cx="1102.5" cy="649" r="3" fill="#c9b92a" opacity="0.32"/>
<circle cx="1103.2" cy="627.2" r="3" fill="#c9b92a" opacity="0.32"/>
<circle cx="1090.1" cy="653.5" r="2.6" fill="#c9b92a" opacity="0.32"/>
<path d="M1071.6,659 V620 C1071.6,610 1073.8,605 1079.1,601.8" stroke="#fff" stroke-opacity="0.4" stroke-width="6.2" fill="none"/>
<path d="M1066.7,650 A20.8,8.3 0 0 0 1099.1,655.2" stroke="#fff" stroke-opacity="0.5" stroke-width="1.5" fill="none"/>
<path d="M1090,598.7 Q1095.8,600 1099,604.9 Q1092.8,604.5 1090,598.7Z" fill="#fff" fill-opacity="0.5"/>
</g>
<path d="M1145.2,660 L1143.55,756.4" stroke="#8c8c8c" stroke-width="6" fill="none" stroke-linejoin="round"/>
<path d="M1156.8,660 V668.8 L1166.6,680.7 L1165.01,756.4" stroke="#8c8c8c" stroke-width="6" fill="none" stroke-linejoin="round"/>
<path d="M1143.84,739.7 L1143.55,756.4" stroke="#72a672" stroke-width="6"/><circle cx="1143.55" cy="756.4" r="3" fill="#72a672"/>
<path d="M1165.36,739.7 L1165.01,756.4" stroke="#72a672" stroke-width="6"/><circle cx="1165.01" cy="756.4" r="3" fill="#72a672"/>
<clipPath id="lc11"><rect x="1132.1" y="600" width="60" height="80"/></clipPath>
<clipPath id="ld11"><path d="M1132.1,652 V615.1 A20.8,20.9 0 0 1 1173.7,615.1 V652 A20.8,7.5 0 0 1 1132.1,652Z"/></clipPath>
<circle cx="1154.9" cy="641.5" r="23" fill="#fbe8fb" clip-path="url(#lc11)"/>
<path d="M1132.1,652 V615.1 A20.8,20.9 0 0 1 1173.7,615.1 V652 A20.8,7.5 0 0 1 1132.1,652Z" fill="#f9ecfa"/>
<g clip-path="url(#ld11)">
<ellipse cx="1152.9" cy="653" rx="24" ry="19.3" fill="#f7e8f8"/>
<line x1="1132.1" x2="1174.1" y1="614.35" y2="614.35" stroke="#2020c0" stroke-opacity="0.22" stroke-width="1.1"/>
<rect x="1142.2" y="621" width="25.6" height="11.7" fill="#c9bccc"/>
<rect x="1165.1" y="632" width="2.7" height="10" fill="#c9bccc"/>
<rect x="1139" y="622" width="3.2" height="19.6" fill="#c9bccc" opacity="0.3"/>
<path d="M1150.7,632.9 L1165.3,620.8" stroke="#f9ecfa" stroke-width="1.5"/>
<circle cx="1148.1" cy="649" r="3.2" fill="#c9bccc" opacity="0.32"/>
<circle cx="1169.8" cy="649" r="3" fill="#c9bccc" opacity="0.32"/>
<circle cx="1170.5" cy="627.2" r="3" fill="#c9bccc" opacity="0.32"/>
<circle cx="1157.4" cy="653.5" r="2.6" fill="#c9bccc" opacity="0.32"/>
<path d="M1138.9,659 V620 C1138.9,610 1141.1,605 1146.4,601.8" stroke="#fff" stroke-opacity="0.45" stroke-width="6.2" fill="none"/>
<path d="M1134,650 A20.8,8.3 0 0 0 1166.4,655.2" stroke="#fff" stroke-opacity="0.55" stroke-width="1.5" fill="none"/>
<path d="M1157.3,598.7 Q1163.1,600 1166.3,604.9 Q1160.1,604.5 1157.3,598.7Z" fill="#fff" fill-opacity="0.55"/>
</g>
<polyline points="392.63,649.3 392.63,713.75" fill="none" stroke="#9a0a0a" stroke-width="9.6" stroke-linecap="round" stroke-linejoin="round"/>
<polyline points="392.63,649.3 392.63,713.75" fill="none" stroke="#cc1414" stroke-width="5.6" stroke-linecap="round" stroke-linejoin="round"/>
<polyline points="478.45,649.3 478.45,713.75" fill="none" stroke="#9a0a0a" stroke-width="9.6" stroke-linecap="round" stroke-linejoin="round"/>
<polyline points="478.45,649.3 478.45,713.75" fill="none" stroke="#cc1414" stroke-width="5.6" stroke-linecap="round" stroke-linejoin="round"/>
<polyline points="564.27,649.3 564.27,713.75" fill="none" stroke="#9a0a0a" stroke-width="9.6" stroke-linecap="round" stroke-linejoin="round"/>
<polyline points="564.27,649.3 564.27,713.75" fill="none" stroke="#cc1414" stroke-width="5.6" stroke-linecap="round" stroke-linejoin="round"/>
<polyline points="650.09,649.3 650.09,713.75" fill="none" stroke="#9a0a0a" stroke-width="9.6" stroke-linecap="round" stroke-linejoin="round"/>
<polyline points="650.09,649.3 650.09,713.75" fill="none" stroke="#cc1414" stroke-width="5.6" stroke-linecap="round" stroke-linejoin="round"/>
<polyline points="735.91,649.3 735.91,713.75" fill="none" stroke="#9a0a0a" stroke-width="9.6" stroke-linecap="round" stroke-linejoin="round"/>
<polyline points="735.91,649.3 735.91,713.75" fill="none" stroke="#cc1414" stroke-width="5.6" stroke-linecap="round" stroke-linejoin="round"/>
<polyline points="886.09,799.55 886.09,1013.95" fill="none" stroke="#000" stroke-width="9.6" stroke-linecap="round" stroke-linejoin="round"/>
<polyline points="886.09,799.55 886.09,1013.95" fill="none" stroke="#404040" stroke-width="5.4" stroke-linecap="round" stroke-linejoin="round"/>
<polyline points="950.46,799.55 950.46,1013.95" fill="none" stroke="#000" stroke-width="9.6" stroke-linecap="round" stroke-linejoin="round"/>
<polyline points="950.46,799.55 950.46,1013.95" fill="none" stroke="#404040" stroke-width="5.4" stroke-linecap="round" stroke-linejoin="round"/>
<polyline points="1014.82,799.55 1014.82,1013.95" fill="none" stroke="#000" stroke-width="9.6" stroke-linecap="round" stroke-linejoin="round"/>
<polyline points="1014.82,799.55 1014.82,1013.95" fill="none" stroke="#404040" stroke-width="5.4" stroke-linecap="round" stroke-linejoin="round"/>
<polyline points="1079.19,799.55 1079.19,1013.95" fill="none" stroke="#000" stroke-width="9.6" stroke-linecap="round" stroke-linejoin="round"/>
<polyline points="1079.19,799.55 1079.19,1013.95" fill="none" stroke="#404040" stroke-width="5.4" stroke-linecap="round" stroke-linejoin="round"/>
<polyline points="1143.55,799.55 1143.55,1013.95" fill="none" stroke="#000" stroke-width="9.6" stroke-linecap="round" stroke-linejoin="round"/>
<polyline points="1143.55,799.55 1143.55,1013.95" fill="none" stroke="#404040" stroke-width="5.4" stroke-linecap="round" stroke-linejoin="round"/>
<polyline points="92.26,627.85 51.8,627.8 49.1,713.75" fill="none" stroke="#000" stroke-width="9.6" stroke-linecap="round" stroke-linejoin="round"/>
<polyline points="92.26,627.85 51.8,627.8 49.1,713.75" fill="none" stroke="#404040" stroke-width="5.4" stroke-linecap="round" stroke-linejoin="round"/>
<circle cx="51.8" cy="627.8" r="5.35" fill="#000"/>
<polyline points="49.1,949.75 51.2,1017.4 92.26,1014.35" fill="none" stroke="#000" stroke-width="9.6" stroke-linecap="round" stroke-linejoin="round"/>
<polyline points="49.1,949.75 51.2,1017.4 92.26,1014.35" fill="none" stroke="#404040" stroke-width="5.4" stroke-linecap="round" stroke-linejoin="round"/>
<circle cx="51.2" cy="1017.4" r="5.35" fill="#000"/>
<polyline points="135.17,627.85 136.8,1075.8 846,1075.8 843.18,949.75" fill="none" stroke="#000" stroke-width="9.6" stroke-linecap="round" stroke-linejoin="round"/>
<polyline points="135.17,627.85 136.8,1075.8 846,1075.8 843.18,949.75" fill="none" stroke="#404040" stroke-width="5.4" stroke-linecap="round" stroke-linejoin="round"/>
<circle cx="136.8" cy="1075.8" r="5.35" fill="#000"/>
<circle cx="846" cy="1075.8" r="5.35" fill="#000"/>
<polyline points="922.8,437.1 921.9,467.7 1336,467.7 1336.65,627.85" fill="none" stroke="#000" stroke-width="9.6" stroke-linecap="round" stroke-linejoin="round"/>
<polyline points="922.8,437.1 921.9,467.7 1336,467.7 1336.65,627.85" fill="none" stroke="#404040" stroke-width="5.4" stroke-linecap="round" stroke-linejoin="round"/>
<circle cx="921.9" cy="467.7" r="5.35" fill="#000"/>
<circle cx="1336" cy="467.7" r="5.35" fill="#000"/>
<polyline points="330.5,437.1 110.7,441.5 113.72,649.3" fill="none" stroke="#9a0a0a" stroke-width="9.6" stroke-linecap="round" stroke-linejoin="round"/>
<polyline points="330.5,437.1 110.7,441.5 113.72,649.3" fill="none" stroke="#cc1414" stroke-width="5.6" stroke-linecap="round" stroke-linejoin="round"/>
<circle cx="110.7" cy="441.5" r="5.35" fill="#8c0000"/>
<polyline points="652.3,437.1 651.3,467.7 465.7,467.7 465.8,686.6 435.54,735.2" fill="none" stroke="#9a0a0a" stroke-width="9.6" stroke-linecap="round" stroke-linejoin="round"/>
<polyline points="652.3,437.1 651.3,467.7 465.7,467.7 465.8,686.6 435.54,735.2" fill="none" stroke="#cc1414" stroke-width="5.6" stroke-linecap="round" stroke-linejoin="round"/>
<circle cx="651.3" cy="467.7" r="5.35" fill="#8c0000"/>
<circle cx="465.7" cy="467.7" r="5.35" fill="#8c0000"/>
<circle cx="465.8" cy="686.6" r="5.35" fill="#8c0000"/>
<polyline points="673.8,437.1 677,484.9 549.8,484.9 549.6,678.8 521.36,735.2" fill="none" stroke="#2f6fc7" stroke-width="9.6" stroke-linecap="round" stroke-linejoin="round"/>
<polyline points="673.8,437.1 677,484.9 549.8,484.9 549.6,678.8 521.36,735.2" fill="none" stroke="#418dd9" stroke-width="5.6" stroke-linecap="round" stroke-linejoin="round"/>
<circle cx="677" cy="484.9" r="5.35" fill="#1b5bb8"/>
<circle cx="549.8" cy="484.9" r="5.35" fill="#1b5bb8"/>
<circle cx="549.6" cy="678.8" r="5.35" fill="#1b5bb8"/>
<polyline points="695.2,437.1 693.4,501.3 634.2,501.3 634.8,678.8 607.18,735.2" fill="none" stroke="#1caa2b" stroke-width="9.6" stroke-linecap="round" stroke-linejoin="round"/>
<polyline points="695.2,437.1 693.4,501.3 634.2,501.3 634.8,678.8 607.18,735.2" fill="none" stroke="#25cc35" stroke-width="5.6" stroke-linecap="round" stroke-linejoin="round"/>
<circle cx="693.4" cy="501.3" r="5.35" fill="#0fa02c"/>
<circle cx="634.2" cy="501.3" r="5.35" fill="#0fa02c"/>
<circle cx="634.8" cy="678.8" r="5.35" fill="#0fa02c"/>
<polyline points="716.7,437.1 718.6,518.2 710.5,525.7 711.1,686.6 693,735.2" fill="none" stroke="#e6de2c" stroke-width="9.6" stroke-linecap="round" stroke-linejoin="round"/>
<polyline points="716.7,437.1 718.6,518.2 710.5,525.7 711.1,686.6 693,735.2" fill="none" stroke="#fff800" stroke-width="5.6" stroke-linecap="round" stroke-linejoin="round"/>
<circle cx="718.6" cy="518.2" r="5.35" fill="#d8d03c"/>
<circle cx="710.5" cy="525.7" r="5.35" fill="#d8d03c"/>
<circle cx="711.1" cy="686.6" r="5.35" fill="#d8d03c"/>
<polyline points="738.1,437.1 737,602.6 820.8,602.6 820.9,686.6 778.82,735.2" fill="none" stroke="#999" stroke-width="9.6" stroke-linecap="round" stroke-linejoin="round"/>
<polyline points="738.1,437.1 737,602.6 820.8,602.6 820.9,686.6 778.82,735.2" fill="none" stroke="#fff" stroke-width="6.4" stroke-linecap="round" stroke-linejoin="round"/>
<circle cx="737" cy="602.6" r="5.35" fill="#999"/>
<circle cx="820.8" cy="602.6" r="5.35" fill="#999"/>
<circle cx="820.9" cy="686.6" r="5.35" fill="#999"/>
<polyline points="759.6,437.1 761.4,577.4 846,577.4 843.18,713.75" fill="none" stroke="#8f3f88" stroke-width="9.6" stroke-linecap="round" stroke-linejoin="round"/>
<polyline points="759.6,437.1 761.4,577.4 846,577.4 843.18,713.75" fill="none" stroke="#ab58a4" stroke-width="5.6" stroke-linecap="round" stroke-linejoin="round"/>
<circle cx="761.4" cy="577.4" r="5.35" fill="#7a3375"/>
<circle cx="846" cy="577.4" r="5.35" fill="#7a3375"/>
<polyline points="794,437.1 795.3,552.2 930.5,552.2 930.4,703 907.55,799.55" fill="none" stroke="#9a0a0a" stroke-width="9.6" stroke-linecap="round" stroke-linejoin="round"/>
<polyline points="794,437.1 795.3,552.2 930.5,552.2 930.4,703 907.55,799.55" fill="none" stroke="#cc1414" stroke-width="5.6" stroke-linecap="round" stroke-linejoin="round"/>
<circle cx="795.3" cy="552.2" r="5.35" fill="#8c0000"/>
<circle cx="930.5" cy="552.2" r="5.35" fill="#8c0000"/>
<circle cx="930.4" cy="703" r="5.35" fill="#8c0000"/>
<polyline points="815.4,437.1 820.3,535.3 989.2,535.3 989.8,703 971.91,799.55" fill="none" stroke="#2f6fc7" stroke-width="9.6" stroke-linecap="round" stroke-linejoin="round"/>
<polyline points="815.4,437.1 820.3,535.3 989.2,535.3 989.8,703 971.91,799.55" fill="none" stroke="#418dd9" stroke-width="5.6" stroke-linecap="round" stroke-linejoin="round"/>
<circle cx="820.3" cy="535.3" r="5.35" fill="#1b5bb8"/>
<circle cx="989.2" cy="535.3" r="5.35" fill="#1b5bb8"/>
<circle cx="989.8" cy="703" r="5.35" fill="#1b5bb8"/>
<polyline points="836.9,437.1 837.5,518.2 1056.8,518.2 1056.4,703 1036.28,799.55" fill="none" stroke="#1caa2b" stroke-width="9.6" stroke-linecap="round" stroke-linejoin="round"/>
<polyline points="836.9,437.1 837.5,518.2 1056.8,518.2 1056.4,703 1036.28,799.55" fill="none" stroke="#25cc35" stroke-width="5.6" stroke-linecap="round" stroke-linejoin="round"/>
<circle cx="837.5" cy="518.2" r="5.35" fill="#0fa02c"/>
<circle cx="1056.8" cy="518.2" r="5.35" fill="#0fa02c"/>
<circle cx="1056.4" cy="703" r="5.35" fill="#0fa02c"/>
<polyline points="858.4,437.1 863.2,501.3 1115.8,501.3 1116,695.4 1100.64,799.55" fill="none" stroke="#e6de2c" stroke-width="9.6" stroke-linecap="round" stroke-linejoin="round"/>
<polyline points="858.4,437.1 863.2,501.3 1115.8,501.3 1116,695.4 1100.64,799.55" fill="none" stroke="#fff800" stroke-width="5.6" stroke-linecap="round" stroke-linejoin="round"/>
<circle cx="863.2" cy="501.3" r="5.35" fill="#d8d03c"/>
<circle cx="1115.8" cy="501.3" r="5.35" fill="#d8d03c"/>
<circle cx="1116" cy="695.4" r="5.35" fill="#d8d03c"/>
<polyline points="879.8,437.1 879.6,484.6 1201,484.6 1200.8,695.9 1165.01,799.55" fill="none" stroke="#999" stroke-width="9.6" stroke-linecap="round" stroke-linejoin="round"/>
<polyline points="879.8,437.1 879.6,484.6 1201,484.6 1200.8,695.9 1165.01,799.55" fill="none" stroke="#fff" stroke-width="6.4" stroke-linecap="round" stroke-linejoin="round"/>
<circle cx="879.6" cy="484.6" r="5.35" fill="#999"/>
<circle cx="1201" cy="484.6" r="5.35" fill="#999"/>
<circle cx="1200.8" cy="695.9" r="5.35" fill="#999"/>
<circle cx="392.63" cy="649.3" r="5.6" fill="#3cdc3c" fill-opacity="0.28" stroke="#35b535" stroke-opacity="0.7" stroke-width="1.2"/>
<circle cx="392.63" cy="713.75" r="5.6" fill="#3cdc3c" fill-opacity="0.28" stroke="#35b535" stroke-opacity="0.7" stroke-width="1.2"/>
<circle cx="478.45" cy="649.3" r="5.6" fill="#3cdc3c" fill-opacity="0.28" stroke="#35b535" stroke-opacity="0.7" stroke-width="1.2"/>
<circle cx="478.45" cy="713.75" r="5.6" fill="#3cdc3c" fill-opacity="0.28" stroke="#35b535" stroke-opacity="0.7" stroke-width="1.2"/>
<circle cx="564.27" cy="649.3" r="5.6" fill="#3cdc3c" fill-opacity="0.28" stroke="#35b535" stroke-opacity="0.7" stroke-width="1.2"/>
<circle cx="564.27" cy="713.75" r="5.6" fill="#3cdc3c" fill-opacity="0.28" stroke="#35b535" stroke-opacity="0.7" stroke-width="1.2"/>
<circle cx="650.09" cy="649.3" r="5.6" fill="#3cdc3c" fill-opacity="0.28" stroke="#35b535" stroke-opacity="0.7" stroke-width="1.2"/>
<circle cx="650.09" cy="713.75" r="5.6" fill="#3cdc3c" fill-opacity="0.28" stroke="#35b535" stroke-opacity="0.7" stroke-width="1.2"/>
<circle cx="735.91" cy="649.3" r="5.6" fill="#3cdc3c" fill-opacity="0.28" stroke="#35b535" stroke-opacity="0.7" stroke-width="1.2"/>
<circle cx="735.91" cy="713.75" r="5.6" fill="#3cdc3c" fill-opacity="0.28" stroke="#35b535" stroke-opacity="0.7" stroke-width="1.2"/>
<circle cx="886.09" cy="799.55" r="5.6" fill="#3cdc3c" fill-opacity="0.28" stroke="#35b535" stroke-opacity="0.7" stroke-width="1.2"/>
<circle cx="886.09" cy="1013.95" r="5.6" fill="#3cdc3c" fill-opacity="0.28" stroke="#35b535" stroke-opacity="0.7" stroke-width="1.2"/>
<circle cx="950.46" cy="799.55" r="5.6" fill="#3cdc3c" fill-opacity="0.28" stroke="#35b535" stroke-opacity="0.7" stroke-width="1.2"/>
<circle cx="950.46" cy="1013.95" r="5.6" fill="#3cdc3c" fill-opacity="0.28" stroke="#35b535" stroke-opacity="0.7" stroke-width="1.2"/>
<circle cx="1014.82" cy="799.55" r="5.6" fill="#3cdc3c" fill-opacity="0.28" stroke="#35b535" stroke-opacity="0.7" stroke-width="1.2"/>
<circle cx="1014.82" cy="1013.95" r="5.6" fill="#3cdc3c" fill-opacity="0.28" stroke="#35b535" stroke-opacity="0.7" stroke-width="1.2"/>
<circle cx="1079.19" cy="799.55" r="5.6" fill="#3cdc3c" fill-opacity="0.28" stroke="#35b535" stroke-opacity="0.7" stroke-width="1.2"/>
<circle cx="1079.19" cy="1013.95" r="5.6" fill="#3cdc3c" fill-opacity="0.28" stroke="#35b535" stroke-opacity="0.7" stroke-width="1.2"/>
<circle cx="1143.55" cy="799.55" r="5.6" fill="#3cdc3c" fill-opacity="0.28" stroke="#35b535" stroke-opacity="0.7" stroke-width="1.2"/>
<circle cx="1143.55" cy="1013.95" r="5.6" fill="#3cdc3c" fill-opacity="0.28" stroke="#35b535" stroke-opacity="0.7" stroke-width="1.2"/>
<circle cx="92.26" cy="627.85" r="5.6" fill="#3cdc3c" fill-opacity="0.28" stroke="#35b535" stroke-opacity="0.7" stroke-width="1.2"/>
<circle cx="49.1" cy="713.75" r="5.6" fill="#3cdc3c" fill-opacity="0.28" stroke="#35b535" stroke-opacity="0.7" stroke-width="1.2"/>
<circle cx="49.1" cy="949.75" r="5.6" fill="#3cdc3c" fill-opacity="0.28" stroke="#35b535" stroke-opacity="0.7" stroke-width="1.2"/>
<circle cx="92.26" cy="1014.35" r="5.6" fill="#3cdc3c" fill-opacity="0.28" stroke="#35b535" stroke-opacity="0.7" stroke-width="1.2"/>
<circle cx="135.17" cy="627.85" r="5.6" fill="#3cdc3c" fill-opacity="0.28" stroke="#35b535" stroke-opacity="0.7" stroke-width="1.2"/>
<circle cx="843.18" cy="949.75" r="5.6" fill="#3cdc3c" fill-opacity="0.28" stroke="#35b535" stroke-opacity="0.7" stroke-width="1.2"/>
<circle cx="922.8" cy="437.1" r="5.6" fill="#3cdc3c" fill-opacity="0.28" stroke="#35b535" stroke-opacity="0.7" stroke-width="1.2"/>
<circle cx="1336.65" cy="627.85" r="5.6" fill="#3cdc3c" fill-opacity="0.28" stroke="#35b535" stroke-opacity="0.7" stroke-width="1.2"/>
<circle cx="330.5" cy="437.1" r="5.6" fill="#3cdc3c" fill-opacity="0.28" stroke="#35b535" stroke-opacity="0.7" stroke-width="1.2"/>
<circle cx="113.72" cy="649.3" r="5.6" fill="#3cdc3c" fill-opacity="0.28" stroke="#35b535" stroke-opacity="0.7" stroke-width="1.2"/>
<circle cx="652.3" cy="437.1" r="5.6" fill="#3cdc3c" fill-opacity="0.28" stroke="#35b535" stroke-opacity="0.7" stroke-width="1.2"/>
<circle cx="435.54" cy="735.2" r="5.6" fill="#3cdc3c" fill-opacity="0.28" stroke="#35b535" stroke-opacity="0.7" stroke-width="1.2"/>
<circle cx="673.8" cy="437.1" r="5.6" fill="#3cdc3c" fill-opacity="0.28" stroke="#35b535" stroke-opacity="0.7" stroke-width="1.2"/>
<circle cx="521.36" cy="735.2" r="5.6" fill="#3cdc3c" fill-opacity="0.28" stroke="#35b535" stroke-opacity="0.7" stroke-width="1.2"/>
<circle cx="695.2" cy="437.1" r="5.6" fill="#3cdc3c" fill-opacity="0.28" stroke="#35b535" stroke-opacity="0.7" stroke-width="1.2"/>
<circle cx="607.18" cy="735.2" r="5.6" fill="#3cdc3c" fill-opacity="0.28" stroke="#35b535" stroke-opacity="0.7" stroke-width="1.2"/>
<circle cx="716.7" cy="437.1" r="5.6" fill="#3cdc3c" fill-opacity="0.28" stroke="#35b535" stroke-opacity="0.7" stroke-width="1.2"/>
<circle cx="693" cy="735.2" r="5.6" fill="#3cdc3c" fill-opacity="0.28" stroke="#35b535" stroke-opacity="0.7" stroke-width="1.2"/>
<circle cx="738.1" cy="437.1" r="5.6" fill="#3cdc3c" fill-opacity="0.28" stroke="#35b535" stroke-opacity="0.7" stroke-width="1.2"/>
<circle cx="778.82" cy="735.2" r="5.6" fill="#3cdc3c" fill-opacity="0.28" stroke="#35b535" stroke-opacity="0.7" stroke-width="1.2"/>
<circle cx="759.6" cy="437.1" r="5.6" fill="#3cdc3c" fill-opacity="0.28" stroke="#35b535" stroke-opacity="0.7" stroke-width="1.2"/>
<circle cx="843.18" cy="713.75" r="5.6" fill="#3cdc3c" fill-opacity="0.28" stroke="#35b535" stroke-opacity="0.7" stroke-width="1.2"/>
<circle cx="794" cy="437.1" r="5.6" fill="#3cdc3c" fill-opacity="0.28" stroke="#35b535" stroke-opacity="0.7" stroke-width="1.2"/>
<circle cx="907.55" cy="799.55" r="5.6" fill="#3cdc3c" fill-opacity="0.28" stroke="#35b535" stroke-opacity="0.7" stroke-width="1.2"/>
<circle cx="815.4" cy="437.1" r="5.6" fill="#3cdc3c" fill-opacity="0.28" stroke="#35b535" stroke-opacity="0.7" stroke-width="1.2"/>
<circle cx="971.91" cy="799.55" r="5.6" fill="#3cdc3c" fill-opacity="0.28" stroke="#35b535" stroke-opacity="0.7" stroke-width="1.2"/>
<circle cx="836.9" cy="437.1" r="5.6" fill="#3cdc3c" fill-opacity="0.28" stroke="#35b535" stroke-opacity="0.7" stroke-width="1.2"/>
<circle cx="1036.28" cy="799.55" r="5.6" fill="#3cdc3c" fill-opacity="0.28" stroke="#35b535" stroke-opacity="0.7" stroke-width="1.2"/>
<circle cx="858.4" cy="437.1" r="5.6" fill="#3cdc3c" fill-opacity="0.28" stroke="#35b535" stroke-opacity="0.7" stroke-width="1.2"/>
<circle cx="1100.64" cy="799.55" r="5.6" fill="#3cdc3c" fill-opacity="0.28" stroke="#35b535" stroke-opacity="0.7" stroke-width="1.2"/>
<circle cx="879.8" cy="437.1" r="5.6" fill="#3cdc3c" fill-opacity="0.28" stroke="#35b535" stroke-opacity="0.7" stroke-width="1.2"/>
<circle cx="1165.01" cy="799.55" r="5.6" fill="#3cdc3c" fill-opacity="0.28" stroke="#35b535" stroke-opacity="0.7" stroke-width="1.2"/>
<circle cx="781.4" cy="29.4" r="5.3" fill="#0a4a0a" stroke="#1f8a1f" stroke-width="1.3"/>
<circle cx="802.8" cy="29.4" r="5.3" fill="#0a4a0a" stroke="#1f8a1f" stroke-width="1.3"/>
<circle cx="824.3" cy="29.4" r="5.3" fill="#0a4a0a" stroke="#1f8a1f" stroke-width="1.3"/>
<circle cx="330.4" cy="72.3" r="5.3" fill="#0a4a0a" stroke="#1f8a1f" stroke-width="1.3"/>
<circle cx="351.9" cy="72.3" r="5.3" fill="#0a4a0a" stroke="#1f8a1f" stroke-width="1.3"/>
<circle cx="351.9" cy="437.12" r="5.3" fill="#0a4a0a" stroke="#1f8a1f" stroke-width="1.3"/>
</svg></body></html>
